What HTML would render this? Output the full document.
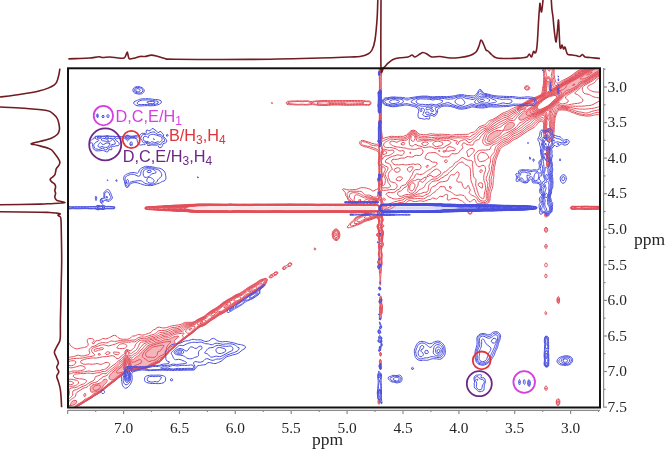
<!DOCTYPE html>
<html><head><meta charset="utf-8"><style>
html,body{margin:0;padding:0;background:#fff;overflow:hidden;}
svg{display:block;filter:blur(0.3px);}
</style></head><body>
<svg width="666" height="450" viewBox="0 0 666 450">
<rect width="666" height="450" fill="#fff"/>
<defs><clipPath id="pc"><rect x="69.0" y="69.3" width="530.0" height="337.3"/></clipPath></defs>

<rect x="152" y="206.6" width="224" height="3.2" fill="#fbe6e8"/>
<rect x="386" y="206.4" width="118" height="3.2" fill="#dcdcf6"/>

<g clip-path="url(#pc)" stroke="none">
<path fill="#f4b4ba" fill-rule="evenodd" d="M522.0 119.9 521.0 120.0 520.1 119.8 519.5 119.5 519.1 118.8 519.1 117.8 519.5 116.8 519.9 116.3 520.3 115.8 520.9 115.3 521.5 114.9 522.0 114.5 522.5 114.1 523.0 113.7 523.5 113.2 524.0 112.7 524.5 112.2 525.0 111.7 525.5 111.2 526.0 110.7 526.5 110.3 527.1 109.8 527.7 109.3 528.5 108.8 529.0 108.5 529.5 108.1 530.0 107.8 530.7 107.3 531.5 106.8 532.0 106.4 532.5 105.9 533.0 105.3 533.4 104.8 533.6 104.3 533.5 103.8 532.9 103.8 532.0 104.1 531.4 104.3 530.5 104.8 530.0 105.0 529.4 105.3 528.5 105.8 528.0 106.0 527.5 106.3 526.5 106.8 526.0 107.0 525.5 107.3 524.5 107.8 524.0 108.0 523.4 108.3 522.5 108.7 522.0 108.9 521.0 109.3 520.5 109.4 519.7 109.3 520.0 108.5 520.5 108.1 521.0 107.8 521.8 107.3 522.5 106.9 523.0 106.6 523.6 106.3 524.5 105.8 525.0 105.6 525.5 105.3 526.5 104.8 527.0 104.5 527.5 104.3 528.4 103.8 529.0 103.5 529.5 103.2 530.4 102.8 531.0 102.5 531.5 102.2 532.2 101.8 533.0 101.4 533.5 101.1 534.2 100.8 535.0 100.5 535.5 100.2 536.5 99.8 537.0 99.6 537.5 99.3 538.4 98.8 539.0 98.5 539.5 98.2 540.2 97.8 541.0 97.4 541.5 97.1 542.1 96.8 542.9 96.3 543.5 96.0 544.0 95.6 544.5 95.3 545.1 94.8 545.6 94.3 546.1 93.8 546.5 93.3 547.0 92.7 547.5 92.0 548.0 91.6 549.0 91.7 550.0 91.7 551.0 91.5 551.5 91.3 552.5 90.8 553.0 90.6 553.6 90.3 554.5 89.9 555.0 89.7 555.9 89.3 556.5 89.1 557.1 88.8 558.0 88.4 558.5 88.2 559.2 87.8 560.0 87.3 560.5 86.9 561.0 86.6 561.5 86.2 562.2 85.8 562.9 85.3 563.5 85.0 564.0 84.7 564.7 84.3 565.5 83.9 566.0 83.6 566.5 83.3 567.4 82.8 568.0 82.5 568.5 82.2 569.1 81.8 570.0 81.3 570.5 81.0 571.0 80.7 571.8 80.3 572.5 79.9 573.0 79.7 573.7 79.3 574.5 78.8 575.0 78.5 575.5 78.2 576.2 77.8 577.0 77.3 577.5 77.0 578.0 76.7 578.7 76.3 579.5 75.8 580.0 75.5 580.5 75.2 581.1 74.8 581.8 74.3 582.4 73.8 583.0 73.4 583.5 73.0 584.0 72.7 584.6 72.3 585.5 71.8 586.0 71.5 586.5 71.2 587.3 70.8 588.0 70.4 588.5 70.2 589.2 69.8 590.0 69.4 590.5 69.1 591.2 68.8 592.0 68.4 592.5 68.1 593.0 67.8 593.6 67.3 594.3 66.8 594.9 66.3 595.5 65.9 596.0 65.5 596.5 65.3 597.5 65.2 598.5 65.1 599.5 65.0 600.5 65.0 601.5 65.0 602.5 64.9 603.4 65.3 603.4 66.3 603.3 67.3 603.3 68.3 603.2 69.3 603.1 70.3 603.0 71.1 602.5 71.5 602.0 71.9 601.4 72.3 600.6 72.8 600.0 73.1 599.5 73.4 598.6 73.8 598.0 74.1 597.5 74.3 596.6 74.8 596.0 75.2 595.5 75.5 595.0 75.8 594.2 76.3 593.5 76.8 593.0 77.1 592.5 77.5 592.0 77.8 591.2 78.3 590.5 78.8 590.0 79.2 589.5 79.5 589.0 79.8 588.3 80.3 587.5 80.7 587.0 81.0 586.4 81.3 585.5 81.7 585.0 82.0 584.3 82.3 583.5 82.6 583.0 82.9 582.1 83.3 581.5 83.7 581.0 84.1 580.5 84.6 580.0 85.2 579.5 85.8 579.1 86.3 578.5 86.8 578.0 87.2 577.5 87.6 577.0 87.9 576.3 88.3 575.5 88.8 575.0 89.1 574.5 89.4 573.9 89.8 573.1 90.3 572.5 90.7 572.0 91.0 571.5 91.3 570.7 91.8 570.0 92.2 569.5 92.4 568.8 92.8 568.0 93.2 567.5 93.5 566.9 93.8 566.0 94.3 565.5 94.6 565.0 95.1 564.5 95.6 564.0 96.1 563.5 96.6 563.0 97.2 562.5 97.7 562.0 98.2 561.5 98.8 561.1 99.3 560.7 99.8 560.1 100.3 559.5 100.7 559.0 101.0 558.5 101.3 557.6 101.8 557.0 102.2 556.5 102.5 556.0 102.8 555.3 103.3 554.7 103.8 554.1 104.3 553.5 104.8 553.0 105.2 552.5 105.6 552.0 106.1 551.5 106.5 551.0 107.0 550.5 107.5 550.0 108.1 549.5 108.8 549.2 109.3 548.8 109.8 548.5 110.3 547.5 110.7 546.5 110.5 545.5 110.6 545.0 110.8 544.0 111.3 543.5 111.5 543.0 111.8 542.0 112.3 541.5 112.5 540.8 112.8 540.0 113.2 539.5 113.4 538.5 113.8 538.0 114.0 537.1 114.3 536.5 114.5 535.5 114.8 535.0 114.9 534.0 115.2 533.4 115.3 532.5 115.6 531.9 115.8 531.0 116.2 530.5 116.4 529.5 116.7 529.0 116.8 528.0 117.0 527.0 117.3 526.5 117.5 525.9 117.8 525.1 118.3 524.5 118.7 524.0 119.0 523.5 119.3 522.5 119.8 522.0 119.9Z M507.5 129.8 506.5 129.9 505.8 129.8 505.0 129.4 504.8 128.8 504.9 127.8 505.0 127.2 505.3 126.3 505.7 125.8 506.2 125.3 506.8 124.8 507.4 124.3 508.0 123.8 508.5 123.4 509.0 123.0 509.5 122.7 510.5 122.4 511.5 122.4 512.5 122.7 513.0 123.0 513.5 123.3 514.0 123.8 514.2 124.8 514.0 125.5 513.5 126.3 513.1 126.8 512.5 127.3 512.0 127.7 511.5 128.1 511.0 128.4 510.2 128.8 509.5 129.2 509.0 129.4 508.0 129.7 507.5 129.8Z M489.5 141.4 488.5 141.3 488.0 141.1 487.5 140.6 487.3 139.8 487.5 139.0 487.8 138.3 488.1 137.8 488.4 136.8 488.7 136.3 489.0 135.7 489.5 135.0 490.0 134.5 490.5 134.1 491.0 133.7 491.7 133.3 492.5 132.8 493.0 132.4 493.5 132.1 494.0 131.8 495.0 131.3 495.5 131.2 496.5 130.8 497.0 130.7 498.0 130.5 499.0 130.6 499.8 130.8 500.5 131.1 501.1 131.3 501.2 132.3 501.0 132.8 500.5 133.7 500.1 134.3 499.7 134.8 499.2 135.3 498.5 135.7 498.0 136.0 497.5 136.3 496.6 136.8 496.0 137.2 495.5 137.5 495.0 137.9 494.4 138.3 493.8 138.8 493.1 139.3 492.5 139.8 492.0 140.1 491.5 140.5 491.0 140.8 490.0 141.2 489.5 141.4Z M378.5 211.5 377.5 211.7 376.5 211.7 375.5 211.7 374.5 211.7 373.5 211.7 372.5 211.6 371.5 211.6 370.5 211.6 369.5 211.6 368.5 211.6 367.5 211.6 366.5 211.6 365.5 211.6 364.5 211.6 363.5 211.6 362.5 211.5 361.5 211.5 360.5 211.5 359.5 211.5 358.5 211.5 357.5 211.5 356.5 211.5 355.5 211.5 354.5 211.6 353.5 211.6 352.5 211.6 351.5 211.6 350.5 211.6 349.5 211.6 348.5 211.6 347.5 211.6 346.5 211.6 345.5 211.6 344.5 211.5 343.5 211.5 342.5 211.5 341.5 211.5 340.5 211.5 339.5 211.5 338.5 211.5 337.5 211.5 336.5 211.5 335.5 211.5 334.5 211.5 333.5 211.5 332.5 211.5 331.5 211.5 330.5 211.5 329.5 211.5 328.5 211.5 327.5 211.5 326.5 211.5 325.5 211.5 324.5 211.6 323.5 211.6 322.5 211.6 321.5 211.6 320.5 211.5 319.5 211.5 318.5 211.5 317.5 211.5 316.5 211.5 315.5 211.5 314.5 211.5 313.5 211.5 312.5 211.5 311.5 211.5 310.5 211.5 309.5 211.5 308.5 211.5 307.5 211.6 306.5 211.6 305.5 211.6 304.5 211.6 303.5 211.6 302.5 211.6 301.5 211.6 300.5 211.6 299.5 211.6 298.5 211.6 297.5 211.6 296.5 211.6 295.5 211.6 294.5 211.6 293.5 211.6 292.5 211.6 291.5 211.6 290.5 211.6 289.5 211.6 288.5 211.6 287.5 211.6 286.5 211.6 285.5 211.6 284.5 211.6 283.5 211.6 282.5 211.6 281.5 211.5 280.5 211.5 279.5 211.5 278.5 211.5 277.5 211.5 276.5 211.5 275.5 211.5 274.5 211.5 273.5 211.5 272.5 211.5 271.5 211.6 270.5 211.6 269.5 211.6 268.5 211.6 267.5 211.6 266.5 211.6 265.5 211.6 264.5 211.6 263.5 211.6 262.5 211.6 261.5 211.6 260.5 211.6 259.5 211.6 258.5 211.6 257.5 211.6 256.5 211.6 255.5 211.6 254.5 211.6 253.5 211.6 252.5 211.6 251.5 211.6 250.5 211.5 249.5 211.5 248.5 211.6 247.5 211.5 246.5 211.5 245.5 211.5 244.5 211.5 243.5 211.5 242.5 211.5 241.5 211.5 240.5 211.5 239.5 211.4 238.5 211.4 237.5 211.4 236.5 211.4 235.5 211.5 234.5 211.5 233.5 211.5 232.5 211.6 231.5 211.6 230.5 211.7 229.5 211.7 228.5 211.6 227.5 211.6 226.5 211.6 225.5 211.6 224.5 211.6 223.5 211.6 222.5 211.6 221.5 211.6 220.5 211.6 219.5 211.6 218.5 211.6 217.5 211.6 216.5 211.6 215.5 211.6 214.5 211.6 213.5 211.6 212.5 211.6 211.5 211.6 210.5 211.6 209.5 211.5 208.5 211.5 207.5 211.5 206.5 211.5 205.5 211.5 204.5 211.5 203.5 211.5 202.5 211.5 201.5 211.4 200.5 211.4 199.5 211.4 198.5 211.4 197.5 211.4 196.5 211.4 195.5 211.3 194.9 211.3 194.0 211.3 193.0 211.2 192.0 211.2 191.0 211.1 190.0 211.1 189.0 210.9 188.5 210.8 187.5 210.7 186.5 210.6 185.5 210.6 184.5 210.5 183.5 210.4 182.5 210.3 182.0 210.3 181.0 210.3 180.0 210.2 179.0 210.2 178.0 210.2 177.0 210.1 176.0 210.0 175.0 209.9 174.0 209.8 173.5 209.8 172.5 209.7 171.5 209.6 170.5 209.5 169.5 209.5 168.5 209.4 167.7 209.3 167.0 209.3 166.2 209.3 165.5 209.4 164.6 209.3 164.0 209.1 163.4 208.8 162.8 208.3 163.1 207.8 163.9 207.3 164.5 207.1 165.5 207.0 166.5 207.1 167.5 207.0 168.5 206.9 169.5 206.8 170.0 206.8 171.0 206.7 172.0 206.6 173.0 206.5 174.0 206.4 175.0 206.4 176.0 206.3 177.0 206.3 177.5 206.3 178.5 206.3 179.5 206.2 180.5 206.2 181.5 206.2 182.5 206.1 183.5 206.0 184.5 206.0 185.5 205.9 186.5 205.8 187.2 205.8 188.0 205.7 189.0 205.5 190.0 205.4 191.0 205.3 192.0 205.3 192.8 205.3 193.5 205.2 194.5 205.1 195.5 205.1 196.5 205.0 197.5 205.0 198.5 204.9 199.5 204.9 200.5 204.9 201.5 204.9 202.5 204.9 203.5 204.9 204.5 204.9 205.5 204.9 206.5 204.9 207.5 204.9 208.5 204.9 209.5 204.9 210.5 204.9 211.5 204.9 212.5 204.9 213.5 204.9 214.5 204.9 215.5 204.9 216.5 204.9 217.5 204.9 218.5 204.9 219.5 204.9 220.5 204.9 221.5 204.9 222.5 204.9 223.5 204.9 224.5 204.9 225.5 204.9 226.5 204.9 227.5 204.9 228.5 204.9 229.5 204.8 230.0 204.8 230.6 204.8 231.5 204.8 232.5 204.9 233.5 204.9 234.5 204.9 235.5 204.9 236.5 204.9 237.5 204.9 238.5 204.9 239.5 204.9 240.5 204.9 241.5 204.9 242.5 204.9 243.5 204.9 244.5 204.9 245.5 204.9 246.5 204.9 247.5 204.9 248.5 204.9 249.5 204.9 250.5 204.9 251.5 204.9 252.5 204.9 253.5 204.9 254.5 204.9 255.5 204.9 256.5 204.9 257.5 204.9 258.5 204.9 259.5 204.9 260.5 204.9 261.5 204.9 262.5 204.9 263.5 204.9 264.5 204.9 265.5 204.9 266.5 204.9 267.5 204.9 268.5 204.9 269.5 204.9 270.5 204.9 271.5 204.9 272.5 204.9 273.5 204.9 274.5 204.9 275.5 204.9 276.5 204.9 277.5 204.9 278.5 204.9 279.5 204.9 280.5 204.9 281.5 204.9 282.5 204.8 283.5 204.8 284.5 204.8 285.5 204.8 286.5 204.8 287.5 204.8 288.5 204.8 289.5 204.8 290.5 204.8 291.5 204.8 292.5 204.8 293.5 204.8 294.5 204.8 295.5 204.8 296.5 204.8 297.5 204.8 298.5 204.9 299.5 204.9 300.5 204.9 301.5 204.8 302.5 204.8 303.5 204.8 304.5 204.8 305.5 204.8 306.5 204.8 307.5 204.8 308.5 204.8 309.5 204.8 310.5 204.9 311.5 204.9 312.5 204.9 313.5 204.9 314.5 204.9 315.5 204.9 316.5 204.9 317.5 204.9 318.5 204.9 319.5 204.9 320.5 204.9 321.5 204.9 322.5 204.9 323.5 204.9 324.5 204.9 325.5 204.9 326.5 204.9 327.5 204.9 328.5 204.9 329.5 204.9 330.5 204.9 331.5 204.9 332.5 204.9 333.5 204.9 334.5 204.9 335.5 204.9 336.5 204.9 337.5 204.9 338.5 204.9 339.5 204.9 340.5 204.9 341.5 204.9 342.5 204.9 343.5 204.9 344.5 204.9 345.5 204.9 346.5 204.8 347.5 204.8 348.5 204.8 349.5 204.8 350.5 204.8 351.5 204.8 352.5 204.8 353.5 204.8 354.5 204.8 355.5 204.8 356.5 204.8 357.5 204.8 358.5 204.8 359.5 204.8 360.5 204.9 361.5 204.9 362.5 204.9 363.5 204.9 364.5 204.9 365.5 204.9 366.5 204.9 367.5 204.8 368.5 204.8 369.5 204.8 370.5 204.8 371.5 204.8 372.5 204.8 373.5 204.8 374.5 204.8 375.5 204.8 376.2 204.8 377.0 204.7 377.6 204.8 378.5 205.0 379.0 205.3 379.5 205.8 380.0 206.5 380.4 207.3 380.5 208.3 380.4 209.3 380.0 210.3 379.8 210.8 379.0 211.3 378.5 211.5Z M380.0 212.5 380.0 212.0 380.0 212.5Z M225.0 307.4 224.0 307.4 224.0 307.1 224.3 306.3 224.7 305.8 225.2 305.3 226.0 304.8 226.5 304.6 227.5 304.3 228.2 304.8 228.0 305.3 227.5 305.9 227.0 306.3 226.3 306.8 225.5 307.2 225.0 307.4Z M201.0 323.4 200.0 323.4 199.8 322.8 200.2 322.3 201.0 321.8 201.5 321.6 202.5 321.5 203.0 321.8 202.8 322.3 202.3 322.8 201.5 323.2 201.0 323.4Z M189.5 329.9 189.4 329.3 189.8 328.8 190.4 328.3 191.0 328.1 191.6 328.3 191.3 328.8 190.8 329.3 190.0 329.7 189.5 329.9Z M113.5 379.4 112.5 379.7 111.5 379.7 110.8 379.3 110.0 378.8 109.5 378.4 109.2 377.8 109.3 376.8 109.5 376.3 110.0 375.4 110.3 374.8 110.7 374.3 111.1 373.8 111.6 373.3 112.2 372.8 112.8 372.3 113.4 371.8 113.9 371.3 114.5 370.8 115.0 370.3 115.5 369.8 116.0 369.3 116.5 368.9 117.0 368.5 117.5 368.1 118.0 367.7 118.5 367.3 119.0 366.8 119.6 366.3 120.1 365.8 120.6 365.3 121.2 364.8 121.8 364.3 122.3 363.8 122.7 363.3 123.0 362.8 123.5 362.0 123.8 361.3 124.0 360.8 124.5 359.8 124.7 359.3 125.0 358.8 125.5 358.0 126.0 357.4 126.5 356.9 127.0 356.5 128.0 356.8 128.5 357.2 129.0 357.8 129.4 358.3 129.8 358.8 130.2 359.3 130.7 359.8 131.5 360.3 132.0 360.3 132.5 360.2 133.3 359.8 133.9 359.3 134.4 358.8 134.9 358.3 135.4 357.8 136.0 357.4 136.5 357.1 137.0 356.8 137.8 356.3 138.4 355.8 138.9 355.3 139.4 354.8 139.8 354.3 140.2 353.8 140.6 353.3 141.0 352.8 141.5 352.3 142.1 351.8 142.6 351.3 143.1 350.8 143.6 350.3 144.1 349.8 144.6 349.3 145.1 348.8 145.5 348.3 146.0 347.7 146.5 347.2 147.0 346.7 147.5 346.3 148.1 345.8 148.9 345.3 149.5 345.0 150.0 344.8 151.0 344.4 151.5 344.2 152.5 343.9 153.0 343.8 154.0 343.4 154.5 343.2 155.5 342.8 156.0 342.6 157.0 342.3 157.5 342.2 158.5 342.0 159.5 341.8 160.0 341.7 161.0 341.4 161.5 341.1 162.2 340.8 163.0 340.4 163.5 340.2 164.5 339.9 165.3 339.8 166.0 339.8 167.0 339.7 168.0 339.6 168.9 339.3 169.5 339.0 170.0 338.8 170.9 338.3 171.5 338.0 172.0 337.7 173.0 337.3 173.5 337.2 174.5 336.9 175.1 336.8 176.0 336.6 177.0 336.5 178.0 336.4 178.6 336.8 178.0 337.3 177.5 337.7 177.0 338.1 176.5 338.5 176.0 338.9 175.5 339.3 175.0 339.8 174.5 340.3 174.0 341.3 174.0 341.3 174.3 342.3 174.4 343.3 174.1 344.3 173.8 344.8 173.3 345.3 172.5 345.8 172.0 346.0 171.4 346.3 170.5 346.7 170.0 347.1 169.5 347.6 169.0 348.2 168.7 348.8 168.5 349.5 168.4 350.3 168.0 351.3 167.6 351.8 167.3 352.3 166.9 352.8 166.4 353.3 166.0 353.8 165.5 354.3 165.0 354.8 164.4 355.3 163.9 355.8 163.3 356.3 162.7 356.8 162.0 357.3 161.5 357.5 160.8 357.8 160.0 358.3 159.5 358.6 159.0 359.0 158.5 359.5 158.0 359.9 157.5 360.4 157.0 360.8 156.2 361.3 155.5 361.7 155.0 361.8 154.0 362.2 153.5 362.4 152.7 362.8 152.0 363.2 151.5 363.5 151.0 363.8 150.1 364.3 149.5 364.6 149.0 365.0 148.5 365.3 147.7 365.8 147.0 366.1 146.5 366.4 145.5 366.6 144.5 366.7 143.5 366.8 143.0 366.8 142.0 366.8 141.0 366.8 140.5 366.7 139.5 366.6 138.5 366.6 137.5 366.7 136.8 366.8 136.0 367.0 135.0 367.3 134.5 367.5 133.8 367.8 133.0 368.1 132.5 368.3 131.5 368.7 131.0 368.9 130.2 369.3 129.5 369.6 128.9 369.8 128.0 370.1 127.2 370.3 126.5 370.7 126.0 371.0 125.4 371.3 124.5 371.8 124.0 372.1 123.5 372.4 122.8 372.8 122.1 373.3 121.5 373.7 121.0 374.0 120.5 374.4 119.8 374.8 119.0 375.3 118.5 375.5 118.0 375.8 117.2 376.3 116.5 376.8 116.0 377.2 115.5 377.6 115.0 378.1 114.5 378.6 114.0 379.0 113.5 379.4Z M94.5 391.8 93.5 391.9 92.5 392.0 91.8 391.8 91.2 391.3 90.9 390.8 90.6 389.8 90.5 388.8 90.6 387.8 91.0 386.9 91.3 386.3 91.8 385.8 92.4 385.3 93.0 385.0 93.5 384.8 94.5 384.4 95.1 384.3 96.0 384.1 97.0 383.9 97.5 383.8 98.5 383.6 99.5 383.3 100.0 383.2 101.0 382.9 101.5 382.7 102.1 382.3 102.5 381.8 103.0 381.0 103.5 380.4 104.0 380.0 104.5 379.7 105.5 379.5 106.3 379.8 106.6 380.3 106.6 381.3 106.5 381.8 106.0 382.5 105.5 383.0 105.0 383.3 104.3 383.8 103.8 384.3 103.5 384.8 103.1 385.8 102.9 386.3 102.5 387.0 102.0 387.7 101.5 388.3 101.0 388.7 100.5 389.2 100.0 389.6 99.5 389.9 98.9 390.3 98.0 390.8 97.5 391.0 96.7 391.3 96.0 391.5 95.0 391.7 94.5 391.8Z M73.0 404.9 72.0 404.8 71.5 404.4 71.3 403.8 71.5 402.8 71.7 402.3 72.1 401.8 72.6 401.3 73.5 400.8 74.0 400.7 75.0 400.7 75.6 400.8 76.3 401.3 76.4 402.3 76.0 403.1 75.5 403.7 75.0 404.1 74.5 404.4 73.5 404.8 73.0 404.9Z M68.5 407.8 67.5 408.1 66.8 407.8 66.9 406.8 67.3 406.3 68.0 406.0 69.0 406.3 69.2 406.8 69.0 407.4 68.5 407.8Z M540.0 109.4 539.0 109.4 538.5 109.3 537.7 108.8 537.3 108.3 537.3 107.3 537.5 106.5 537.9 105.8 538.2 105.3 538.6 104.8 539.1 104.3 539.6 103.8 540.1 103.3 540.6 102.8 541.1 102.3 541.6 101.8 542.2 101.3 542.7 100.8 543.3 100.3 544.0 99.8 544.5 99.4 545.0 99.1 545.5 98.8 546.3 98.3 547.0 97.8 547.5 97.5 548.0 97.3 549.0 96.9 549.5 96.7 550.5 96.4 551.0 96.3 552.0 96.0 552.7 95.8 553.5 95.6 554.5 95.4 555.5 95.4 556.4 95.8 556.7 96.3 556.6 97.3 556.3 97.8 555.9 98.3 555.5 98.8 555.0 99.3 554.4 99.8 553.9 100.3 553.4 100.8 552.9 101.3 552.4 101.8 551.9 102.3 551.4 102.8 550.8 103.3 550.3 103.8 549.7 104.3 549.1 104.8 548.5 105.2 548.0 105.6 547.5 105.9 546.8 106.3 546.0 106.8 545.5 107.0 545.0 107.3 544.0 107.8 543.5 108.1 543.0 108.3 542.0 108.8 541.5 109.0 540.5 109.3 540.0 109.4Z M377.0 210.8 376.0 210.8 375.0 210.9 374.0 210.9 373.0 210.9 372.0 210.9 371.0 210.9 370.0 210.9 369.0 210.9 368.0 210.9 367.0 210.9 366.0 210.9 365.0 210.9 364.0 210.8 363.0 210.8 362.1 210.8 361.5 210.8 360.5 210.8 359.5 210.8 358.5 210.8 357.5 210.8 356.5 210.8 355.6 210.8 355.0 210.8 354.0 210.8 353.0 210.9 352.0 210.9 351.0 210.9 350.0 210.9 349.0 210.9 348.0 210.9 347.0 210.9 346.0 210.8 345.1 210.8 344.5 210.8 343.5 210.8 342.5 210.8 341.5 210.8 340.5 210.8 339.5 210.8 338.5 210.8 337.5 210.8 336.5 210.8 335.5 210.8 334.5 210.8 333.5 210.8 332.5 210.8 331.5 210.8 330.5 210.7 329.5 210.7 328.5 210.8 327.5 210.8 326.5 210.8 325.5 210.8 324.9 210.8 324.0 210.8 323.0 210.8 322.0 210.8 321.5 210.8 320.5 210.8 319.5 210.8 318.5 210.8 317.5 210.8 316.5 210.8 315.5 210.8 314.5 210.8 313.5 210.8 312.5 210.8 311.5 210.8 310.5 210.8 309.5 210.8 308.5 210.8 308.0 210.8 307.0 210.8 306.0 210.8 305.0 210.9 304.0 210.9 303.0 210.9 302.0 210.9 301.0 210.9 300.0 210.9 299.0 210.9 298.0 210.9 297.0 210.9 296.0 210.9 295.0 210.9 294.0 210.9 293.0 210.9 292.0 210.9 291.0 210.9 290.0 210.9 289.0 210.9 288.0 210.9 287.0 210.9 286.0 210.9 285.0 210.9 284.0 210.9 283.0 210.9 282.0 210.8 281.5 210.8 280.5 210.8 279.5 210.8 278.5 210.8 277.5 210.8 276.5 210.8 275.5 210.8 274.5 210.8 273.5 210.8 272.7 210.8 272.0 210.8 271.0 210.9 270.0 210.9 269.0 210.9 268.0 210.9 267.0 210.9 266.0 210.9 265.0 210.9 264.0 210.9 263.0 210.9 262.0 210.9 261.0 210.9 260.0 210.9 259.0 210.9 258.0 210.9 257.0 210.9 256.0 210.9 255.0 210.9 254.0 210.9 253.0 210.8 252.0 210.8 251.0 210.8 250.0 210.8 249.0 210.8 248.0 210.8 247.5 210.8 246.5 210.8 245.5 210.8 244.5 210.8 243.5 210.8 242.5 210.8 241.5 210.8 240.5 210.7 239.5 210.7 238.5 210.7 237.5 210.7 236.5 210.7 235.5 210.8 234.5 210.8 233.5 210.8 233.0 210.8 232.0 210.9 231.0 211.0 230.0 211.1 229.0 211.0 228.0 210.9 227.0 210.8 226.0 210.8 225.1 210.8 224.5 210.8 223.5 210.8 222.5 210.8 221.5 210.8 220.5 210.8 219.5 210.8 218.5 210.8 217.5 210.8 216.5 210.8 215.5 210.8 214.5 210.8 214.0 210.8 213.0 210.8 212.2 210.8 211.5 210.8 210.5 210.8 209.5 210.7 208.5 210.7 207.5 210.7 206.5 210.6 205.5 210.6 204.5 210.6 203.5 210.6 202.5 210.6 201.5 210.6 200.5 210.6 199.5 210.6 198.5 210.5 197.5 210.5 196.5 210.5 195.5 210.4 194.5 210.4 193.8 210.3 193.0 210.2 192.0 210.1 191.0 210.1 190.0 209.9 189.3 209.8 188.5 209.6 187.7 209.3 187.0 209.1 186.0 209.0 185.0 208.8 184.5 208.6 183.8 208.3 184.4 207.8 185.0 207.7 186.0 207.5 186.9 207.3 187.5 207.2 188.5 206.8 189.0 206.7 190.0 206.5 191.0 206.4 192.0 206.4 192.9 206.3 193.5 206.2 194.5 206.1 195.5 206.0 196.5 205.9 197.5 205.9 198.5 205.8 199.5 205.8 200.0 205.8 201.0 205.8 202.0 205.8 203.0 205.8 204.0 205.8 205.0 205.8 206.0 205.7 207.0 205.7 208.0 205.7 209.0 205.6 210.0 205.6 211.0 205.6 212.0 205.6 213.0 205.6 214.0 205.6 215.0 205.6 216.0 205.6 217.0 205.6 218.0 205.6 219.0 205.6 220.0 205.6 221.0 205.6 222.0 205.6 223.0 205.6 224.0 205.6 225.0 205.6 226.0 205.6 227.0 205.6 228.0 205.6 229.0 205.4 230.0 205.4 231.0 205.4 232.0 205.5 233.0 205.5 234.0 205.5 235.0 205.5 236.0 205.6 237.0 205.6 238.0 205.6 239.0 205.6 240.0 205.6 241.0 205.6 242.0 205.6 243.0 205.6 244.0 205.6 245.0 205.6 246.0 205.6 247.0 205.6 248.0 205.6 249.0 205.6 250.0 205.6 251.0 205.6 252.0 205.6 253.0 205.5 254.0 205.5 255.0 205.5 256.0 205.5 257.0 205.5 258.0 205.5 259.0 205.5 260.0 205.5 261.0 205.5 262.0 205.5 263.0 205.5 264.0 205.5 265.0 205.5 266.0 205.5 267.0 205.5 268.0 205.5 269.0 205.5 270.0 205.5 271.0 205.5 272.0 205.5 273.0 205.5 274.0 205.5 275.0 205.5 276.0 205.5 277.0 205.5 278.0 205.5 279.0 205.5 280.0 205.5 281.0 205.5 282.0 205.5 283.0 205.5 284.0 205.4 285.0 205.4 286.0 205.4 287.0 205.4 288.0 205.4 289.0 205.4 290.0 205.4 291.0 205.4 292.0 205.4 293.0 205.4 294.0 205.4 295.0 205.4 296.0 205.5 297.0 205.5 298.0 205.5 299.0 205.5 300.0 205.5 301.0 205.5 302.0 205.5 303.0 205.4 304.0 205.4 305.0 205.4 306.0 205.4 307.0 205.5 308.0 205.5 309.0 205.5 310.0 205.5 311.0 205.5 312.0 205.5 313.0 205.5 314.0 205.5 315.0 205.6 316.0 205.6 317.0 205.6 318.0 205.6 319.0 205.7 320.0 205.6 321.0 205.6 322.0 205.6 323.0 205.5 324.0 205.5 325.0 205.5 326.0 205.5 327.0 205.5 328.0 205.6 329.0 205.6 330.0 205.6 331.0 205.6 332.0 205.5 333.0 205.5 334.0 205.5 335.0 205.6 336.0 205.6 337.0 205.6 338.0 205.6 339.0 205.6 340.0 205.6 341.0 205.6 342.0 205.6 343.0 205.5 344.0 205.5 345.0 205.5 346.0 205.5 347.0 205.4 348.0 205.4 349.0 205.4 350.0 205.4 351.0 205.4 352.0 205.4 353.0 205.4 354.0 205.5 355.0 205.5 356.0 205.5 357.0 205.5 358.0 205.5 359.0 205.5 360.0 205.5 361.0 205.5 362.0 205.5 363.0 205.6 364.0 205.6 365.0 205.6 366.0 205.5 367.0 205.5 368.0 205.5 369.0 205.5 370.0 205.5 371.0 205.5 372.0 205.5 373.0 205.6 374.0 205.6 375.0 205.6 376.0 205.6 377.0 205.6 377.9 205.8 378.5 206.1 379.0 206.6 379.4 207.3 379.6 207.8 379.6 208.8 379.4 209.3 379.0 209.9 378.5 210.4 377.5 210.8 377.0 210.8Z"/>
<path fill="#b8bcf2" fill-rule="evenodd" d="M440.5 211.3 439.5 211.4 438.5 211.3 438.0 211.3 437.1 211.3 436.5 211.4 435.5 211.4 434.5 211.5 433.5 211.6 432.5 211.6 431.5 211.6 430.5 211.6 429.5 211.6 428.5 211.6 427.5 211.7 426.5 211.7 425.5 211.7 424.5 211.7 423.5 211.7 422.5 211.7 421.5 211.7 420.5 211.7 419.5 211.7 418.5 211.7 417.5 211.7 416.5 211.7 415.5 211.7 414.5 211.7 413.5 211.7 412.5 211.7 411.5 211.7 410.5 211.6 409.5 211.7 408.5 211.7 407.5 211.7 406.5 211.7 405.5 211.7 404.5 211.7 403.5 211.6 402.5 211.6 401.5 211.6 400.5 211.6 399.5 211.7 398.5 211.7 397.5 211.7 396.5 211.7 395.5 211.7 394.5 211.7 393.5 211.7 392.5 211.7 391.5 211.6 390.5 211.6 389.5 211.6 388.5 211.6 387.5 211.6 386.5 211.6 385.5 211.6 384.5 211.6 383.5 211.6 382.5 211.5 381.9 211.3 381.0 210.8 380.5 210.4 380.1 209.8 379.8 209.3 379.6 208.3 379.7 207.3 380.0 206.8 380.5 205.9 381.0 205.5 381.5 205.2 382.5 204.9 383.5 204.8 384.5 204.8 385.5 204.8 386.5 204.8 387.5 204.8 388.5 204.8 389.5 204.8 390.5 204.8 391.5 204.8 392.5 204.8 393.5 204.8 394.5 204.8 395.5 204.8 396.0 204.8 397.0 204.8 398.0 204.7 399.0 204.7 400.0 204.7 401.0 204.7 402.0 204.7 403.0 204.7 404.0 204.7 405.0 204.7 406.0 204.7 407.0 204.7 408.0 204.7 409.0 204.7 410.0 204.7 411.0 204.7 412.0 204.7 413.0 204.7 414.0 204.7 415.0 204.7 416.0 204.7 417.0 204.7 418.0 204.7 419.0 204.6 420.0 204.6 421.0 204.6 422.0 204.6 423.0 204.6 424.0 204.6 425.0 204.6 426.0 204.6 427.0 204.6 428.0 204.6 429.0 204.6 430.0 204.6 431.0 204.6 432.0 204.7 433.0 204.7 434.0 204.8 434.9 204.8 435.5 204.8 436.5 204.8 437.5 204.9 438.5 204.8 439.5 204.8 440.5 204.8 441.5 204.9 442.5 205.1 443.5 205.1 444.5 205.2 445.5 205.2 446.5 205.2 447.5 205.2 448.5 205.2 449.5 205.2 450.5 205.3 451.5 205.3 452.5 205.3 453.5 205.3 454.0 205.3 455.0 205.3 456.0 205.4 457.0 205.4 458.0 205.5 459.0 205.5 460.0 205.6 461.0 205.6 462.0 205.6 463.0 205.6 464.0 205.6 465.0 205.6 466.0 205.6 467.0 205.6 468.0 205.6 469.0 205.6 470.0 205.6 471.0 205.6 472.0 205.6 473.0 205.6 474.0 205.6 475.0 205.7 476.0 205.7 477.0 205.7 478.0 205.8 478.5 205.8 479.5 205.8 480.5 205.8 481.5 205.9 482.5 205.9 483.5 205.9 484.5 206.0 485.5 206.0 486.5 206.0 487.5 206.0 488.5 205.9 489.5 205.9 490.5 205.9 491.5 205.9 492.5 205.9 493.5 205.9 494.5 206.0 495.5 206.0 496.5 206.0 497.5 206.1 498.5 206.1 499.5 206.2 500.5 206.2 501.5 206.3 502.0 206.3 503.0 206.3 504.0 206.4 505.0 206.4 506.0 206.4 507.0 206.4 508.0 206.4 509.0 206.4 510.0 206.4 511.0 206.4 512.0 206.4 513.0 206.4 514.0 206.4 515.0 206.4 516.0 206.5 517.0 206.5 518.0 206.6 519.0 206.6 520.0 206.6 521.0 206.7 522.0 206.7 523.0 206.7 524.0 206.8 524.5 206.8 525.5 206.9 526.5 206.9 527.5 207.0 528.5 207.2 529.1 207.3 530.0 207.7 530.0 207.9 529.1 208.3 528.5 208.4 527.5 208.6 526.5 208.7 525.6 208.8 525.0 208.9 524.0 209.0 523.0 209.0 522.0 209.1 521.0 209.1 520.0 209.1 519.0 209.1 518.0 209.2 517.0 209.2 516.0 209.2 515.0 209.3 514.0 209.3 513.3 209.3 512.5 209.3 511.5 209.4 510.5 209.4 509.5 209.5 508.5 209.5 507.5 209.5 506.5 209.5 505.5 209.6 504.5 209.6 503.5 209.6 502.5 209.7 501.5 209.7 500.5 209.7 499.5 209.7 498.5 209.7 497.5 209.8 496.5 209.8 496.0 209.8 495.0 209.9 494.0 209.9 493.0 210.0 492.0 210.0 491.0 210.0 490.0 210.0 489.0 209.9 488.0 209.9 487.0 209.9 486.0 209.9 485.0 209.9 484.0 209.9 483.0 210.0 482.0 210.0 481.0 210.1 480.0 210.1 479.0 210.2 478.0 210.2 477.0 210.2 476.0 210.3 475.2 210.3 474.5 210.3 473.5 210.4 472.5 210.4 471.5 210.4 470.5 210.4 469.5 210.4 468.5 210.4 467.5 210.4 466.5 210.4 465.5 210.4 464.5 210.4 463.5 210.4 462.5 210.4 461.5 210.5 460.5 210.5 459.5 210.5 458.5 210.6 457.5 210.6 456.5 210.6 455.5 210.7 454.5 210.7 453.5 210.7 452.5 210.8 451.5 210.8 450.5 210.8 450.0 210.8 449.0 210.8 448.0 210.9 447.0 210.9 446.0 210.9 445.0 210.9 444.0 210.9 443.0 211.0 442.0 211.1 441.0 211.3 440.5 211.3Z M413.5 210.8 412.5 210.8 412.0 210.8 411.0 210.8 410.0 210.8 409.5 210.8 408.5 210.8 407.5 210.9 406.5 210.9 405.5 210.9 404.5 210.8 403.9 210.8 403.0 210.8 402.0 210.8 401.4 210.8 400.5 210.8 399.5 210.9 398.5 210.9 397.5 211.0 396.5 211.0 395.5 211.0 394.5 211.0 393.5 211.0 392.5 210.9 391.5 210.9 390.5 210.9 389.5 210.9 388.5 210.9 387.5 210.9 386.5 210.9 385.5 210.9 384.5 210.9 383.5 210.9 382.5 210.8 382.0 210.7 381.4 210.3 380.8 209.8 380.5 209.1 380.3 208.3 380.4 207.3 380.6 206.8 381.1 206.3 381.8 205.8 382.5 205.5 383.5 205.5 384.5 205.5 385.5 205.5 386.5 205.5 387.5 205.5 388.5 205.5 389.5 205.5 390.5 205.5 391.5 205.5 392.5 205.5 393.5 205.5 394.5 205.4 395.5 205.4 396.5 205.4 397.5 205.4 398.5 205.4 399.5 205.4 400.5 205.4 401.5 205.4 402.5 205.4 403.5 205.4 404.5 205.4 405.5 205.4 406.5 205.4 407.5 205.5 408.5 205.5 409.5 205.5 410.5 205.5 411.5 205.5 412.5 205.5 413.5 205.5 414.5 205.5 415.5 205.5 416.5 205.5 417.5 205.5 418.5 205.5 419.5 205.5 420.5 205.5 421.5 205.5 422.5 205.5 423.5 205.5 424.5 205.5 425.5 205.5 426.5 205.5 427.5 205.5 428.5 205.5 429.5 205.6 430.5 205.6 431.5 205.6 432.5 205.7 433.5 205.7 434.5 205.8 435.0 205.8 436.0 205.9 437.0 205.9 438.0 205.9 439.0 205.9 440.0 205.9 441.0 206.0 442.0 206.2 442.5 206.3 443.5 206.4 444.5 206.4 445.5 206.4 446.5 206.5 447.5 206.5 448.5 206.5 449.5 206.5 450.5 206.6 451.5 206.6 452.5 206.6 453.5 206.6 454.5 206.6 455.5 206.7 456.5 206.8 457.0 206.8 458.0 207.0 459.0 207.1 460.0 207.2 461.0 207.2 462.0 207.2 463.0 207.1 464.0 207.1 465.0 207.0 466.0 207.0 467.0 207.1 468.0 207.1 469.0 207.1 470.0 207.1 471.0 207.1 472.0 207.1 473.0 207.1 474.0 207.1 475.0 207.1 476.0 207.2 477.0 207.2 477.9 207.3 478.5 207.4 479.5 207.5 480.5 207.7 481.1 207.8 480.5 208.2 480.0 208.4 479.0 208.5 478.0 208.6 477.0 208.7 476.5 208.8 475.5 208.9 474.5 208.9 473.5 208.9 472.5 208.9 471.5 208.9 470.5 208.9 469.5 208.9 468.5 208.9 467.5 208.9 466.5 208.9 465.5 208.9 464.5 208.9 463.5 208.9 462.5 208.9 461.5 208.9 460.5 208.9 459.5 208.9 458.5 209.0 457.5 209.1 456.5 209.2 455.5 209.3 455.0 209.3 454.0 209.4 453.0 209.4 452.0 209.5 451.0 209.5 450.0 209.5 449.0 209.5 448.0 209.6 447.0 209.6 446.0 209.6 445.0 209.6 444.0 209.7 443.0 209.7 442.4 209.8 441.5 210.0 440.5 210.2 439.5 210.3 438.5 210.2 437.5 210.2 436.5 210.3 436.0 210.3 435.0 210.4 434.0 210.5 433.0 210.6 432.0 210.6 431.0 210.6 430.0 210.7 429.0 210.7 428.0 210.7 427.0 210.7 426.0 210.8 425.0 210.8 424.0 210.8 423.0 210.7 422.0 210.8 421.0 210.8 420.0 210.8 419.0 210.8 418.0 210.8 417.0 210.8 416.0 210.8 415.0 210.8 414.0 210.8 413.5 210.8Z M494.5 208.3 493.5 208.4 492.5 208.4 491.5 208.4 490.5 208.3 490.0 208.1 489.4 207.8 490.0 207.7 491.0 207.6 492.0 207.5 493.0 207.5 494.0 207.6 495.0 207.7 495.0 208.1 494.5 208.3Z"/>
</g>
<g clip-path="url(#pc)" fill="none" stroke-width="1.0" stroke-linejoin="round">
<g stroke="#e2505b">
<path d="M603 115.1l-1.5-.1-1.5-.2-1.5-.1-1.5 0-1.1 .1-1.4 .2-1.5 .3-1.5 .4-1.5 .2-1.5 .2-1.5 0-1.5-.1-1.3-.2-1.2-.2-1.5-.2-1.5-.3-1.3-.3-1.2-.3-1.5-.6-1.5-.6-1.3-.5-1.2-.5-1.3-.5-1.2-.5-1.5-.5-1.5-.4-1.5-.3-1.5-.1-1.5-.1-1.5 .2-1.1 .2-1 .5-.9 .9-.6 1.1-.6 1.5-.6 1.5-.5 1.5-.2 1.5-.1 1.5-.2 1.5-.2 1.5-.1 1.5-.1 1.5 0 1.5-.1 1.5 0 1.5-.2 1.5-.1 1.5 0 1.5 0 1.5-.3 1.5-.5 1-.8 1-1.3 .8-1.5 .3-1.5-.3-1.5-.7-1-.9-.9-1.2-.5-1-.3-1.5-.1-1.5-.1-1.5-.1-1.3-.1-1.2 0-1.5 .1-1.5 .1-1.5 .1-1.5-.2-1.5-.7-1-1.3-.6-1.5 .3-1 .5-.9 .8-.8 1-.7 1-.8 1-.8 .8-.9 .7-1.1 .7-1 .6-1 .6-1 .4-1 .6-1 .6-1 .7-1 .8-1 .7-1 .6-1 .6-1 .7-1 .8-.9 .6-1.1 .7-1 .7-1 .6-1 .5-1.2 .5-1 .5-1.3 .8-1 .9-1 .8-1 .7-1 .5-1 .6-1 .5-1 .5-1 .5-1 .6-1 .7-1 .7-1 1.1-.6 1.1-.5 1.5-.4 1.1-.5 1.1-.7 1.3-.4 1-.6 1.5-.5 1.5-.5 1.5-.2 1.5-.2 1.5-.3 1.5-.4 1.5-.2 1.3-.1 1.2-.2 1.5-.3 1.5-.1 1.5 .1 1.5 0 1.5-.4 1.5-.3 1.5 0 1.5 0 1.5-.1 1.5-.2 1.5-.2 1.5-.4 1.5-.6 1.5-.5 1.5-.4 1.5-.3 1.5-.2 1.5-.1 1.5-.1 1.5-.2 1.5-.6 1.5-.7 1-1.1 1-1 .6-1.5 .6-1.5 .2-1.5 .2-1.5 .2-1.5 .5-1.5 .5-1.5-.2-1.5-.1-1.5 .4-1.5 .4-1.5 0-1.5-.6-.9-.7-.9-1-1.2-.8-.9-.7-.9-1-1.1-1-1.1-.6-1.2-.4-1.1-.5-1.2-.9-1.5-.4-1.5-.1-1.5 0-1.5 .2-1.5 .7-1 .6-1.5 .2-.9-.8 .3-1.5 .3-1.5-.1-1.5-1.1-.5-1.3 .5-1.2 .7-.8 .8-1.2 .4-1-.5-1.1 .1-1.3 1-.9 1-1.2 .7-1.2-.2-1.3-.7-1.5-.1-1 .8-1 .6-1.5 .2-1.5 .4-1.5 .6-1.5 .6-1.5 .1-1.5-.3-1.5-.2-1.5 .2-1.5 .4-1.5 .1-1.5 0-1.1-.2-1.1-.5-1.3-.3-1.5 .2-1.3 .6-1.2 1-1 .8-1 .5-1.5 .4-1.5 .1-1.5 .4-1 .5-1.5 .5-1.5 .1-1.5 .6-1 .8-1 .8-1 .6-1 .6-1 .4-1.5 .3-1.5-.1-1.5-.1-1.1 .3-.3 1.5-.2 1.5-.4 1.2-.4 1.3-.2 1.5 .4 1.5 .4 1.5-.2 1.2-.7 1.3-.3 1.4 1 .8 .9 1.3-.4 1-1 .7-.5 1.3 .5 1 .5 1 .4 1.5 0 1.5-.3 1.5-.2 1.5-.1 1.5-.2 1.5-.1 1.5 .5 1.2 .4 1.3-.1 1.5-.8 1.5-.6 1-.3 1.5 0 1.5 .2 1.5 .2 1.1 .1 1.4-.1 1.5-.1 1.5 0 1.5 0 1.5 .1 1.5 0 1.5-.2 1.5-.4 1.5-.1 1.5 0 1.5-.1 1.5-.1 1.5-.1 1.3-.2 1.2-.1 1.5-.1 1.5 0 1.5 .1 1.5 0 1.5 0 1.5-.6 1-.2-1.5 0-1.5 0-1.5 .1-1.5 0-1.5-.2-1.5-.1-1.5-.2-1.5-.1-1.5-.1-1.5 0-1.5-.1-1.5-.5-1.5-.4-1.5-.3-1.1-.6-.9 .1-1.2 1-.8 .5-1.4 0-1.1-.2-1.5-.3-1.3-.2-1.2 .2-1.5 .3-1.5 .1-1.5-.2-1.5-.1-1.5 0-1.5 .3-1.5 .2-1.5-.2-1.5-.2-1.5-.2-1.3-1-1.1-1-1 .3-1.6 1.2-.4 .4-1.1-.1-1.5-.3-1.5-.5-1-.4-1.5 .2-1.5 .6-1 .6-1 .2-1.5-.2-1.5-.5-1.5-.9-1-1.1 0-1.4 .5-1.1 .4-1.5 .6-1.5 .5-1.5 .4-1.5 .4-1.5 .4-1.5 .7-1 .5-1 .6-1 .5-1 .5-1 .4-1.5 .6-1.5 .5-1.4 .5-1.1 .4-1.5 .6-1.5 .3-1.5 .4-1.5 .5-.9-.7 .9-1.3 1-1.1 .7-1.1 .7-1 1.1-1 1-.6 1-.9 .7-1 .6-1 1.1-1 1.1-.4 1.5-.6 1.3-.5 1.2-.5 1-.5 1-.4 1-.5 1.4-.6 1.1-.5-1-.5-1.5-.1-1.5 0-1.5 0-1.5 0-1.5 0-1.5 0-1.5 0-1.5 0-1.5 0-1.5 0-1.5 0-1.5 0-1.5 0-1.5 0-1.5 0-1.5 0-1.5 0-1.5 0-1.5 0-1.5 0-1.5 0-1.5 0-1.5 0-1.5 0-1.5 0-1.5 0-1.5 0-1.5 0-1.5 0-1.5 0-1.5 0-1.5 0-1.5 0-1.5 0-1.5 0-1.5 0-1.5 0-1.5 0-1.5 0-1.5 0-1.5 0-1.5 0-1.5 0-1.5 0-1.5 0-1.5 0-1.5 0-1.5 0-1.5 0-1.5 0-1.5 0-1.5 0-1.5 0-1.5 0-1.5 0-1.5 0-1.5 0-1.5 0-1.5 0-1.5 0-1.5 0-1.5 0-1.5 0-1.5 0-1.5 0-1.5 0-1.5 0-1.5 0-1.5 0-1.5 0-1.5 0-1.5 0-1.5 0-1.5 0-1.5 0-1.5 0-1.5 0-1.5 0-1.5 0-1.5 0-1.5 0-1.5 0-1.5 0-1.5-.1-1.5 0-1.5 .1-1.5 0-1.5 0-1.5 0-1.5 .1-1.5 0-1.5-.1-1.5 0-1.5 0-1.5 0-1.5 0-1.5 0-1.5 0-1.5 .1-1.5 0-1.5 0-1.5 0-1.5 0-1.5 0-1.5-.1-1.5 0-1.5 0-1.5 0-1.5 0-1.5 0-1.5 0-1.5 0-1.5 0-1.5 0-1.5-.1-1.5 0-1.5-.1-1.3-.2-1.2-.1-1.5-.1-1.5 0-1.5-.1-1.5-.1-1.5-.1-1.5 0-1.5-.1-1.5-.1-1.5 0-1.5-.1-1.5-.2-1.5 0-1.5-.1-1.5 0-1.5 0-1.5-.1-1.5-.2-1.3-.1-1.2 0-1.5-.1-1.5-.1-1.5-.1-1.5-.1-1.3-.1-1.2-.1-1.5 0-1.5-.1-1.5-.2-1.5-.5 0-1.4 1-.6 1.5-.1 1.5-.1 1.5-.1 1.5-.1 1.5 0 1.5-.1 1.5-.1 1.5-.1 1.5-.1 1.5 0 1.5-.1 1.5-.2 1.5-.2 1.5 .1 1.5-.2 1.5 0 1.5-.1 1.5-.1 1.5-.1 1.5 0 1.5-.1 1.5 0 1.5-.1 1.5 0 1.5-.1 1.5 0 1.5-.1 1.5-.2 1.5-.2 1.5 0 1.5 0 1.5-.1 1.4 0 1.6-.1 1.5-.1 1.5 0 1.5 0 1.5 0 1.5 0 1.5 0 1.5 0 1.5 0 1.5 0 1.5 0 1.5 .1 1.5 0 1.5 0 1.5 0 1.5 0 1.5 .1 1.5 0 1.5 0 1.5 0 1.5 0 1.2 0 1.3-.2 1.5 0 1.5 .2 1.5 0 1.5 0 1.5 0 1.5 0 1.5 0 1.5 0 1.5 0 1.5 0 1.5 0 1.5 0 1.5 0 1.5 0 1.5 0 1.5 0 1.5 0 1.5 0 1.5 0 1.5 0 1.5 0 1.5 0 1.5 0 1.5 0 1.5 0 1.5 0 1.5 0 1.5 0 1.5 0 1.5-.1 1.5 0 1.5 0 1.5 0 1.5 0 1.5 0 1.5 0 1.5 0 1.5 0 1.5-.1 1.5 0 1.5 0 1.5 .1 1.5 0 1.5 0 1.5 0 1.5 0 1.5 0 1.5 0 1.5 0 1.5 0 1.5 0 1.5 0 1.5 0 1.5 0 1.5 .1 1.5 0 1.5 0 1.5 0 1.5 0 1.5 0 1.5 0 1.5 0 1.5 0 1.5 0 1.5 0 1.5 0 1.5 0 1.5 0 1.5 0 1.5 0 1.5 0 1.5 0 1.5 0 1.5 0 1.5 0 1.5 0 1.5-.1 1.5 0 1.5-.1 1.5 0 1.5-.1 1.5-.1-.4-1.1-1-1-1.1-.6-1.5-.8-.7-1.1-.5-1.5-.6-1-.9-1-.4-1.5-.1-1.5-.5-1-.8-.8-1-.6-.5-1.1 1-.5 1.5 .3 1.5 .5 1.5 .3 1.5 0 1.5-.1 1.5-.1 1.5-.1 1.5-.1 1.2-.2 1.3-.4 1-.5 1.5-.6 1.5-.1 1.5 0 1.5 .1 1.5 .3 1.5 .5 1.5 .4 1.5 .7 1 .9 1 .6 1-.4 1-.7 1.5-.6 1.4-.7 .5-1 .2-1.5 0-1.5-.1-1.5-.3-1.5-.5-1.5 .2-1.5 .6-1.4 .3-1.1 .2-1.5 0-1.5 0-1.3 0-1.2-.1-1.5 0-1.5-.1-1.5-.2-1.5-.4-1.5 .2-1.5 .1-1.5 .1-1.5 .1-1.5 .1-1.5 0-1.5-.1-1.5-.7-1.3-1.4-.7-1.1-.6-1.5-.6-1.5-.5-1.5-.5-1.5-.6-1.5-.5-1.5-.4-1.5-.3-1.5-.5-1.3-.5-1.1-.5-1.1-1-.4-1.5 .4-1.2 1-1 1.5-.3 1.5 .4 1.5 .4 1.5 .5 1.5 .5 1.5 .6 1.5 .5 1.5 .4 1.5 .4 1.5 .3 1.3 0 1.1-1 .3-1.5 0-1.5-.1-1.5-.1-1.5 0-1.5 0-1.5 .2-1.5 .2-1.5 .2-1.5 .1-1.5 .1-1.5-.1-1.5-.2-1.2-.3-1.3 .3-1.5 .2-1.5 .1-1.5 0-1.5 0-1.5 0-1.5 0-1.5 0-1.5 0-1.5 0-1.5-.1-1.5 0-1.5 0-1.5 0-1.5 0-1.5 0-1.5 0-1.5 0-1.5 0-1.5 .1-1.5 0-1.5 0-1.5 .1-1.5 0-1.5 .1-1.5-.1-1.5 0-1.5 0-1.5 0-1.5-.1-1.5 0-1.5 0-1.5-.1-1.5-.1-1.5 .1-1.5 .1-1.5 1.2-.8 .8 .8 .2 1.3 .3 1.2-.1 1.5-.3 1.5-.1 1.5-.1 1.5 0 1.5 0 1.5 0 1.5 0 1.5 0 1.5 0 1.5 0 1.5 .1 1.5 0 1.5 .1 1.5 0 1.5 0 1.5 .1 1.5 0 1.5 0 1.5-.1 1.5 0 1.5 0 1.5 0 1.5-.1 1.5 0 1.5 0 1.5 0 1.5 0 1.5 0 1.5 0 1.5 0 1.5 0 1.5 .1 1.5 .2 1.5-.1 1.5-.1 1.5 0 1.5 0 1.5 .1 1.5 .1 1.5 .2 1.5 .1 1.5 .1 1.5 .3 1.5 .2 1.1 1.4-.1 1-.5 1.1-.3 1.1-.2 1.4-.4 1.5-.4 1.5-.2 1.5 .1 1.5 .2 1.5 0 1.5-.1 1.5-.1 1.5-.1 1.5 .1 1.5-.1 1.3-.5 1.2-.5 1-.6 1-.9 .8-1 .9-1 1.2-1 1.1-.5 1.5-.1 1.5 .4 1 .6 1 .9 1 1.1 1 .8 1.5 .4 1.5 .1 1.5 .2 1.5 0 1.5 0 1.5-.4 1.5-.4 1.5-.1 1.5 .2 1.5 .1 1.5 .1 1.5 .1 1.5 0 1.5-.1 1.5 0 1.5 .1 1.5 .1 1.5 .1 1.5 0 1.5 .1 1.5 .4 1.5 .1 1.5-.1 1.5-.3 1.5-.2 1.5 0 1.5-.1 1.5 0 1.5 0 1.5 0 1.5 0 1.5 0 1.5-.3 1-.6 1-.6 1.5-.4 1.5-.3 1.1-.4 .9-.7 1-1.2 .7-1.1 .8-.9 1-.9 1-.5 1.5-.6 1.5-.5 1.5-.5 1-.5 1-1.1 .8-1 1-1 1.2-.8 1.5-.5 1.5-.5 1.5-.7 1-.6 1-.6 1-.7 1-.7 1-.6 1-.7 1-.8 1-.6 1-.5 1.5-.6 1.5-.5 1.4-.6 1-.5 1.1-.6 1-.6 1-.6 1-.5 1-.5 1.5-.6 1.5-.6 1-.6 1-.7 1-.5 1.5-.7 1.2-.5 1-.5 1.3-.8 1-.7 1-.7 1-.6 1-.5 1-.5 1-.5 1.5-.6 1.5-.5 1.5-.5 1.5-.6 1-.5 1-.4 1-.5 1-.7 1-.9 .5-1 .2-1.5 .3-1.5 .2-1.5 .2-1.5 .3-1.5 .2-1.5 .1-1.5 .1-1.5 0-1.5 .1-1.5 0-1.5-.1-1.5 0-1.5-.1-1.4-.1-1.6-.1-1.5 .4-1.5 .5-1 .8-1"/><path d="M552.2 65.3l.8 .9 .6 1.1 .4 1.2 .2 1.3 0 1.5-.1 1.5 0 1.5 .2 1.5 .2 1.3 .3 1.2 .2 1.1 .4 1.4 .5 1.5 1 1 1.6-.4 1-.6 1-.7 1-.7 1-.5 1-.5 1.4-.6 1-.5 1.1-.6 1-.6 1-.6 1-.5 1-.6 1-.8 1-.8 1-.8 .9-.7 1.1-.8 1-.6 1-.6 1-.5 1-.6 1-.7 1-.6 1-.8 1-.8 1-.6 1.5-.6 1.2-.3"/><path d="M528 89.9l-1.5 .1-1.4-.7-.6-1 .3-1.5 1.2-.9 1.2-.1 1.3 .4 1 .9 .4 1.2-.6 1-1.3 .6z"/><path d="M327.5 105.3l-1.5 .2-1.5 0-1.5-.1-1.5 0-1.5-.1-1.5 0-1.5-.2-1.5-.2-1.5-.2-1.5-.1-1.5 0-1.5 .2-1.5 .1-1.5 .1-1.5 0-1.5 0-1.5-.1-1.5 0-1.5 0-1.5 .1-1.5-.1-1.5 0-1.5-.2-1.5-.1-1.5 0-1.5 .1-1.5-.3-.8-1.1 .3-1.2 1-.7 1.5-.1 1.5-.2 1.5-.1 1.5 0 1.5 0 1.5-.1 1.5-.1 1.5 .1 1.5 0 1.5 .1 1.5-.1 1.4-.1 1.1 0 1.5 .1 1.5 .3 1.5 .3 1.5-.1 1.5-.2 1.5-.2 1.5-.1 1.5-.1 1.5-.1 1.5-.1 1.5 0 1.5-.1 1.5 0 1.5 .1 1.5 .1 1.5 0 1.5 0 1.5-.1 1.5 0 1.5 0 1.5-.1 1.5 .1 1.5 0 1.5 0 1.5 0 1.5-.1 1.5 0 1.5 0 1.5 0 1.5 0 1.5 0 1.5 0 1.5 .1 1.5 0 1.5 0 1.5 0 1.5 0 1.5 .1 1.5 .2 1.5 .1 1.5 0 1.5 0 1 .6 .5 1-.1 1.2-.8 1-1.1 .4-1.5 0-1.5 0-1.5-.1-1.5 0-1.5 0-1.5 0-1.5 0-1.5 0-1.5 0-1.5 .1-1.5 0-1.5 0-1.5 0-1.5 .1-1.5 0-1.5-.1-1.5 0-1.5-.1-1.5 0-1.5-.1-1.5 0-1.5 0-1.5 0-1.5 0-1.5 .1-1.5 .1-1.5 .1-1 0z"/><path d="M272.5 103.5l-1.1-.2 .5-1 .7 1-.1 .2z"/><path d="M548 167.3l-1-.5-.3-1.5-.1-1.5 0-1.5 0-1.5 .1-1.5 0-1.5-.1-1.5 0-1.5 0-1.5 0-1.5 0-1.5 0-1.5 .2-1.5 1.2-.7 1.2 .7 .2 1.5 0 1.5 0 1.5 0 1.5 0 1.5-.1 1.5 0 1.5 0 1.5 0 1.5 .1 1.5-.1 1.5 0 1.5-.2 1.5-1.1 .5z"/><path d="M384.4 154.3l1.1-.4 1.2-.6-.2-1.5-1-.6-1.5-.5-.8 1.1-.3 1.5 .1 1.3 1.4-.3z"/><path d="M383.7 185.3l1-1 .3-1.1 .2-1.4 .3-1.5-.3-1.5-.6-1.5-.4-1-.6-1.5 0-1.5 .7-1.5 .6-1 .5-1-.3-1.5-1.1-1-1-.7-1 .5-.1 1.2-.1 1.5 .1 1.5 0 1.5 .5 1.5 .4 1.5-.5 1.5-.4 1.5 .1 1.3 .2 1.2 .2 1.5 0 1.5 .1 1.2 1.2-.2z"/><path d="M600 209.3l-1.5 0-1.5 0-1.5 0-1.5 0-1.5 .1-1.5 0-1.5 0-1.5 0-1.5 .1-1.5 0-1.5-.1-1.2-.1-1.3-.1-1.5 0-1.5 0-1.5 .1-1.5 0-1.5 .1-1.5 0-1.2-.6-.3-1.4 1-1.1 1.5-.1 1.5 .1 1.5 0 1.5 0 1.5 0 1.5 0 1.5-.1 1.5 0 1.5 0 1.5 0 1.5 0 1.5 .1 1.5 0 1.5 0 1.5 0 1.5 0 1.5 0 1.5 0 1.5 0 1.2 .5 .3 1.2-1 1.3-.5 0z"/><path d="M471 214l-1.5 .1-1-.5-.6-1.3 .6-1.5 1-.5 1.5 .3 1 1.2-.2 1.5-.8 .7z"/><path d="M546.5 217.1l-1.4-.3-.5-1 0-1.5 .5-1 1.4-.1 .7 1.1 0 1.5-.7 1.3z"/><path d="M546.5 232.3l-1.5-.5-.5-1-.1-1.5 .6-1.4 1-.6 1 .5 .6 1.5 0 1.5-.5 1-.6 .5z"/><path d="M337 240.4l-1.5 .1-1.3-.7-.8-1-.6-1-.3-1.1-.2-1.4-.1-1.5 .3-1.4 .4-1.1 .6-1 1-.9 1.5-.5 1.4 .4 1 1 .6 1 .5 1.5 .3 1.5 0 1.5-.3 1.5-.5 1.2-1 1.3-1 .6z"/><path d="M546 248.4l-1-.6-.3-1.5 .3-1.3 .8-.7 1.1 .5 .4 1.5-.3 1.3-1 .8z"/><path d="M315.5 249.8l-1.2 0-.3-1.1 1-.9 .8 1-.3 1z"/><path d="M284.5 269.5l-1.5 .1-.7-1.3 .6-1 1.1-.8 1.5-.5 1.5-.6 .7-1.1 .8-.8 1-.6 1.4-.1 1.1 1-.5 1.3-1 .9-1.5 .5-1.5 .2-1 1.1-.8 1-1.2 .7z"/><path d="M546.5 266.9l-1.2-.1-.5-1 0-1.5 .6-1 1.1-.2 .7 1.2-.1 1.5-.5 1-.1 .1z"/><path d="M271 277.9l-1.5 0-.4-1.1 .5-1 .9-.8 1.5-.6 1-.5 1-1 1-.7 1.5-.5 1.4 .6-.3 1.5-1.1 1-1.3 .5-1.2 .4-1 .9-1 .8-1 .5z"/><path d="M546 278l-.9-.7-.3-1.5 .2-1.2 1-.7 .8 .9 .2 1.5-.5 1.3-.5 .4z"/><path d="M65 343.6l1.2-.3 1.3-.5 1.5 .3 .8 1.2 .5 1 1 1 1.2 .8 1 .6 1 .6 1.5 .5 1.5 .1 1.5-.4 1.5-.4 1.5-.2 1.5-.3 1.2-.3 1.3-.3 1.3-.7 .7-.9 .2-1.6-.7-1.5-.3-1.5 .3-1.3 1-.7 1.5-.4 1.5 .1 1.1 .3 .9 .6 .6 1.4-1 1-1 1 .9 1.1 1.3-.6 .5-1.5 1.2-.9 1.5-.3 1.5-.2 1.5-.6 1-.6 1-.6 1.5 0 1.5 .3 1.5-.3 1.5-.6 1-.5 1.5-.7 1-.6 1-.6 1.5-.3 1.5 .5 1 .7 .8 .8 1.2 .9 1.5 .6 1.5 .4 1.5 .1 1.5-.1 1.5 .1 1.5-.2 1.1-.3 1.4-.9 1-1 1-.8 1.5-.1 1.3-.2 1-.5 1-.5 1.2-.3 1.5 .2 1.5 .3 1.5 .1 1.3-.3 1.2-.4 1.5-.5 1.5-.5 1.5-.5 1-.7 .8-.9 .7-.9 1-.6 1.5-.4 1-.8 .9-.8 1.1-.6 1.5 0 1.5 .4 1.5 .3 1.5 0 1.1-.1 1.4-.2 1.5-.5 1.5-.5 1.5-.5 1.4-.3 1.6-.2 1.5-.2 1.5-.3 1.5-.2 1.5-.2 1.5-.7 1-.5 1.5-.6 1.5-.5 1.5-.1 1.5 0 1.5 0 1.5 0 1.5-.2 1.5-.7 1-.6 1-.7 1-.6 1-.5 1-.5 1-.5 1-.5 1-.5 1-.5 1-.6 1-.8 .9-.8 1.1-.9 1-.8 1-.7 1-.7 1-.7 1-.6 1-.6 1-.5 1-.6 1-.7 1-.7 1-.7 1-.8 1-.8 1-.8 1-.8 1-.8 1-.6 1-.6 1-.7 1-.6 1-.5 1-.6 1-.5 1-.5 1-.7 1-.7 1-.6 1-.6 1.5-.6 1.4-.5 1.1-.5 1-.5 1-.7 1-.7 1-.6 1-.7 1-.7 1-.8 1-.7 1-.6 1-.6 1-.6 1-.6 1-.6 1-.6 1-.6 1-.6 1-.7 1-.7 1-.7 1-.6 1-.6 1.5-.5 1.5-.4 1.5-.4 1.5-.1 1 .9-.4 1.5-.5 1-.6 1.5-.5 1.1-1 1.4-1 .9-1 .8-1 .8-1 .8-1 .9-1 .7-1 .7-1 .6-1 .6-1 .5-1 .6-1 .5-1 .6-1 .5-1 .5-1 .6-1 .6-1 .6-1 .7-1 .8-.9 .7-1.1 .9-1 .8-1 .7-1 .5-1 .5-1.3 .6-1.1 .5-1.1 .6-1 .6-1 .8-1 .7-1 .8-1 .7-1 .6-1 .7-1 .8-1 .7-1 .8-1 .6-1 .6-1 .5-1 .4-1 .5-1 .6-1 .7-1 .7-1 .7-1 .7-1 .6-1 .6-1 .7-1 .6-1 .7-1 .8-1 .7-1 .8-1 .7-1 .6-1 .6-1 .4-1.5 .6-1.1 .3-1 .5-1.4 1-1 .9-1 .8-.9 .8-1.1 .9-1 .9-.9 .7-1.1 .8-1 .7-1 .7-1 .7-1 .8-1 .7-1 .9-.9 .7-1.1 .9-1 .8-1 .7-1 .8-1 .8-1 .8-.9 .7-1.1 1-1 .9-1 .9-1 .9-1 .8-1 .9-1 1-1 1-.9 1.1-.9 1-.9 1-1 1-.8 .8-1 1.1-1 1-1 1-1 1.1-1 .9-1 .5-1 .5-1 .5-1 .4-1 .5-1.5 .6-1 .5-1 .5-1 .5-1 .5-1 .5-1.5 .6-1.5 .3-1.5 .2-1.5 .2-1.5 .1-1.5 .2-1.5 .1-1.5 .2-1.3 .2-1.2 .3-1.4 .2-1.1 .3-1.1 .2-1.4 .4-1.5 .4-1 .7-1 .7-1 .7-1 .7-1 .8-1 .8-1 .7-1 .8-1 .8-1 .9-1 .8-1 .8-1 .8-1 .7-1 .8-1 .7-1 .8-1 .8-1 .8-1 .9-1 .7-1 .8-1 .8-1 .8-1 .9-1 .7-1 .8-1 .6-1 .6-1 .6-1 .6-1 .6-1 .6-1 .7-1 .7-1 .6-1 .6-1 .6-1 .7-1 .6-1 .5-1 .6-1 .7-1 .6-1 .6-1 .6-1 .6-1 .6-1 .6-1 .6-.9 .6-1.1 .7-1 .7-1 .6-1 .7-.6 .3"/><path d="M380.5 319.5l-.9-.7-.3-1.5 .1-1.5 .4-1.5-.2-1.5 .1-1.5 0-1.5 0-1.5 .1-1.5 .2-1.1 0-1.1-.5-1.3-.3-1.5 .2-1.5 .3-1.5 .2-1.5 .6-1.5 .8 1 .2 1.4 .1 1.6 .1 1.5 0 1.5 .3 1.5 .4 1.5 .1 1.5-.1 1.5-.2 1.5-.1 1.5-.1 1.2-.5 1.2-.3 1.1 .1 1.5-.1 1.5-.5 1-.2 .2z"/><path d="M558.5 303.8l-1-.9-.3-1.1-.2-1.5 .1-1.5 .4-1.4 1-.9 .7 1.3 .3 1.4 .1 1.1-.2 1.5-.4 1.4-.5 .6z"/><path d="M546.5 314.3l-1.2 0-.4-1.5 .6-1.3 1 .7 .2 1.1-.2 1z"/><path d="M380.5 349.1l-.8-1.3 .2-1.5 1.1 .4 .1 1.1-.6 1.3z"/><path d="M65 351.8l.8-1-.5-1-.3-.1"/><path d="M380.5 356.3l-.7-1-.2-1.5 .4-1.4 1.2 .4 .3 1.5-.4 1.5-.6 .5z"/><path d="M381 368.4l-1-.5-.2-1.1 0-1.5-.1-1.5-.3-1.5 0-1.5 .6-1.5 1 .6 .3 1.4-.1 1.5-.1 1.5 .4 1.5 .1 1.5-.6 1.1z"/><path d="M546.5 390.3l-1.5-.5-.4-1.5 .3-1.5 1.1-1 1 .9 .3 1.1-.1 1.5-.6 1-.1 0z"/><path d="M379.5 392.5l-.6-1.2 .6-1.5 .7 1-.2 1.4-.5 .3z"/><path d="M558.5 405.6l-1.3-.3-.6-1-.4-1.5 .1-1.5 .4-1.5 .8-.9 1.5 .2 .7 1.2 .2 1.5-.1 1.5-.6 1.5-.7 .8z"/><path d="M379 404.4l-.8-1.1-.2-1.5 .2-1.5 .5-1 .9 1 .1 1.5-.1 1.5-.5 1-.1 .1z"/><path d="M603 112.4l-1.2-.1-1.3-.1-1.5 .1-1.5 .1-1.5 .3-1.5 .3-1.1 .3-1.3 .5-1.1 .4-1.5 .4-1.5 .2-1.5 .1-1.2-.1-1.3-.2-1.5-.3-1.5-.2-1.4-.3-1.6-.3-1.5-.6-1.5-.6-1-.4-1.4-.6-1.1-.4-1.5-.6-1.5-.4-1.5-.4-1.5-.2-1.5-.1-1.5-.2-1.5 .1-1.5 .1-1.5 .4-1 .7-.6 1-.6 1.5-.5 1.5-.6 1.5-.4 1.5-.2 1.5-.1 1.5-.2 1.5-.3 1.5-.2 1.5 0 1.5 .1 1.5 0 1.5 0 1.5-.2 1.5-.2 1.5 0 1.5 0 1.5-.4 1.5-.6 .9-1 .8-1.5 .4-1.5-.4-1-.5-1-1-.7-1.2-.4-1.5 0-1.5-.3-1.5-.3-1.5-.2-1.5 0-1.5 .1-1.5 .1-1.5 .1-1.5-.2-1.5-.5-1.5-1.2-.9-1.5-.1-1.5 .4-1 .6-1 .6-1 .8-1 1-.9 1.1-.9 1-1.2 1-1 .7-1 .6-1 .5-1 .5-1 .6-1 .7-1 .9-1 .8-1 .7-1 .6-1 .7-.9 .7-1.1 .7-1 .7-1 .6-1 .5-1.2 .5-1.2 .5-1.1 .6-1 .8-1 .9-1 .9-1 .7-1 .6-1.3 .5-1.2 .5-1 .5-1 .6-1 .7-1 .7-1 .7-.8 .8-.7 1-.5 1.2-.3 1.3-.4 1.5-.7 1.5-.5 1-.5 1-.6 1.4-.5 1.1-.5 1.2-.3 1.3-.1 1.5-.1 1.2-.3 1.3-.4 1.5-.3 1.5 0 1.5-.2 1.5-.3 1.5-.1 1.5-.3 1.5-.5 1.5-.4 1.5-.2 1.5 .1 1.5 .3 1.5 0 1.5-.3 1.5-.5 1.5-.4 1.5-.5 1.5-.5 1.5-.2 1.3-.1 1.2 0 1.5 .1 1.5 0 1.5-.3 1.5-.4 1-.8 1-1 .8-1 .5-1.5 .3-1.5-.1-1.5-.1-1.5 0-1.5 .1-1.3-.5-.5-1-.4-1.5-.7-1-1.1-.4-1.5 .8-1 .8-1 .8-1.5-.3-1-1.2-1-.8-1-.7-.5-1-.5-1.2-1-1-1.1-.3-1.4-.3-1.5-.1-1.5 .2-1.5 .3-1.5-.3-1-.5-1-.6-1-.9-1-.7-1-.6-1-.4-1.5-.6-1-.5-1-.5-.6-1-.2-1.5-1.2-.7-1.5 .1-1.5-.2-1.1 .3-.5 1-.9 .9-1 .8-1 .6-1 .9-.9 1.3-1.1 .4-1 .7-.8 .9-1.1 1-1 .5-1.1 .3-1.4 .7-1.1 .8-1 .6-1.5 .6-1.5 .1-1.5-.3-1.5-.2-1.5 .1-1.5 .2-1.5 .1-1.5-.1-1.5-.1-1.5 .2-1.5 .2-1.1 .3-1.1 .5-1.1 1-1.2 1-1 .4-1.5 .2-1.5 .1-1.1 .3-1.4 .5-1.5 .1-1.4 .4-1.1 .8-1 .9-1 .5-1.5 .7-1 .7-1 .6-1.5 .2-1.5-.1-1.5-.3-.7 1 .1 1.5 .1 1.5-.1 1.5-.4 1.3-.2 1.2-.1 1.5 .3 1.1 .4 1.4-.4 1.5-.6 1-.2 1.5 .7 1 .9 1-.7 1-.8 1 .1 1.5 .6 1 .5 1 .3 1.5-.2 1.5-.3 1.5-.2 1.5-.1 1.5-.2 1.5-.2 1.5 .4 1 .5 1.5-.5 1.5-.6 1-.4 1.3-.2 1.2 0 1.5 .2 1.5 .3 1.5 .1 1.5-.1 1.5-.1 1.5 0 1.5 0 1.5 .1 1.5-.1 1.5-.3 1.5-.4 1.5-.1 1.5 0 1.5-.2 1.5-.2 1.5-.6-1-.1-1.5-.1-1.5-.1-1.5-.4-1.5-.5-1.5-.4-1.5-.3-1.5 .6-1 .5-1 .2-1.5-.1-1.5-.4-1.5-.1-1.5 .1-1.5 .3-1.5 0-1.5-.2-1.5-.2-1.5 .1-1.5 .3-1.5 .2-1.5-.2-1.5-.2-1.5-.3-1.5-.5-1.5-1.1-.5 .5-1.1 1.1-.4 0-1.5-.1-1.5-.2-1.5-.6-1-.4-1.5 .2-1.2 .5-1 .7-1.3 .2-1.5-.1-1.5-.3-1.1-.8-1.4-1.2-.6-1.5 .5-1.5 .6-1.3 .5-1.2 .4-1.5 .4-1.5 .3-1.4 .4-1.1 .4-1.5 .6-1 .5-1 .6-1 .6-1 .4-1.5 .6-1.1 .3-1.4 .4-1.5 .5-1.5 .5-1.5 .3-1.2-.7 .4-1.5 .8-1 1-.6 1-.8 .9-1.1 .5-1 .7-1 1.4-.8 1.5-.6 1.5-.6 1-.5 1-.4 1-.5 1-.5 1.4-.6 1.1-.5 1.2-.5-1.2-.6-1.5 0-1.5 0-1.5-.1-1.5 0-1.5 0-1.5 0-1.5 0-1.5 0-1.5 0-1.5 .1-1.5 0-1.5 0-1.5-.1-1.5 0-1.5 0-1.5 0-1.5 0-1.5 0-1.5 0-1.5 0-1.5 0-1.5 0-1.5 0-1.5 0-1.5 0-1.5 0-1.5 0-1.5 0-1.5 0-1.5 0-1.5 0-1.5 0-1.5 0-1.5 0-1.5 0-1.5 0-1.5 0-1.5 0-1.5 0-1.5 0-1.5 .1-1.5 0-1.5 0-1.5-.1-1.5 0-1.5 .1-1.5 0-1.5 0-1.5 0-1.5 0-1.5 0-1.5 0-1.5 0-1.5 0-1.5 0-1.5-.1-1.5 0-1.5 0-1.5 0-1.5 0-1.5 0-1.5 0-1.5 0-1.5 .1-1.5 0-1.5 0-1.5 0-1.5 0-1.5 0-1.5 0-1.5 0-1.5 0-1.5 0-1.5 0-1.5 0-1.5-.1-1.5 0-1.5 0-1.5 0-1.5 0-1.5 0-1.5 0-1.5 0-1.5 0-1.5-.1-1.5 0-1.5 .1-1.5 0-1.5 0-1.5 .1-1.5 .1-1.5-.1-1.5 0-1.5 0-1.5 0-1.5 0-1.5 0-1.5 0-1.5 0-1.5 0-1.5 0-1.5 0-1.5 0-1.5 0-1.5 0-1.5 0-1.5 0-1.5 0-1.5 0-1.5 0-1.5 0-1.5 0-1.5 0-1.5-.1-1.5 0-1.5-.1-1.5-.1-1.5-.1-1.5-.2-1.5-.1-1.5-.1-1.5-.1-1.5 0-1.5-.1-1.5 0-1.5-.1-1.5-.1-1.5-.1-1.5-.1-1.5-.1-1.5 0-1.5-.1-1.5 0-1.5 0-1.5-.1-1.5-.3-1.5 0-1.5-.1-1.5-.1-1.5-.1-1.5-.1-1.5-.1-1.5-.1-1.5 0-1.5-.2-1.4-.1-1.1-.1-1.3-.4 .3-1.5 1.5-.2 1.5-.2 1.5 0 1.5-.1 1.5-.1 1.5-.1 1.5-.1 1.5-.1 1.5-.1 1.5 0 1.5-.1 1.5-.2 1.5-.2 1.5 0 1.4 0 1.1-.1 1.5-.1 1.5-.1 1.5-.1 1.5-.1 1.5 0 1.5 0 1.5 0 1.5-.1 1.5-.1 1.5-.1 1.5-.1 1.5 0 1.2-.1 1.3-.2 1.5-.1 1.5 0 1.5-.1 1.5 0 1.5-.1 1.5 0 1.5 0 1.5 0 1.5 0 1.5 0 1.5 0 1.5 0 1.5 0 1.5 0 1.4 0 1.6 0 1.5 0 1.5 0 1.5 0 1.5 0 1.5 0 1.5 0 1.5 0 1.5 0 1.5 .1 1.5-.1 1.5-.1 1.2 .1 1.3 0 1.5 0 1.5 0 1.5 0 1.5 .1 1.5 0 1.5 0 1.5 0 1.5-.1 1.5 0 1.5 .1 1.5 0 1.5 0 1.5 0 1.5-.1 1.5 0 1.5 0 1.5 0 1.5 0 1.5 0 1.5 0 1.5 0 1.5 0 1.5 0 1.5 0 1.5 0 1.5 0 1.5 0 1.5 0 1.5 0 1.5 0 1.5 0 1.5 0 1.5 0 1.5 0 1.5 0 1.5 0 1.5 0 1.5 0 1.5 0 1.5 0 1.5 0 1.5 0 1.5 0 1.5 0 1.5 0 1.5 0 1.5 0 1.5 0 1.5 0 1.5 0 1.5 0 1.5 0 1.5 0 1.5 0 1.5 0 1.5 .1 1.5 0 1.5 0 1.5 0 1.5-.1 1.5 0 1.5 0 1.5 0 1.5 0 1.5 0 1.5 0 1.5 0 1.5 0 1.5 0 1.5 0 1.5 0 1.5 0 1.5 0 1.5 0 1.5 0 1.5 0 1.3 0 1.2 0 1.5 0 1.5-.2 1.5-.2-.5-1-.9-1.1-1-1-1.1-.6-1-.5-.7-1.4-.3-1.2-.5-1.2-.5-1.1 .2-1.5 .8-1 1-.6 1.5-.4 1.5-.1 1.5 0 1.5 0 1.5 .1 1.5 0 1.5 0 1.5 .1 1.4 .9 .9 1 1.1 1 1.1 .7 1.5 .2 1.5-.1 1.5 .1 1 .6 1 .6 1.5 .6 1.5 .2 1.5-.2 1-.6 .1-1.6 .1-1.5 .3-1.2 .3-1.3 .3-1.5 .3-1.5 .1-1.5-.1-1.5-.1-1.5-.2-1.5-.5-1.5 .1-1.5 .5-1 .5-1.5 0-1.5 .1-1.5 0-1.5-.1-1.5 .1-1.5-.1-1.5-.1-1.5-.4-1.5-.1-1.5 .2-1.5 .1-1.5 .1-1.3 .1-1.2 0-1.5 0-1.5 0-1.5-.3-1.5-.5-1-1.3-.9-1-.6-1-.5-1.5-.5-1.5-.4-1.5-.6-1.5-.5-1.5-.1-1.5-.2-1.1-.2-1.4-.5-1-.5-1-.6-.6-.9 .5-1.5 1.1-.3 1.5 .3 1.5 .3 1.5 .5 1.4 .7 1.1 .7 1 .7 1.5 .5 1.5 .3 1.5 .3 1.5 .1 1.2-.1 .9-1 .4-1.5 .1-1.5 0-1.5-.2-1.5-.2-1.5-.1-1.5 .1-1.5 .2-1.5 .2-1.5 .3-1.5 .1-1.1 .1-1.4 0-1.5-.3-1.5-.4-1.5 .3-1.5 .3-1.5 0-1.5 0-1.5 0-1.5 0-1.5 .1-1.5 0-1.5 0-1.5-.1-1.5 0-1.5 0-1.5 0-1.5 0-1.5-.1-1.5 0-1.5 0-1.5 .1-1.5 0-1.3 0-1.2 0-1.5 .1-1.5 .1-1.5 .1-1.5 0-1.5 0-1.5-.1-1.5 0-1.5 0-1.5 0-1.5-.1-1.5 0-1.5-.1-1.5-.1-1.5 0-1.5 .1-1.3 .5-1.2 1 .4 .2 1.1 .3 1.3 .1 1.2-.4 1.5-.2 1.3-.1 1.2 0 1.5 0 1.5 0 1.5 0 1.5 0 1.5-.1 1.5 0 1.5 .1 1.5 .1 1.2 .1 1.3 0 1.5 .1 1.5 0 1.5 0 1.5 .1 1.5-.1 1.5 0 1.5 0 1.5-.1 1.5 0 1.5 0 1.5 0 1.5-.1 1.5 0 1.5 .1 1.5 0 1.5 0 1.5 0 1.5 0 1.5 .1 1.5 .2 1.5-.1 1.5-.2 1.5 0 1.5 .1 1.5 .1 1.5 .1 1.5 .1 1.5 .2 1.5 .1 1.5 .1 1.5 .1 1.5-.1 1.5 .6 1.1 1-.5 1-.7 1.5-.6 1.5-.6 1-.5 1-.5 1.5-.4 1.5 0 1.2 .2 1.3 .1 1.5 0 1.5-.2 1.5 0 1.3 .1 1.2 .2 1.5 0 1.5-.5 1-.5 1-.7 1-1 .7-1 .8-1 .8-1 1.2-.9 1.5-.4 1.5 .3 1 .6 .9 .9 .8 1 .7 1 1.1 1 1.5 .4 1.2 .1 1.3 0 1.5 .1 1.5 0 1.5-.2 1.5-.3 1.5-.2 1.5-.1 1.5 0 1.5 .1 1.5-.1 1.5 0 1.5 0 1.5 .2 1.5 .1 1.5 0 1.5 0 1.5 .1 1.5 .1 1.1 .2 1.4 .2 1.5 0 1.5-.1 1.4-.1 1.1-.1 1.5 0 1.5 0 1.5-.1 1.5 .1 1.5 .1 1.5 0 1.5 .2 1.2 .3 1.3 .3 1.4-.8 1.1-1 1-.5 1.1-.5 1.4-.9 1-.9 1-1.2 .7-1 .8-.9 1-.9 1-.6 1-.5 1.5-.4 1.4-.2 1.1-.4 .9-.6 1-1 .8-1 .8-1 1-.9 1-.6 1-.5 1-.5 1-.6 1-.6 1-.6 1-.6 1-.5 1-.6 1-.6 1-.8 .9-.6 1.1-.5 1.5-.3 1.5-.5 1-.4 1-.7 1-.6 1-.5 1-.5 1-.5 1.1-.5 1.1-.5 1.1-.5 1.2-1 1-1 1-.7 1-.6 1-.5 1-.5 1-.5 1-.5 1-.6 1-.6 1-.6 1-.5 1-.6 1-.5 1-.5 1-.4 1.5-.7 1.5-.6 1.5-.6 1-.5 1-.5 1-.5 1-.5 1-.7 .9-.8 .5-1 .2-1.5 .1-1.5 .2-1.5 .2-1.5 .2-1.5 .2-1.5 .1-1.5 .1-1.5 .1-1.5 .2-1.2 .2-1.3 0-1.5-.1-1.5-.1-1.5-.1-1.5-.2-1.5 .2-1.5 .5-1 .8-1 .7-.5"/><path d="M550.7 65.3l1.2 1 .7 1 .6 1.5 .1 1.5-.1 1.5-.2 1.4-.1 1.6 .2 1.5 .3 1.5 .4 1.5 .2 1.4 .2 1.1 .2 1.5 .4 1.5 1.2 .9 1.2-.4 1.3-.8 1-.6 1-.8 1-.8 1-.7 1-.6 1-.5 1-.4 1-.6 1-.6 1-.6 1-.5 1-.6 1-.6 1-.8 1-.8 .9-.7 1.1-.8 1-.7 1-.7 1-.5 1-.6 1-.6 1-.6 1-.7 1-.7 .9-.6 1.1-.7 1.5-.6 1.5-.6 1-.5 .2-.1"/><path d="M528 89l-1.5 .1-1-.8 .5-1.4 1.5-.2 1 .6 0 1.3-.5 .4z"/><path d="M327 104.9l-1.5 .1-1.5 0-1.5-.1-1.5-.1-1.5 0-1.5-.1-1.5-.3-1.5-.3-1.4-.3-1.1-.3-1.5 .1-1.5 .4-1.5 .2-1.5 .2-1.5 0-1.2-.1-1.3-.1-1.5 0-1.5 .1-1.5 0-1.5 0-1.5-.1-1.5-.2-1.5-.1-1.5-.2-1.5-.1-1.5-.1 .5-1.2 1.5-.1 1.5-.3 1.5-.2 1.5 0 1.5 0 1.5-.2 1.5 0 1.5 .1 1.5 .1 1.5 0 1.5-.2 1.5-.1 1.5 .1 1.2 .3 1.3 .4 1.5 .4 1.5-.3 1.5-.5 1.5-.2 1.5-.2 1.4-.1 1.1-.1 1.5 0 1.5-.1 1.5-.1 1.5 .1 1.5 .1 1.4 .1 1.6 0 1.5-.1 1.5 0 1.5 0 1.5-.1 1.5 0 1.5 .1 1.5 0 1.5 0 1.5 0 1.5-.1 1.5 0 1.5 0 1.5 0 1.5 0 1.5 0 1.5 0 1.5 0 1.5 0 1.5 .1 1.5-.1 1.5 .1 1.5 .1 1.5 .2 1.5 .2 1.5 0 1.5 .1 .9 1-.4 1.3-1 .5-1.5 0-1.5-.1-1.5 0-1.5 0-1.5 0-1.5 .1-1.5 0-1.5 0-1.5 0-1.5 0-1.5 .1-1.5 0-1.5 0-1.5 0-1.5 0-1.5-.1-1.5 0-1.5-.1-1.5 0-1.5-.1-1.5 0-1.5 0-1.5 0-1.5 .1-1.5 0-1.5 .1-1.5 .1-1.5 .2z"/><path d="M548.5 166.9l-1.4-.6-.1-1.5-.1-1.5 0-1.5 0-1.5 .1-1.5 0-1.5-.1-1.5 0-1.5 0-1.5 0-1.5 0-1.5 0-1.5 .6-1.3 1.3 .3 .3 1.5 0 1.5 0 1.5 0 1.5 0 1.5-.1 1.5 0 1.5 0 1.5 0 1.5 .1 1.5-.1 1.5 0 1.5-.4 1.5-.1 .1z"/><path d="M382.6 159.3l.5-1 .6-1 .8-.9 1.5-.6 1.5-.1 1.5-.4 1.3-.5 1.2-.7 1-.6 1-.7 .5-1-.5-1.4-1.5-.4-1.5 .3-1.5 .1-1.5-.3-1.5-.4-1.1-.4-1.4-.1-.5 1.1-.3 1.5-.4 1.5-.3 1.5-.1 1.5 .1 1.5 .4 1.5 .2 0z"/><path d="M388.3 187.8l1.1-.5 1-1-.3-1.5-1.1-1-.8-1-.4-1.5-.2-1.5-.6-1.2-.7-1.3-.6-1-.5-1.5 .2-1.5 .6-1 .7-1 .7-1 .4-1 .2-1.5-.7-1-1.3-.4-1.2-.6-1.3-1-1-.9-.7 1.4-.3 1.5-.1 1.5 0 1.5 0 1.5 .1 1.5 .3 1.5 .4 1.5-.4 1.5-.3 1.5 .2 1.5 .2 1.5 .1 1.5-.1 1.5 0 1.5 .1 1.1 1 .8 1.1-.4 1.4 0 1.5 .2 1.3-.2z"/><path d="M600.5 209l-1.5 .1-1.5-.1-1.5 0-1.5 .1-1.5 0-1.5 0-1.5 0-1.5 .1-1.5 0-1.5 0-1.5 0-1.5-.1-1.5-.1-1.5-.1-1.5 0-1.5 .1-1.5 .1-1.5 0-1.5 0-1-.4-.2-1.4 1.2-.8 1.5 0 1.5 0 1.5 .1 1.5 0 1.5 0 1.5-.1 1.5 0 1.5-.1 1.5 0 1.5 0 1.5 .1 1.5 0 1.5 0 1.5 0 1.5 0 1.5 0 1.5 0 1.5 0 1.5 .1 .8 1.2-.5 1-.3 .2z"/><path d="M470.5 213.5l-1.4-.2-.5-1 .6-1 1.3-.1 .9 1.1-.5 1-.4 .2z"/><path d="M546 215.9l-.6-1.1 .7 1-.1 .1z"/><path d="M546.5 231.3l-1.3-.5-.2-1.4 .8-1.1 1 .5 .3 1.5-.6 1z"/><path d="M337.5 239.3l-1.5 .5-1.3-.5-1-1-.5-1-.4-1.5-.1-1.5 .2-1.5 .6-1.5 .9-1 1.1-.6 1.3 .1 1.2 1 .6 1 .4 1.1 .3 1.4 0 1.5-.3 1.3-.5 1.1-1 1.1z"/><path d="M546 246.9l0-1.1 0 1.1z"/><path d="M289.5 265.9l-1.4-.1 .2-1.5 1.2-.9 1.2-.1 .7 1-.7 1-1.2 .6z"/><path d="M284.5 269l-1.3-.2 .3-1.3 1-.7 1.4 .5-.9 1.4-.5 .3z"/><path d="M275 274.8l-1.2-.5 .6-1 1.1-.9 1.4-.1 .1 1.5-1 .7-1 .3z"/><path d="M270.5 277.3l-.5-1 1-.9 1.5-.3 0 1.1-1 .9-1 .2z"/><path d="M65 357.8l1.5 0 1.5-.2 1.2-.3 1.3-.3 1.5-.1 1.5-.3 1.2-.3 1.3-.5 1-.5 1.5-.1 1.5 .5 1.5 .3 1.5-.1 1.5-.2 1.5-.4 1.5-.4 1.5-.5 .8-1.1-.3-1.2-.4-1.3 .3-1.5 .7-1 .9-.9 1-.6 1-.4 1.5-.4 1.5-.6 1-.8 1-.7 1.5-.6 1.5-.4 1.5-.3 1.5 .1 1.5 .2 1.5 0 1.5-.6 1-.7 1-.5 1.5-.1 1.3 .3 1.2 .1 1.5-.1 1.5-.3 1.5-.3 1.5-.1 1.5 .1 1.5 .1 1.5 0 1.5 0 1.5-.1 1.5-.2 1.5-.3 1.5-.2 1.5 .1 1.2-.3 1.3-1 1-.7 1-.5 1.5-.5 1.5-.1 1.5 0 1.5 .1 1.5-.2 1.5-.6 1.2-.5 1.3-.4 1.5-.4 1.5-.4 1.5-.6 1-.6 1-.9 1-.9 1-.7 1.5-.4 1.5 0 1.5 0 1.5-.1 1.5-.3 1.1-.3 1.2-.5 1.2-.6 1-.5 1-.4 1.5-.3 1.5-.1 1.5-.2 1.5-.3 1.5-.3 1.5-.5 1-.6 1-.6 1-.5 1.5-.5 1.5-.4 1.5-.3 1.5-.1 1.5-.1 1.5-.2 1.5-.5 1-.6 1-.7 1-.7 1-.6 1-.6 1-.4 1-.5 1-.5 1-.5 1-.5 1-.6 .9-.8 1.1-1 1-.8 .9-.7 1.1-.8 1-.7 1-.7 1-.6 1-.5 1-.5 1-.6 1-.7 1-.7 1-.8 1-.8 1-.8 1-.8 1-.8 1-.7 1-.7 1-.6 1-.6 1-.5 1-.6 1-.5 1-.5 1-.6 1-.7 1-.7 1-.6 1-.5 1.5-.7 1.5-.5 1.5-.7 1-.7 1-.6 1-.7 1-.6 1-.8 1-.8 1-.7 1-.7 1-.6 1-.6 1-.6 1-.5 1-.6 1-.7 1-.6 1-.6 1-.7 1-.7 1-.7 1-.5 1-.4 1.5-.4 1.5-.5 1.5-.1 .8 .9-.3 1.2-.5 1.2-.5 1.1-.4 1-.8 1-.8 .8-.9 .7-1.1 .9-1 .9-1 .9-1 .8-1 .7-1 .6-1 .5-1 .6-1 .5-1 .6-1 .6-1 .5-1 .5-1 .5-1 .6-1 .6-1 .7-1 .8-.9 .7-1.1 .9-1 .9-1 .7-1 .5-1 .5-1.1 .5-1.2 .5-1 .5-1.2 .7-1 .7-1 .8-1 .8-1 .8-1 .6-1 .7-1 .7-.9 .7-1.1 .9-.9 .6-1.1 .6-1 .5-1.5 .7-1 .5-1 .6-.9 .6-1.1 .8-1 .7-1 .6-1 .7-1 .6-1 .6-1 .7-1 .7-1 .8-1 .8-1 .8-1 .7-1 .6-1 .5-1.5 .7-1.5 .5-1.5 .7-1 .8-.9 .7-1.1 1-1 .9-1 .8-.9 .8-1.1 .9-1 .7-1 .7-1 .7-1 .7-1 .7-1 .8-1 .8-1 .9-1 .8-1 .7-1 .8-1 .8-1 .8-.9 .7-1.1 .9-1 1-1 .9-1 .9-1 .8-1 .9-1 .8-.8 .8-1 1-.7 .8-1 1.2-1 1-.9 1-1 1-.9 1-1 1-.9 1-1 1-.8 .8-1 .7-1 .5-1 .4-1 .5-1 .5-1 .4-1 .5-1 .4-1 .5-1 .5-1 .5-1 .5-1.5 .6-1.5 .3-1.5 .2-1.5 .2-1.5 .1-1.5 .2-1.5 .1-1.5 .2-1.5 .3-1.5 .3-1.5 .3-1.5 .4-1.5 .3-1.3 .3-1.2 .8-1 .7-1 .7-1 .7-1 .8-1 .8-1 .8-1 .7-1 .9-1 .8-1 .8-1 .8-.9 .7-1.1 .8-.9 .7-1.1 .8-1 .8-1 .8-1 .8-1 .8-1 .8-1 .8-1 .8-1 .9-1 .7-1 .8-1 .8-1 .6-1 .6-1 .6-1 .6-1 .6-1 .6-1 .7-1 .7-1 .6-1 .6-1 .6-1 .6-1 .7-1 .6-1 .6-1 .6-1 .6-1 .6-1 .6-1 .6-1 .6-1 .6-1 .6-1 .7-1 .6-1 .7-1 .6-1 .7-.9 .5"/><path d="M380.5 318.8l-.8-1 0-1.5 .3-1.2 0-1.3-.2-1.5 .2-1.5 0-1.5-.1-1.5 .2-1.5 .3-1.5-.4-1.1-.5-1.4 0-1.2 .2-1.3 .3-1.3 .3-1.2 .9 1 .1 1.5 .1 1.5 0 1.5 .1 1.1 .5 1.4 .3 1.5-.1 1.5-.2 1.2-.1 1.3 0 1.5-.4 1.4-.8 1.1 .3 1.5 0 1.2-.5 1.3z"/><path d="M558.5 302.8l-.9-1-.3-1.5 .2-1.5 .4-1 1 .5 .3 1.5 0 1.5-.7 1.5z"/><path d="M380.5 355.6l-.6-1.3 .5-1.5 .7 1-.1 1.4-.5 .4z"/><path d="M380.5 363.8l-.7-1-.1-1.5 .3-1.2 .9 1.2-.1 1.5-.3 1z"/><path d="M380.5 367.9l-.4-1.1 .2-1.5 .9 1-.2 1.5-.5 .1z"/><path d="M65 372.3l1.2-.5 1.1-1 .5-1-.5-1-1.2-1-1.1-.3"/><path d="M546 389.1l-.5-1.1 1 .5-.5 .6z"/><path d="M558.5 404.6l-1.2-.3-.5-1-.1-1.5 .3-1.2 1-1 1 .6 .4 1.1 0 1.5-.4 1.2-.5 .6z"/><path d="M379 403.4l-.6-1.1 0-1.5 1 1-.4 1.5 0 .1z"/><path d="M603 108.9l-1.5 .1-1.1 .3-1.4 .4-1.5 .4-1.5 .3-1.5 .3-1.5 .4-1.5 .4-1.5 .6-1.5 .6-1.5 .3-1.5 0-1.3-.2-1.2-.3-1.5-.3-1.5-.2-1.5-.2-1.5-.4-1.4-.6-1.1-.5-1.5-.5-1.5-.4-1.5-.4-1.5-.3-1.5-.2-1.5-.1-1.4-.1-1.6-.1-1.5 0-1.5 0-1.5 .1-1.4 .5-.9 1-.5 1-.5 1.5-.5 1.5-.5 1.5-.4 1.5-.2 1.5-.1 1.5-.2 1.5-.3 1.2-.2 1.3-.1 1.5 .1 1.5 .1 1.5 .1 1.5-.1 1.5-.3 1.5-.1 1.5-.1 1.5-.2 1.5-.6 1-1.1 .6-1.4-.1-1.1-.6-.8-.9-.4-1.5-.1-1.5-.5-1.5-.5-1-.4-1.5-.1-1.5 .1-1.5 .1-1.5 .1-1.5 0-1.4-.1-1.1-.3-1.5-.5-1.5-.6-1-1.5-.2-1.5 .6-1 .5-1 .5-1 .5-1 .6-1 .6-1 .9-.8 1-.9 1-1.1 1-1.2 .9-1 .5-1.2 .6-1.3 .7-1 .8-1 .9-1 .9-.9 .7-1.1 .7-1 .6-1 .6-1 .7-1 .6-1 .6-1.5 .6-1.5 .5-1 .5-1 .8-.8 .8-.9 1-.8 .8-1 .8-1 .5-1.2 .4-1.3 .5-1.2 .5-1.3 .9-1 .7-1 .8-1 .7-1 .9-.6 1-.5 1-.5 1.5-.3 1.5-.5 1.5-.5 1-.6 1-.6 1-.6 1-.5 1-.4 1.5-.2 1.5-.1 1.5-.2 1.5-.4 1.5-.4 1.5-.1 1.5-.1 1.5-.3 1.5-.5 1.5-.4 1.5-.4 1.5-.3 1.1-.3 1.4-.1 1.5 .4 1.5 .3 1.5 0 1.5-.3 1.2-.4 1.3-.4 1.5-.3 1.5-.4 1.3-.2 1.2-.1 1.5 0 1.5 0 1.5 .1 1.5-.1 1.5-.5 1-.9 1-1.3 .7-1.5 .1-1.5-.2-1.5-.4-1.5-.4-.9-.8-.5-1-.5-1-.8-1-.8-.8-1-.6-1.5-.6-1.2-.5-1.2-1-1.1-1-.5-1 .6-1 .6-1-.2-1.3-.7-1.2-.5-1.5-.8-1-.6 1-.4 1.1-1 .9-1.5 0-1-1-.6-1-.4-1.1-.3-1.4-.6-1.5-1.1-.3-1.5 .1-1.5-.1-.8-1.2 .3-1.5 .5-1 .7-1 .5-1 .3-1.1 .1-1.4-.5-1.5-1.1-.5-1 .5-1 1-.6 1-.9 .7-1.2-.2-1.3-.1-1 .5-.8 1.1-.5 1-.6 1.5-.6 1.2-1 .8-1.5 .5-1.5 .3-1.5 .1-1.3 .1-1.2 .3-1 .5-1 .7-1 .8-.8 .7-1.1 1-1.1 .5-1.5 .4-1 1.1-.6 1-.5 1.5-.3 1.5-.5 1-1.1 .9-1.5 .6-1.3 .5-1.2 .7-1 .6-1.5 .3-1.5-.2-1.5-.2-1.5 .2-1.5 .3-1.1 .3-1.4 .3-1.5 .2-1.5 .1-1.5 .2-1.5 .1-1.2 .1-1.3 .4-1 .8-1 .8-1.4 .5-1.1 .2-1.5 .2-1.5 .4-1.5 .4-1.4 .3-1.1 .3-1 .5-1 .5-1.5 .4-1.5 .7-.8 1.1-.7 .9-1.5 .4-1.1-.3-1.3 0-.7 1-.2 1.5 .2 1.5 .2 1.5-.1 1.5-.3 1.5-.2 1.5-.1 1.5 .6 1.5-.1 1.5-.6 1-.5 1.5 .4 1.5 .4 1.5-.6 1.4 0 1.2 .5 1.2 .7 1.2 .3 1.5-.1 1.5-.3 1.5-.2 1.5-.1 1.5-.3 1.3-.4 1.2-.1 1.5 .4 1.5-.2 1.5-.3 1.5-.3 1.5-.2 1.5 .1 1.3 .3 1.2 .3 1.5 0 1.5-.1 1.2-.1 1.3-.1 1.5 .1 1.5 .1 1.5 0 1.5-.4 1.5-.5 1-1-.5-.5-1-.4-1.5 0-1.5 .3-1.1 .5-1.4 .1-1.5-.1-1.2-.2-1.3-.2-1.5 0-1.5 .4-1.5 0-1.3-.2-1.2-.3-1.5 0-1.5 .1-1.5 .4-1.4 .1-1.1-.2-1.5-.3-1.5-.2-1.5-.3-1.5 .2-1.5 .1-1.5-.1-1.5-.1-1.5-.7-1.5-.5-1.5 .4-1.5 .6-1 .5-1 .2-1.5-.2-1.5-.4-1.5-.5-1-1.1-1-1.5 .3-1.5 .5-1.5 .6-1.5 .5-1.5 .4-1.5 .3-1.5 .3-1.5 .5-1.5 .6-1 .5-1 .6-1 .5-1.5 .6-1.5 .4-1.5 .2-1.5-.1 0-1.2 .5-1 .5-1.3 .8-1.2 1.2-.7 1-.5 1.5-.6 1.4-.7 1.1-.5 1-.5 1-.5 1-.5 1.2-.5 1.1-.5 1.2-.5-1-.6-1.5-.1-1.5 0-1.5 0-1.5-.1-1.5 0-1.5 0-1.5 0-1.5 0-1.5 0-1.5 0-1.5 .1-1.5 0-1.5 0-1.5 0-1.5-.1-1.5 0-1.5 0-1.5 0-1.5 0-1.5 0-1.5 0-1.5 0-1.5 0-1.5 0-1.5 0-1.5 0-1.5 0-1.5 0-1.5 0-1.5 0-1.5 0-1.5 0-1.5 0-1.5 0-1.5 0-1.5 0-1.5 0-1.5 0-1.5 0-1.5 0-1.5 .1-1.5 0-1.5 0-1.5 0-1.5 0-1.5 0-1.5 0-1.5 0-1.5 0-1.5 0-1.5 0-1.5 0-1.5 0-1.5 0-1.5 0-1.5 0-1.5-.1-1.5 0-1.5 0-1.5 0-1.5 0-1.5 0-1.5 0-1.5 0-1.5 .1-1.5 0-1.5 0-1.5 0-1.5 0-1.5 0-1.5 0-1.5 0-1.5 0-1.5 0-1.5 0-1.5 0-1.5-.1-1.5 0-1.5 0-1.5 0-1.5 0-1.5 0-1.5 0-1.5 0-1.5-.1-1.5 0-1.5 0-1.5 0-1.5 .1-1.5 0-1.5 .1-1.5 .1-1.5-.1-1.5 0-1.5 0-1.5 0-1.5 0-1.5 0-1.5 0-1.5 0-1.5 0-1.5 0-1.5 0-1.5 0-1.5 0-1.5 0-1.5 0-1.5-.1-1.5 .1-1.5 0-1.5 0-1.5 0-1.5 0-1.5-.1-1.5 0-1.5-.1-1.5-.1-1.5 0-1.5-.1-1.5-.2-1.5-.2-1.5 0-1.5-.1-1.5 0-1.5-.1-1.5 0-1.5-.1-1.5-.1-1.5-.1-1.5-.1-1.5-.1-1.5-.1-1.5-.1-1.5 0-1.5 0-1.4-.1-1.6-.2-1.5-.1-1.5-.1-1.5-.1-1.5-.1-1.5-.1-1.5-.1-1.5-.1-1.5-.1-1.5-.1-1.5-.1-1.5-.2-.7-1.1 1.2-.4 1.5-.2 1.5-.1 1.5-.1 1.5-.1 1.5-.1 1.5-.1 1.5-.1 1.5-.1 1.5 0 1.5-.1 1.5-.1 1.5-.3 1.5-.1 1.5 0 1.5-.1 1.5 0 1.5-.2 1.5-.1 1.5 0 1.5-.1 1.5 0 1.5 0 1.5-.1 1.5 0 1.5-.1 1.5-.1 1.5-.1 1.5-.2 1.5-.1 1.5-.1 1.5 0 1.5-.1 1.5-.1 1.5 0 1.5-.1 1.5 0 1.5 0 1.5 0 1.5 0 1.5 0 1.5 0 1.5 0 1.5 0 1.5 0 1.5 .1 1.5 0 1.5 0 1.5 0 1.5 0 1.5 0 1.5 0 1.5 0 1.5 0 1.5 0 1.5-.1 1.5 0 1.5 .1 1.5 0 1.5 0 1.5 0 1.5 0 1.5 0 1.5 0 1.5 0 1.5 0 1.5 0 1.5 0 1.5 0 1.5 0 1.5 0 1.5 0 1.5 0 1.5 0 1.5 0 1.5 0 1.5 0 1.5 0 1.5 0 1.5 0 1.5 0 1.5 0 1.5 0 1.5 0 1.5 0 1.5 0 1.5 0 1.5 0 1.5 0 1.5 0 1.5 0 1.5 0 1.5 0 1.5-.1 1.5 0 1.5 0 1.5 0 1.5 0 1.5 0 1.5 0 1.5 .1 1.5 0 1.5 0 1.5 0 1.5 0 1.5-.1 1.5 0 1.5 .1 1.5 0 1.5 0 1.5 0 1.5 0 1.5 0 1.5 0 1.5 0 1.5 0 1.5 0 1.5 0 1.5 0 1.5 0 1.5 0 1.5 0 1.5 0 1.5 0 1.5 0 1.5 0 1.5 0 1.5 0 1.5 0 1.5 0 1.5 0 1.5 0 1.5 0 1.5 0 1.5-.1 1.5 0 1.5 0 1.5 0 1.2 0 1.3-.2 1.5-.1 1.5-.2-1.5-.4-1.5-.4-1-.7-.6-1-.5-1-.8-1-1.1-.8-.9-1.2-.2-1.5 .4-1.5 1.1-1 1.1-.4 1.5-.2 1.5 0 1.5 .2 1.5 .2 1.5 .6 1 .5 1 .5 1 .5 1 .6 1 .5 1.5 .4 1.5 .1 1.5 .1 1.5 .2 1.5 .5 1.5 .4 1.2 .3 1.3 .1 1.5 0 1-.6 .3-1.5 0-1.5 0-1.5 .1-1.5 .1-1.4 .2-1.6 .1-1.5 0-1.5-.1-1.5-.1-1.5-.4-1.5-.4-1.5 .5-1.5 .5-1 .2-1.1 .1-1.4 .1-1.5 0-1.5-.1-1.5 .1-1.5-.1-1.5-.1-1.3-.3-1.2-.3-1.5 .2-1.5 .2-1.5 0-1.5 .1-1.5 .1-1.5 0-1.5-.1-1.5-.1-1.5-.3-1.5-.4-1.5 .1-1.5 .4-1.5 .3-1.5 .1-1.5 0-1.5-.3-1.5-.2-1.5-.1-1.5 0-1.5 .1-1.3 .2-1.2 .3-1.4 .3-1.6 .2-1.5 0-1.5-.2-1.5-.6-1.5 .1-1.5 .5-1.5 .2-1.5 0-1.5-.1-1.5 0-1.5 .1-1.5 .3-1.5 0-1.5-.3-1.1-.1-1.4 0-1.5 0-1.5-.1-1.5 0-1.5 0-1.5-.1-1.5 0-1.5 .1-1.5 .1-1.5 0-1.5 .1-1.5 .5-1.2 .1 1.2 .1 1.5 .1 1.5 0 1.5 .1 1.5 .1 1.5-.1 1.5-.1 1.5 0 1.5-.1 1.5 0 1.5 0 1.5-.1 1.5-.1 1.5 .1 1.5 0 1.5 .1 1.5-.1 1.5 0 1.5 0 1.5 .3 1.5 .3 1.5-.1 1.5-.4 1.5-.1 1.5 .1 1.5 .2 1.5 .2 1.5 .2 1.5 .1 1.5 .1 1.5 .1 1.5 0 1.5-.2 1.5 0 1.5 .1 1.5 .2 1.5 .3 1.4 .4 1.1 .2 1.5-.1 1.5-.3 1.5-.4 1.5-.3 1.5-.1 1.5 0 1.5 0 1.5 .1 1.5 0 1.1 0 1.4-.2 1.5-.2 1.5-.1 1.5 0 1.5 0 1.5 .1 1.5 .1 1.5 .5 1.5-.1 1.5-.4 1.5 .1 1.5 .2 1.4 .2 1.6-.1 1.5-.2 1.5 .1 1.5 .2 1.5 .3 1.5 1.5 .1 1.5-.1 1.5 0 1.5-.3 1.5-.3 1.5-.2 1.5 .2 1.5-.1 1.5-.7 1-1 .6-1.1 0-1.5-.6-1.2-.8-.8-1.2-.6-1.5-.4-1.5-.3-1-.4-.9-1.3-.6-1.5-.5-1.3-.3-1.2 0-1.5 .5-1.5 .7-1.5 1-1 1.1-.7 .8-.8-.6-1.5-.6-1.5-.6-1.3-1-1.2-1-.5-1.5-.3-1.5-.6-.1-1.6 .6-1 1-.6 1-.7 1-.6 1-.5 1-.5 1.4-.6 1.1-.3 1.5-.3 1.5-.6 1.5-.3 1.5 .4 1.5 .2 1.5-.4 1-.9 .7-1.3 .1-1.5-1.3-.7-1.5 .2-1.5 .3-1.5-.6-.9-.7-1.1-.6-1.5-.7-1.5-.4-1.2-.3-1.3-.3-1.5 0-1.5 .2-1.5-.1-1.2-.3-1.3-.9-.4-1.1 .2-1.5 .7-1 1-.8 1-.5 1-.5 1-.6 1-.6 1-.5 1.5-.2 1.5 .2 1.5 .2 1.5 0 1.3-.2 1.2-.2 1.5 .1 1.5 .1 1.5-.1 1.5-.3 1.5-.6 1-.8 .9-1.2 .6-1 .6-1 .8-1 1.1-1 1.5-.5 1.5 .4 1 .8 1 1.3 .5 1 .7 1 .8 .9 1.5 .5 1.5 .1 1.5 .1 1.5 0 1.3-.1 1.2 0 1.5-.1 1.5 0 1.5 0 1.5-.2 1.2-.2 1.3-.1 1.5-.1 1.5-.1 1.5 .2 1.5 .2 1.5 0 1.5-.1 1.5-.1 1.5 .1 1.5 .1 1.5 .3 1.3 .1 1.2 .1 1.5 .2 1.5-.2 1.5-.1 1.5 0 1.5 .1 1.5 .1 1.5 0 1.5-.1 1.5 .2 1.3 .7 1.2 .7 1.5 .1 1-.6 1-.9 .9-.8 1.1-.8 1-.7 1-.9 1-1 1-1.1 .9-1 1.1-.9 1-.7 1-.7 1-.5 1.5-.5 1.5-.6 .9-.6 1.1-1 1-1 .9-1 .9-1 1.2-.9 1-.7 1-.6 1-.6 1-.6 1-.6 1-.5 1-.4 1-.5 1-.7 1-.7 1-.5 1.5-.3 1.5-.4 1.3-.5 1.2-.8 .9-.7 1.1-.7 1-.5 1-.5 1.5-.6 1.5-.7 1-1 .5-1.1 1-1.3 1-.6 1-.5 1-.6 1-.5 1-.5 1-.5 1-.6 1-.6 1-.5 1-.5 1-.6 1-.5 1-.5 1-.5 1.5-.6 1.1-.5 1.1-.5 1.1-.5 1-.5 1-.5 1.2-.6 1-.6 1-.7 1-1.1 .4-1.5 .1-1.5 0-1.5 .2-1.5 .2-1.5 .1-1.2 .1-1.3 .1-1.5 .1-1.5 .2-1.5 .4-1 .6-1 .5-1-.2-1.5-.3-1.4-.2-1.1-.2-1.5-.2-1.5 .5-1.5 1-1 1.1-.4 1.5 .1 1 .5 .8 .8 .6 1 .3 1.5-.1 1.5-.3 1.5-.3 1.1-.2 1.4 .2 1.2 .5 1.3 .4 1.5 .3 1.5 .1 1.5 .1 1.5 .1 1.4 .1 1.1 .9 .9 1.5-.3 1.5-.6 1-.5 1-.6 1-.7 .9-.7 1.1-.8 1-.7 1-.6 1-.5 1-.5 1-.6 1-.6 1-.6 1-.6 1-.5 1-.7 1-.7 1-.8 1-.7 1-.8 1-.6 1-.7 1-.6 1-.6 1-.7 1-.6 1-.6 1-.7 1-.6 1-.6 1-.4 1.4-.6 1-.5 1.1-.7 .4-.3"/><path d="M380.5 75.3l-.5-1-.3-1.5-.1-1.5 .3-1.5 .6-1.1 .3 1.1 .5 1.5-.1 1.5-.6 1.5-.1 1z"/><path d="M325.5 104.3l-1.5 0-1.5-.1-1.5-.1-1.5-.2-1.3-.1-1.2-.3 .5-1.2 1.5-.2 1.5-.1 1.5-.1 1.5-.1 1.5-.1 1.1 .1 1.4 .2 1.5 .3 1.5 .1 1.5-.2 1.5-.1 1.5 .1 1.5-.1 1.5 0 1.5 0 1.5 .1 1.5 .1 1.5-.1 1.5-.1 1.5-.2 1.5-.1 1.5 0 1.5 0 1.5 .1 1.5 0 1.5 .1 1.5 0 1.5 .1 1.5 0 1.5 0 1.1 .2 1 .5-1.1 .6-1.5 .2-1.5 .1-1.5 0-1.5 0-1.5 .1-1.5 0-1.5 .1-1.5 0-1.5 .1-1.5 0-1.5-.1-1.5-.3-1.5-.1-1.5-.1-1.5 0-1.5 0-1.5 0-1.5 0-1.5 0-1.5 .1-1.5 0-1.5 0-1.5 .3-1.5 .3-1.4 .2-.1 0z"/><path d="M548 166.5l-.5-1.2-.1-1.5-.1-1.5 .1-1.5 0-1.5 0-1.5 0-1.5-.1-1.5 0-1.5 0-1.5 0-1.5 0-1.5 .2-1.2 1.2 .2 0 1.5 0 1.5 0 1.5 0 1.5-.1 1.5 0 1.5-.1 1.5 .1 1.5 0 1.5 0 1.5 0 1.5-.1 1.5-.5 .7z"/><path d="M410.9 153.3l-.4-1.2-.9 .7 1.3 .5z"/><path d="M410.4 171.8l.8-1 .7-1 .7-1 .6-1-.7-1.1-1.5 .1-1.5 .4-1.3 .6-1 1 .3 1.5 1 .9 1 .9 .9-.3z"/><path d="M398.8 171.8l1-1 .4-1.5-.6-1-1.1-.5-1.2 0-1.3 .4-1 .6-1 .9 .3 1.1 .7 .8 1 .5 1.5 .1 1.3-.4z"/><path d="M451 188.5l-1.5-.7 0-1.4 1.4 .4 .5 1-.4 .7z"/><path d="M385.6 199.8l-.8-1-1.3-.9-.7 .9 .6 1 1.1 .5 1.1-.5z"/><path d="M592.5 208.8l-1.5 0-1.5 0-1.5 .1-1.5 0-1.5 0-1.5-.1-1.5-.1-1.5-.1-1.5-.1-1.5 .1-1.5 .1-1.5 .1-1.3 0-1.2 0-1-.8 .5-1.1 1.3-.1 1.2 0 1.5 .1 1.5 0 1.5 .1 1.5-.1 1.5-.1 1.5 0 1.5-.1 1.5 0 1.5 0 1.5 .1 1.5 0 1.5 0 1.5 0 1.5 .1 1.5 0 1.5 0 1.5 0 1.3 .4-.3 1.3-1.5 .1-1.5 0-1.5 0-1.5 0-1.5 .1-.5 0z"/><path d="M336.5 238.8l-1.5-.2-1-1.1-.5-1.1-.3-1.6 .1-1.5 .6-1.5 1.1-1 1.5-.2 1 .7 .7 1 .4 1.5 .1 1.5-.2 1.4-.5 1-1 1-.5 .1z"/><path d="M65 360.2l1.5-.2 1.4-.2 1.1-.3 1.5-.4 1.5-.3 1.5-.2 1.5-.1 1.5-.1 1.5-.1 1.5 0 1.5-.1 1.5-.2 1.5-.3 1.5-.3 1.5-.4 1.2-.2 1.3-.2 1.5-.2 1.5-.3 1.2-.3 1.2-1-.9-.9-1-.9-1-1.2-.4-1 .2-1.5 .7-.9 .9-.6 1.1-.4 1.5-.5 1.5-.6 1.4-.5 1.1-.4 1.5-.4 1.2-.2 1.3 .1 1.5 .3 1.5 .5 1.5 .2 1.5-.3 1.1-.3 1.4-.5 1.5-.3 1.5-.5 1.5-.6 1-.5 1.5-.5 1.5-.3 1.5-.1 1.5 .1 1.5 0 1.5 .1 1.5 0 1.5-.1 1.5-.3 1.5 0 1.5 .1 1.5-.6 1-.8 1-.7 1-.6 1.5-.6 1.5-.1 1.5 .2 1.5 .1 1.5-.2 1.5-.7 1-.5 1.5-.5 1.5-.2 1.4-.4 1.1-.5 1-.4 1-.6 1-.7 1-.8 1-.5 1.5-.4 1.5-.1 1.5-.1 1.5-.3 1.5-.3 1.5-.5 1.5-.7 1-.5 1.4-.6 1.1-.3 1.5-.1 1.5-.2 1.5-.3 1.5-.4 1-.5 1-.6 1-.6 1-.6 1.1-.4 1.4-.5 1.5-.4 1.5-.4 1.2-.2 1.3-.2 1.5-.3 1.2-.5 1.3-.9 1-.8 1-.7 1-.6 1-.5 1-.5 1-.4 1-.5 1.4-.6 1.1-.6 1-.9 1-.9 1-.9 .9-.7 1.1-.8 1-.7 1-.7 1-.6 1-.5 1-.6 1-.5 1-.7 1-.7 .9-.7 1.1-.9 1-.8 1-.8 1-.8 .9-.7 1.1-.7 1-.6 1-.5 1-.6 1-.5 1-.6 1-.5 1-.6 1-.7 1-.7 1-.7 1-.5 1.5-.6 1.5-.5 1.5-.6 1-.7 1-.7 1-.6 .9-.6 1.1-.8 1-.9 1-.7 1-.7 1-.6 1-.6 1-.6 1-.6 1-.6 1-.6 1-.6 1-.6 .9-.6 1.1-.8 1-.7 1-.5 1-.4 1.5-.4 1.5-.4 1.3 .2 0 1.5-.6 1.5-.7 1.5-.8 1-1.2 1-1 .8-1 .9-.8 .8-1.2 1-1 .8-1 .6-1 .5-1 .5-1 .6-1 .5-1 .6-1 .6-1 .5-1 .4-1 .6-1 .6-1 .7-1 .7-.9 .8-1.1 .9-1 .9-1 .7-1 .6-1 .5-1.5 .6-1.5 .7-1 .5-1 .6-1 .8-.8 .7-1.2 .9-1 .8-1 .6-1 .7-1 .7-1 .8-1 .8-1 .6-1 .6-1.2 .5-1.2 .5-1 .5-1.1 .7-1 .7-1 .8-1 .7-1 .6-1 .6-1 .6-1 .7-1 .7-1 .7-.9 .7-1.1 .9-1 .8-1 .7-1 .6-1 .5-1.2 .5-1.3 .5-1 .4-1 .7-1 .8-1 .9-.8 .7-1.2 1-1 .9-1 .8-1 .8-1 .8-1 .6-1 .7-1 .7-.9 .7-1.1 .9-1 .8-1 .8-1 .8-1 .8-1 .8-1 .8-1 .7-1 .9-1 .9-.9 .8-1.1 1-1 .9-1 .8-.9 .8-1.1 1-1 1-.9 1-.8 1-.8 .8-1 1.1-1 1-1 1-1 1.1-1 1-1 1-.9 1-1.1 .8-1 .5-1 .4-1.5 .7-1 .5-1 .4-1 .5-1 .5-1 .5-1 .5-1 .5-1 .4-1.5 .6-1.5 .2-1.5 .2-1.5 .1-1.5 .2-1.5 .1-1.5 .2-1.5 .2-1.5 .3-1.3 .2-1.2 .3-1.5 .4-1.3 .3-1.2 .3-1 .6-1 .6-1 .7-1 .7-1 .8-1 .7-1 .8-1 .7-1 .8-1 .8-1 .9-1 .8-1 .8-1 .8-1 .7-1 .8-1 .7-1 .8-.9 .7-1.1 .9-1 .8-1 .8-1 .8-1 .8-1 .8-1 .8-1 .8-1 .7-1 .6-1 .6-1 .5-1 .6-1 .7-1 .6-1 .7-1 .7-1 .6-1 .6-1 .6-1 .6-1 .6-1 .6-1 .6-1 .7-1 .6-1 .6-1 .6-1 .6-1 .6-1 .6-1 .6-1 .7-1 .6-1 .7-1 .6-1 .7-.7 .4"/><path d="M380.5 303.5l-.7-1.2 0-1.5 .6-1.5 .6 1 .2 1.5-.2 1.3-.5 .4z"/><path d="M558.5 301.3l-.6-1 .6-1.1 .2 1.1-.2 1z"/><path d="M381 313.7l-.8-.9 0-1.5 .1-1.5-.1-1.5 .1-1.5 .5-1.5 1.1 1 .1 1.5-.3 1.5-.1 1.5 .1 1.5-.7 1.4z"/><path d="M108.2 354.3l1.1-.5 .9-1-1.2-.8-1.5-.3-1.2 .6-1 1 .7 1.1 1.5 .1 .7-.2z"/><path d="M118.5 354.3l1-.9-.5-1.1-1.5 0-1.5-.2-1.5-.1-1.1 .3 .1 1.1 1 .6 1.5 .6 1.5 .1 1-.4z"/><path d="M100.3 354.8l-.3-1.2-1.5 .1-.4 1.1 1.4 .3 .8-.3z"/><path d="M65 373.7l1.3-.4 1.2-.6 1.5-.6 1.2-.3 1.3-.5 1.5-.3 1.5-.1 1.5 .1 1.5 .1 1.5-.2 1.5-.3 1.5-.3 1.5-.4 1-.6 .9-1-.4-1-1-.7-1.5-.6-1.5-.3-1.5 0-1.5 .6-1.5 .4-1.5 .4-1.5 .4-1.5 .3-1.4 0-1.1-.2-1.5-.7-1-.6-1-.5-1-.2"/><path d="M65 383.5l1.5-.1 1.3 .4 1.2 .4 1.5 .4 1.5-.2 1.3-.6 .2-1.1-1-.7-1-.5-1.5-.3-1.5 .3-1.5 .7-1.5 .4-.5 0z"/><path d="M558 403.3l-.5-1 .5-1.3 .6 1.3-.5 1-.1 0z"/><path d="M603 105.3l-1.5 .4-1.5 .6-1.4 .5-1.1 .4-1.5 .4-1.5 .4-1.5 .3-1.5 .2-1.5 .1-1.5 .2-1.5 .2-1.5 .1-1.5 .1-1.5-.1-1.5 0-1.5-.1-1.5-.1-1.5-.2-1.5-.3-1.5-.3-1.5-.3-1.5-.1-1.5-.1-1.5-.1-1.5 0-1.5-.1-1.5 0-1.5 0-1.2-.1-1.3-.2-1.5-.3-1.5 .4-1 1-.7 1.1-.6 1.5-.6 1.5-.6 1.5-.4 1.5-.1 1.5 0 1.5-.1 1.5-.2 1.5-.4 1.5-.1 1.5 0 1.5 .1 1.5 .2 1.5 0 1.5-.3 1.5-.6 1.5-.4 1.5-.2 1.2-1 .6-.8-1.3-.5-1.5-1-1-.7-.9-.5-1-.2-1.1 0-1.5 .1-1.5 .1-1.5 .1-1.5 0-1.5-.1-1.1-.2-1.4-.2-1.5-.4-1.5-.7-1.4-1.4-.1-1.1 .5-1 .6-1 .7-1 .5-1 .6-1 .4-1 .5-1 .5-1 .7-1 1-.8 1-1 1-1.2 .9-1 .5-1 .6-1 .6-1 .7-1 .9-.8 .8-1.2 .9-1 .7-1 .6-1 .5-1 .6-1 .6-1 .5-1.3 .6-1.2 .5-1 .4-1 .7-1 .9-.9 1-.9 1-1 1-1.2 .6-1.1 .4-1.4 .5-1.2 .5-1.3 .8-1 .7-1 .9-1 .7-1 .7-.9 .7-.9 1-.6 1-.6 1.5-.2 1.5-.3 1.3-.7 1.2-.8 .9-1 1.1-.7 1-.7 1-.6 1 .5 1.5 0 1.5-.2 1.5-.3 1.2-.7 1.3-.4 1.5 .3 1.5 .2 1.5-.4 1.5-.5 1-.5 1-.5 1.5-.4 1.5-.6 1.4-.3 1.1 0 1.5 .7 1.5 .7 1 .3 1.5-.3 1.5-.2 1.5-.1 1.5-.3 1.4-.3 1.1-.3 1.5-.1 1.5-.1 1.5 .1 1.5 .1 1.5-.3 1.5-.9 1-1.2 .4-1.5-.2-1.5-.4-1-.6-1-1.1-.7-1.1-.7-1-.8-1-.7-1-.5-1-.6-1.5-.4-1.5-.4-1.5-.4-1.5-.5-1-.5-1-.4-1.5-.4-1.2-.5-1-.4-1.3-.3-1.5-.1-1.5-.1-1.5-.1-1.5 0-1.5 .1-1.5-.1-1.5-.3-1.5-.6-1.5-1-1-1.1-.6-1.5-.6-1-.6-1-1-.9-1.2-1.1-.4-1.3 .4-1.2 .5-1 .5-1 .8-1 1.1-.8 1.1-1 1-1 1-.9 1-.8 .9-1 .7-1 .7-1 1-.9 1.2-.8 1-1.3 .4-1.4 .6-.7 1-.9 .7-1.1 .3-1 .5-.9 .8-1 .8-1 .6-1.3 .3-1.2 .1-1.5 .1-1.1 .3-1.4 .9-1 .9-1 1.1-.6 1.1-.4 1.2-.1 1.3-.1 1.5-.3 1.4-.8 1.1-1.2 .5-1.5 0-1.5 .3-1 .5-1.5 .6-1.5 .3-1.5 .2-1.5 .5-1 .5-1 .5-1.5 .4-1.5 .1-1.3 .1-1.2 0-1.5 0-1.5 .1-1.1 .4-1.4 .7-1 .5-1.5 .5-1.5 .2-1.5 .1-1.5 .2-1.5 0-1.5-.4-1.5-.6-1.5-.5-1-.5-1-.7-1-.9-1-1.1 .7-1 1.1-.5 1.2-.4 1.5 .1 1.5 .2 1.5-.1 1.5-.6 1-.9 .9-.8 1.1-.6 1.3-.4 .8-1 .7-1.5 .7-.8 1.5-.6 1.5-.4 1.4-.7 .7-1 .5-1 .7-1 .7-.8 1-1.2 .6-1 .5-1 .7-1 .6-1 .5-1 .5-1.5 .6-1.5 .8-1 1.2-.7 1.5 0 1.5 .1 1.2-.4 .8-.8 .6-1.2-.1-1.1-1-1.4-1-.6-1.5-.2-1.2 .3-1.3 .2-1.5-.5-1.5 .1-1.5 .4-1.5 .1-1.5 .2-1.5 .1-1.5-.1-1.5-.4-1.5 .1-1.5 .3-1.5 .1-1.5-.1-1.5 0-1.5-.4-1-.9-.9-1.2-.6-1 .5-1.4 1-.6 1.5 0 1.5 0 1.5 0 1.3-.5 1.2-.5 1.5-.2 1.5 0 1.5-.1 1.5-.6 1-.8 1.5 0 1.5 .3 1.5 .2 1.5-.2 1-.7 1-.8 1.5-.1 1.5 .2 1.5 0 1.5-.6 1-.8 .7-1.3 .4-1.5-.5-1.5-1.1-1-1-.5-1.5-.1-1.5 .4-1.5 .6-1.5 .2-1.4-.1-1.1-.1-1.5-.1-1.5-.1-1.2-.2-1.3-.4-1.5-.4-1.5-.1-1.5-.2-1.5-.4-1.5-.2-1.5-.1-1.3-.2-1.2-.3-1.5-.5-1-.5-1-.7-1-.7-.8-.8 .3-1.2 1-.8 1.5-.2 1.5 .3 1.5 .6 1.5 .2 1-.5 1-.6 1.2-.3 1.3-.1 1.5-.1 1.5-.2 1.5-.2 1.1-.4 .9-.8 .7-1.2 .7-1.5 .5-1 .6-1 1-1 1-.5 1.5 .1 1 .8 .8 1.1 .5 1 .7 1.5 .5 1 1 .7 1.5 .3 1.4 0 1.1 0 1.5 .1 1.4-.1 1.6-.1 1.5 .2 1.5 .1 1.5-.1 1.5-.3 1.4-.3 1.6-.2 1.5-.2 1.5 0 1.5 .2 1.5 .2 1.5 0 1.5-.1 1.5-.1 1.5 .1 1.5 .2 1.5 .3 1.5 .5 1.4 .6 1.1 .4 1.5 0 1.1 .6-1.1 .8-.3 1.2 .7 1 1.1 0 .7-1 .1-1.5 1.2-.7 1.5-.5 1.5-.6 1.5-.3 1.5 .4 1 .9 1 1.1 1 .5 1.5-.3 1-.8 1-.9 .9-.8 1.1-.9 .9-.6 1.1-.8 .8-.7 .9-1 .8-.9 1-.9 .9-.7 1.1-.9 1-.9 .9-.7 1.1-.7 1-.5 1-.5 1-.7 1-.8 .9-.8 1.1-.9 1-.9 1-.9 1-.7 1-.6 1-.7 1-.7 1-.6 1-.4 1.2-.6 1-.5 1.3-.8 1-.5 1.5-.5 1.5-.4 1.5-.6 1-.5 1-.7 1-.7 1-.7 1-.7 1-.5 1-.5 1.5-.7 .9-.7 .2-1.5 .4-1.2 1-1.1 1-.6 1-.5 1-.5 1-.5 1-.6 1-.5 1-.5 1-.6 1-.6 1-.5 1-.5 1-.5 1-.5 1-.5 1.5-.7 1.4-.6 1.1-.5 1-.5 1-.5 1-.5 1-.6 1-.6 1-.7 1-.9 .5-1.1 .1-1.1 0-1.5 .1-1.5 .1-1.5 .2-1.4 .1-1.6 .1-1.5 .1-1.5 .2-1.5 .5-1.1 .9-.9 1.1-.5 1.5 .2 .9 .8 .7 1 .3 1.5 .2 1.5 .1 1.5 0 1.5 0 1.5 .1 1.5 1.2 .6 1.5-.4 1.5-.6 1-.5 1-.5 1-.6 1-.7 1-.7 .9-.6 1.1-.7 1-.6 1-.6 1-.5 1-.5 1-.6 1-.7 1-.6 1-.5 1-.6 .9-.6 1.1-.8 1-.7 1-.8 1-.6 1-.7 1-.7 1-.6 1-.7 1-.6 1-.7 1-.6 1-.6 1-.6 1-.5 1.5-.7 1-.5 1-.6 1-.7 .4-.3"/><path d="M549.5 71.2l-1.3-.9-.6-1.5 .9-1 1.3 .5 .3 1.5-.6 1.4z"/><path d="M380.5 73.1l-.5-1.1 .3-1.2 .6 1-.4 1.3z"/><path d="M603 76.7l-1.5 .4-1.5 .4-1 .5-1 .6-1 .7-.8 1-.6 1-.8 1-1.3 1-1 .5-1.2 .5-1.1 .5-1.2 .7-1 .8-.6 1 .5 1 .7 1 .9 .7 1 .6 1 .4 1.5 .6 1.5 .3 1.5 .1 1.5 .1 1.5 0 1.5-.2 1.5-.4 1-.2"/><path d="M380.5 124.3l-1-1 0-1.2 .5-1.1 .8 .8 .1 1.5-.4 1z"/><path d="M380.5 165.8l-.8-1-.4-1.5 .2-1.3 .3-1.2 0-1.5 .1-1.5 .1-1.5-.1-1.5 0-1.5 0-1.5-.2-1.5-.2-1.5 0-1.5 .2-1.5 .2-1.5 .4-1.5 .1-1.5-.5-1-.4-1.3-.2-1.2-.2-1.5 0-1.5 .2-1.5 .4-1.5 .8-1.2 .3 1.2 .3 1.5 .1 1.5 .1 1.5 .1 1.5-.3 1.5-.5 1.5-.1 1.5 .2 1.5 .2 1.5 .3 1.5 .3 1.1 .4 1.4-.1 1.5-.3 1.1-.3 1.4-.2 1.5-.2 1.5 0 1.5 0 1.5 .1 1.5 .1 1.4 0 1.6-.4 1.5-.1 .5z"/><path d="M445.2 151.8l.8-.9 1.5 .3 1.5 0 1.2-.4 1.3-.2 1.5 .1 1.5-.2 .9-1.2-.7-1-1-.5-1.2-.4-1.5-.5-1.5-.3-1.5 .5-1 1.2-.5 1-.5 1.4-1.5 .1-1.5 .2 .5 1.2 1.5-.3 .2-.1z"/><path d="M439.9 151.3l-.4-1-1.2 .5 1.2 .6 .4-.1z"/><path d="M482.4 161.3l1.6-.3 1.4-.7 1.1-.9 1-.7 1-.6 .2-1.3-.7-.9-.6-1.1-.8-1-1.1-.6-1.2-.4-1.3-.4-1.5-.1-1.2 .5-1 1-.8 1-.6 1-.2 1.5 .2 1.5 .5 1.5 .9 1 1.2 .3 1.5-.2 .4-.1z"/><path d="M427.2 167.3l1.1-1-.3-1.2-1.4 .7-.7 1 1.1 .6 .2-.1z"/><path d="M380.5 242.2l-.5-1.1-.4-1.3-.3-1.5-.2-1.5-.1-1.2 .1-1.3 .1-1.5-.2-1.5 0-1.5-.5-1.3-.6-1.2 .1-1.5 .5-1 .7-1 .4-1.5-.1-1.2-.2-1.3-.5-1.5-.6-1-1.1-1-1.1 0-1.2 .5-1.3 .5-1.3 .5-1.2 .4-1.5 .4-1.5 .2-1.5 .3-1.1 .2-1.4 .4-1.5 .5-1 .5-1 .6-1.5 .5-1.5 .1-.7-1.1 .5-1 1.2-.9 1-.6 1-.6 1-.5 1-.5 1-.6 1-.6 1-.5 1-.5 1-.4 1.5-.7 1.4-.6-.9-.6-1.5-.1-1.5-.1-1.5 0-1.5-.1-1.5 0-1.5-.1-1.5 0-1.5 0-1.5 .1-1.5 0-1.5 0-1.5 0-1.5 0-1.5 0-1.5 0-1.5 0-1.5 0-1.5 0-1.5-.1-1.5 0-1.5 0-1.5 0-1.5 0-1.5 0-1.4 0-1.1 0-1.5 0-1.5 0-1.5 .1-1.5 0-1.5 0-1.5 0-1.5 0-1.5 0-1.5-.1-1.5 0-1.5 0-1.5 0-1.5 0-1.5 0-1.5 .1-1.5 0-1.5 0-1.5 0-1.5 0-1.5 0-1.5 0-1.5 0-1.5 0-1.5 0-1.5 0-1.5 0-1.5 0-1.5 0-1.5 0-1.5 0-1.5 0-1.5 0-1.5 0-1.5-.1-1.5 0-1.5 0-1.5 0-1.5 0-1.5 .1-1.5 0-1.5 .1-1.5 0-1.5 0-1.5 0-1.5 0-1.5 0-1.5 0-1.5 0-1.5 0-1.5 0-1.5-.1-1.5 0-1.5 0-1.5 0-1.5 0-1.5 0-1.5-.1-1.5 0-1.5 0-1.5 0-1.5 0-1.5 0-1.5 0-1.3 0-1.2 .1-1.5 0-1.5 .2-1.5 0-1.5-.1-1.5-.1-1.5 0-1.5 .1-1.5 0-1.5 0-1.5 0-1.5 0-1.5 0-1.5 0-1.5 0-1.5 0-1.5 0-1.5-.1-1.5 0-1.5 0-1.5 0-1.5 0-1.5 0-1.5 0-1.5 0-1.5 0-1.5-.1-1.5 0-1.5-.1-1.5 0-1.5-.2-1.1-.2-1.4-.1-1.5 0-1.5-.1-1.5-.1-1.5 0-1.5-.1-1.3-.1-1.2 0-1.5-.1-1.5-.1-1.5-.1-1.5-.1-1.5-.1-1.5-.1-1.5 0-1.5 0-1.5-.3-1.2-.1-1.3 0-1.5-.1-1.5-.1-1.5-.1-1.5-.2-1.5-.1-1.5-.1-1.5-.1-1.5-.2-1.5-.2-1.2-.3 1.2-.6 1.5-.2 1.5-.1 1.5-.2 1.5-.1 1.5-.1 1.5-.1 1.5-.1 1.5-.1 1.5 0 1.5-.1 1.5-.2 1.5-.3 1.5 0 1.5 0 1.5-.1 1.5-.1 1.5-.1 1.5-.1 1.5-.1 1.5-.1 1.5 0 1.5 0 1.5 0 1.5-.1 1.5-.1 1.5-.1 1.5-.1 1.5-.2 1.5-.1 1.5 0 1.5-.1 1.5-.1 1.5-.1 1.5-.1 1.5 0 1.5 0 1.5 0 1.5 0 1.5 0 1.5 0 1.5 0 1.5 0 1.5 0 1.5 0 1.5 0 1.5 0 1.5 0 1.5 0 1.5 0 1.5 .1 1.5 0 1.5 0 1.5 0 1.5 0 1.5-.1 1.5 0 1.5 0 1.5 0 1.5 .1 1.5 0 1.5 0 1.5 0 1.5 0 1.5 0 1.5 0 1.5 0 1.5 0 1.5 0 1.5 0 1.5 0 1.5 0 1.5-.1 1.5 0 1.5 0 1.5 0 1.5 .1 1.5 0 1.5 0 1.5 0 1.5-.1 1.5 0 1.5 0 1.5 0 1.5 0 1.5 0 1.5 0 1.5 0 1.5 0 1.5 0 1.5 0 1.5 0 1.5 0 1.5 0 1.5 0 1.5 0 1.5 0 1.5 0 1.5 0 1.5 0 1.5 0 1.5 0 1.5 0 1.5 0 1.5 0 1.5 0 1.5 0 1.5 0 1.5 0 1.5 0 1.5 0 1.5 0 1.5 .1 1.5 0 1.5 0 1.5 0 1.5 0 1.5 0 1.5 0 1.5 0 1.5 0 1.5 0 1.5 0 1.5 0 1.5 0 1.5 0 1.5 0 1.5 0 1.5 0 1.5 0 1.5 0 1.5 0 1.5-.1 1.5 0 1.5 0 1.5 0 1.5 0 1.5 0 1.5-.1 1.5 0 1.5 0 1.5 0 1.5 0 1.5 0 1.5 0 1.5 0-.5-1.1-1.3-.4-1.2-.1-1.5 .1-1.4 0-1.6-.2-1.2-.3-1.1-.5-.6-1 0-1.5 .3-1.5 .2-1.5 .5-1 1.1-.5 1.2 0 1.1 .3 1 .5 1 .6 1.5 .6 1.2 .5 1.2 .5 1.1 .2 1.5-.1 1.5 0 1.5 .1 1.4 .3 1.1 .3 1.5 .3 1.5 .2 1.5 0 1.4-.3 .7-1 .3-1.5 0-1.5-.1-1.5 .1-1.5 0-1.5 .2-1.5 .2-1.5-.1-1.5-.2-1.4-.1-1.1-.2-1.5-.5-1.5 .2-1.5 .7-1 .3-1.5 .2-1.5 1 .5-.1 1.5-.2 1.5 .2 1.5 .2 1.5 .2 1.5-.1 1.5-.3 1.5 0 1.5 .1 1.5 .2 1.5 .2 1.5 0 1.5 0 1.5-.1 1.5 0 1.5 .6 1.5 .4 1.5 .5 1.5 .1 1.5-.5 1.5-.5 1.3-.2 1.2 .1 1.5 .3 1.5 .1 1.5-.2 1.5-.2 1.5-.2 1.5-.1 1.5 .4 1.2-.2 1.3-.6 1-.3 1.5 .4 1.5 .2 1.3-.2 1.2-.1 1.5 .3 1.1 .8 1.4 .4 1.5-.1 1.5-.3 1.5-.2 1.5-.1 1.5-.4 1.5-.6 1-.5 .9z"/><path d="M400 180.8l-1.5 0-1.5-.5-1-.5 .5-1.4 1-1 1-.5 1.5-.1 1.5 .3 1 .7-.4 1-.9 1-1.2 1z"/><path d="M574 208.3l-1.5 .1-1.1-.6 1.1-.6 1.4 .1 1.1 .2 1.5 .2-1.5 .5-1 .1z"/><path d="M594 208.3l-1.5 0-1.5 0-1.5 .1-1.5 .1-1.5 0-1.5 0-1.5-.1-1.5-.3-1.3-.3 1.3-.5 1.5-.1 1.5-.1 1.5 0 1.5 .1 1.5 0 1.5 .1 1.5 0 1.5 0 1.5 .1 1.5 .1 1.5 0 1.5-.1-1 .7-1.5 0-1.5 0-1.5 .2-.5 0z"/><path d="M337 237.5l-1.5 .2-1-.9-.5-1.3-.1-1.2 .4-1.5 .7-.9 1.5-.2 1 1.1 .5 1.5-.1 1.5-.4 1.1-.5 .6z"/><path d="M380 249.5l-.4-1.2-.3-1.5 0-1.5 .2-1.1 .5-1.2 1 .8 .2 1.5-.1 1.5-.3 1.5-.8 1.2z"/><path d="M380.5 265.8l-1-.5-.4-1.5 .1-1.5 .3-1.1 .5-1.4 .1-1.5-.2-1.5-.3-1.5 0-1.5 .4-1.5 .9 1 .3 1.5 0 1.5-.2 1.5-.3 1.5 .2 1.5 .2 1.5 .1 1.5-.2 1.1-.5 .9z"/><path d="M65 375l1.2-.2 1.3-.5 1.5-.3 1.5-.3 1.2-.4 1.3-.5 1.5-.3 1.5-.1 1.5 0 1.5-.1 1.5-.1 1.5-.2 1.5-.1 1.1-.1 1.4-.3 1.5-.4 1.5-.1 1.5 .2 1.5 .4 1.5-.1 1.5-.4 1.5-.3 1.5 0 1.5 0 1.5-.5 1-.5 1.5-.3 1.1-.2 1.1-.5 1.3-1 1-.9 1-1.1 .6-1-.1-1.1-.9-.9-1.1-.4-1.5 0-1.2 .4-1.3 .7-1 .5-1.1 .3-1.4 0-1.5-.5-1.5-.3-1.5 .3-1.5 .3-1.5 .1-1.5 0-1.5-.2-1.5 0-1.5 .2-1.5 .1-1.5-.2-1.5-.6-1-.7-.7-1 .7-1 1-.5 1.2-.5 1.3-.4 1.5-.5 1.5-.3 1.5-.2 1.5-.2 1.5-.2 1.5 0 1.5 .1 1.5-.1 1.5-.3 1.5-.2 1.5-.3 1.4-.4 1.1-.1 1.5 0 1.5-.1 1.5-.2 1.5-.3 1.5-.3 1.5-.1 1.5 .5 1 .7 .9 .9 1.1 .9 1.5-.2 1-.5 1-1 1-1.1 1-.8 1-.6 1-1 .3-1.2 .2-1.1 1-1.4 1.5-.3 1.5 .7 1 .7 1.3-.6 1.1-1 1.1-.9 1-1 .4-1.1 .5-1.5 .7-1 .9-1 1-1 1-.8 1-.6 1.5-.3 1.5 .1 1.5 .1 1.5-.1 1.2-.4 1-.5 1.3-.7 1.5-.4 1.5-.2 1.5-.5 1.5-.6 1.3-.6 1-.5 1-.5 1-.5 1.2-.5 1.5-.3 1.5-.3 1.5-.3 1.5-.2 1.5-.4 1.5-.5 1-.4 1-.6 1-.5 1.5-.5 1.5-.2 1.5-.2 1.5-.2 1.3-.4 1.2-.7 1-.8 1-.7 1-.5 1.5-.6 1.5-.6 1.5-.6 1.5-.4 1.5-.3 1.3-.3 1.1-.5 1.1-.8 .9-.7 1.1-.9 1-.6 1-.5 1-.5 1-.5 1.2-.5 1.2-.5 1-.5 1.1-.8 1-.9 1-1 1-.8 1-.8 1-.7 1-.7 1-.6 1-.5 1-.6 1-.5 1-.7 1-.7 1-.7 1-.8 1-.8 1-.9 1-.8 .9-.7 1.1-.7 1-.6 1-.5 1-.5 1-.6 1-.5 1-.5 1-.6 1-.7 1-.8 1-.7 1-.5 1.5-.6 1.5-.5 1.5-.6 1-.5 1-.7 1-.7 1-.6 1-.8 1-.8 1-.9 1-.7 1-.6 1-.6 1-.6 1-.6 1-.6 1-.6 1-.5 1-.6 1-.6 1-.8 1-.7 1-.5 1.5-.6 1.5-.3 1.3 .3-.1 1.5-.6 1.5-.6 .9-1 .9-1 .8-1 .9-1 1-1 1-1 .8-1 .6-1 .6-1 .5-1 .5-1 .5-1 .7-1 .5-1 .5-1.5 .6-1 .6-.9 .6-1.1 .8-1 .7-1 .9-1 .9-1 .9-1 .7-1 .5-1.3 .6-1.2 .4-1.4 .6-1 .5-1.1 .8-.9 .7-1.1 1-1 .8-1 .7-1 .7-1 .7-1 .7-1 .8-1 .7-1 .7-1 .5-1.5 .6-1.3 .6-1.2 .7-1 .7-1 .7-1 .7-1 .7-1 .6-1 .6-1 .7-1 .6-1 .7-1 .8-1 .9-1 .9-1 .7-1 .6-1 .6-1.5 .6-1.5 .6-1 .5-1 .7-1 .9-1 .9-1 .9-.8 .7-1.2 1-1 .9-1 .7-1 .7-1 .7-1 .7-1 .7-1 .8-1 .8-1 .9-1 .8-1 .8-1 .8-.9 .7-1.1 .8-1 .8-1 .9-1 .9-1 .9-1 .9-.9 .8-1.1 .9-1 .9-1 .9-1 1.1-1 1.2-.9 1-.9 1-1 1-1 1-.9 1-.8 .8-1 1-1 1.1-1 .9-1 .5-1 .5-1 .5-1.5 .6-1 .5-1 .4-1 .5-1 .5-1 .5-1 .5-1 .5-1.5 .6-1.5 .4-1.5 .1-1.5 .2-1.5 .1-1.5 .2-1.5 .1-1.5 .2-1.5 .2-1.5 .4-1.2 .2-1.3 .4-1.5 .4-1.5 .3-1 .6-1 .6-1 .7-1 .7-1 .7-1 .8-1 .7-1 .8-1 .8-1 .8-1 .9-1 .7-1 .9-1 .7-1 .8-1 .7-1 .8-1 .7-1 .9-1 .8-1 .8-1 .8-.9 .7-1.1 .9-1 .8-1 .8-1 .8-1 .7-1 .5-1 .6-1 .6-1 .6-1 .6-1 .7-1 .7-1 .6-1 .7-1 .6-1 .6-1 .6-1 .6-1 .6-1 .6-1 .6-1 .6-1 .7-1 .6-1 .5-1 .6-1 .6-1 .7-1 .6-1 .7-.9 .6-1.1 .7-1 .6-1 .6-.1 .1"/><path d="M380.5 302.1l0-1.2 0 1.2z"/><path d="M381 309.7l-.4-1.4 .2-1.5 .8 1-.5 1.5-.1 .4z"/><path d="M381 312.8l-.4-1 .4 1z"/><path d="M124 348.4l-1.5 .2-1.5 0-1.5-.1-1.5-.2-1.2-.5 .7-1.4 1-1 1-.8 1-.5 1.3-.3 1.2-.1 1.5 .2 1.2 .4 1 1-.1 1.5-1.1 1-1 .5-.5 .1z"/><path d="M95.5 351.4l-1.5-.6 .4-1.5 1.1-.3 1.5-.3 1.5-.2 1.5-.3 1.1-.4 1.4-.1 1 .6-.5 1-1.5 .4-1.5 .2-1.5 .3-1.3 .6-1.2 .4-.5 .2z"/><path d="M73 365.3l-1.5 .4-1.5 0-1.1-.4-1.4-1-.9-1 .9-1.3 1.5-.6 1.5-.4 1.2-.2 1.3-.1 1.5 .2 1.4 .9-.4 1.4-.8 1.1-1.2 .8-.5 .2z"/><path d="M65 386.4l1.5-.2 1.5-.2 1.5 .2 1.5 .1 1.5-.1 1.5-.2 1.5-.4 1-.6 1-.7 .9-1 .2-1.5-1.1-1-1.2-.5-1.3-.4-1.5-.3-1.5-.3-1.5-.1-1.5 .2-1.5 .2-1.2 .2-1.3 .1"/><path d="M603 74.8l-1 .4-1.5 .6-1.5 .5-1 .5-1 .6-1 .7-.9 .7-1.1 .9-1 .8-1 .7-1 .5-1 .6-1 .6-1 .5-1 .6-1 .5-1 .6-1 .7-1 1-.5 1-.2 1.5 .4 1.5 .3 1.1 1 1.3 1 .5 1.5 .3 1.5 .2 1.5 .6 1 .5 1 .5 1 .6 1.5 .6 1.3 .3 1.2 .2 1.5 .2 1.5 .6 1 1-.5 1.1-1 .7-1 .6-1 .6-1 .6-1 .5-1 .6-1 .5-1.5 .6-1.5 .3-1.5 .2-1.5 .1-1.1 .1-1.4 .2-1.5 .1-1.5 .1-1.5 0-1.5 0-1.5 .1-1.5-.1-1.5 0-1.5-.1-1.5 0-1.5 .1-1.5 .2-1.5 0-1.5 .1-1.5 0-1.5 0-1.5-.2-1.5-.4-1.4-.6-1.2 0-1 .5-.9 .8-1 1.2-.6 1-.6 1.5-.7 1.5-.5 1.5-.2 1.5 0 1.5 .1 1.4 0 1.6-.2 1.5-.3 1.5-.2 1.5 0 1.5 .1 1.5 .2 1.5 .1 1.5-.2 1.3-.9 1.2-1.1 .4-1.1-.4-.9-.7-.5-1.1-.1-1.2 0-1.5 .1-1.5 .1-1.5 .1-1.5 0-1.5-.1-1.5-.2-1.5-.2-1.5-.2-1.2-.4-1.3-.9-1-1.2 .1-1.5 .7-1 .6-1 .6-1 .5-1 .6-1.5 .6-1.5 .6-1 .5-1 .6-1 .8-1 .8-1 .8-.9 .7-1.1 .7-1 .6-.9 .7-1.1 .9-1 .9-.9 .7-1.1 .8-1 .6-1 .7-1 .7-1 .7-1 .5-1 .6-1 .5-1 .5-1 .5-1 .7-.9 .7-1.1 1-.9 1-1.1 .9-1 .6-1.5 .5-1.3 .5-1.1 .5-1.1 .6-1 .7-.9 .7-1.1 .9-1 .6-1 .5-1 .5-1.3 .5-1.1 .5-1.1 .8-1 1.2-.4 1-.6 1.5-1.5 .4-1.5 .2-1.5 .2-1.5 0-1.5-.1-1.5 .2-1.5 .2-1.4 .4-1.1 1-.7 1-.8 .8-1 1.2-.3 1.5 .5 1.5 .2 1.5-.1 1.5 .5 1.5 .5 1 .5 1 .5 1 .9 1 1.3 .6 1.5-.6 1-.6 1.5-.4 1.3 .5 .7 .9 .4 1.1 .2 1.5-.2 1.5-.4 1.2-.5 1.1-.4 1.2-.3 1.5 0 1.5-.1 1.5 .2 1.5 .6 1.5 .5 1.3 .2 1.2 .2 1.5 .2 1.5 0 1.5-.4 1.5-.4 1.5-.3 1.2-.2 1.3-.1 1.5-.2 1.4-.3 1.1-1.2 .4-1.5-.9-1-1-.8-1-.6-1-.4-1.5-.5-1.5-.6-1.5-.3-1.5-.3-1.1-.5-1.2-.3-1.2 0-1.5 .1-1.5 .2-1.4 .1-1.1-.7-1-.9-.9-.8-1.1-.3-1.5-.1-1.5-.2-1.5-.2-1.5 0-1.5 0-1.5-.4-1.5-.2-1.5 .3-1.5 .2-1.5-.8-.9-1.5-.5-1.5-.2-1.5-.1-1.5-.7-1-.6-1-.7-1-.5-1.5 .2-1 .7-1 1.3-1 1-1 .6-1 .5-1 .4-1 .8-.6 1.2-.5 1-.9 .8-1 .6-1 .7-1 .6-.9 .8-.9 1-.9 1-1.3 .8-1.5 .6-1 1.1-.6 1-.9 .9-1 .8-1 .7-1 1-1 .7-1.5 .5-1.5 .2-1.5 0-1.2 .2-1.3 .8-.8 .7-1.2 .9-1 .7-1 .8-.8 1.1-.6 1-.5 1-.8 1-1.3 .9-1 .6-1 .5-1.3 .5-1 1-.9 1-1.3 1-1 .7-1 .7-1 .5-1.5 .2-1.5 0-1.5-.3-1.5-.1-1.5 .2-1.5 .6-1 .5-1.5 .5-1.5 0-1.1-.5-.9-.9-.5-1.1 .4-1.5 1.1-.7 1.5-.5 1-.5 .8-.8 .7-1 1-.9 1-.5 1-.5 1-1.1 .4-1 .6-1.3 .6-1.2 .9-1 1-.8 1-.7 1-.7 1-.7 .9-1.1 .6-1.5 .4-1 1.1-.9 1.5 .1 1.5 .5 1.5 0 1.5-.4 1-.4 1-.7 .9-.7 1.1-.9 1-.6 1-.7 1-.5 1-.6 .9-.7 1.1-1 1-.5 1.4-.5 1.1-.9 1-1.1 0-1.5-1.5-.5-1.5-.1-1.5-.1-1.5-.8-1-.9-1-.7-1.5-.3-1.5-.3-1-.8 .3-1.5 .6-1 .4-1 .7-.9 1-.8 1.3-.3 1.2 0 1.5-.1 1.5-.2 1.5 0 1.5 .7 1 .7 1 .7 1 .7 1 .8 1 .5 1.5 .3 1.5 0 1.5 0 1.5 0 1.5-.4 1-.7 .6-1 .9-1 1.5-.1 1.5 .2 1.5-.1 1.5-.4 1-.5 .9-1.1 .5-1 .8-1 1.3-.9 1-1-.4-1.1-.5-1 .1-1.5 .7-1 1.1-.6 1.1 .6 .9 .7 1 .5 1.5 .3 1.5 .2 1.5 .1 1.5-.2 .6-1.1 .4-1.1 1-1.4 1-.7 1-.6 1.2-.2 1.1-.5 .5-1 .6-1.5 .9-1 1.1-1 .9-1 .9-1 .8-.9 1-.8 1-.6 1-.6 1-.7 1-.7 .9-.7 1.1-.8 1-.6 1-.6 1-.6 1-.6 1-.6 1-.7 1-.7 1-.5 1-.5 1-.5 1-.5 1-.5 1-.5 1-.4 1-.5 1-.5 1.5-.7 1-.5 1-.6 .9-.6 1.1-.9 1-.8 1-.6 1-.5 1-.5 1-1-.3-1.2-.1-1.5 .5-1 .9-.7 1-.6 1-.5 1-.5 1-.6 1-.5 1-.5 1-.5 1-.6 1-.5 1-.5 1-.5 1-.6 1-.5 1-.5 1-.4 1.1-.5 1-.5 1-.5 1-.5 1-.5 1-.5 1.4-.8 1-.6 1-.8 1-1.3 .2-1.5 0-1.5 .1-1.5 .1-1.5 .2-1.5 0-1.5 .1-1.5 .1-1.5 .2-1.3 .8-1.2 1.1-.5 1.6 .4 .8 1.1 .3 1.5 .1 1.5 0 1.5 0 1.5 0 1.5 .2 1.5 .5 1 1.1-.1 1.3-.4 1.2-.5 1-.4 1-.5 1-.5 1-.6 1-.6 1-.7 1-.7 1-.6 1-.6 1-.6 1-.5 1-.6 1-.5 1-.6 1-.6 1-.6 1-.6 1-.5 1-.7 1-.7 1-.7 1-.7 1-.7 1-.6 1-.7 1-.7 1-.7 1-.7 1-.6 1-.6 1-.5 1-.6 1-.5 1-.5 1-.5 1-.6 1-.7 .9-.7"/><path d="M380.5 139.2l-.7-.9-.3-1.3-.1-1.2 0-1.5 .4-1.5 1 1 .1 1.5 .1 1.5-.1 1.5-.4 .9z"/><path d="M438 148.3l-1.5 .4-1.5-.1-1-.5-1-.6-1.5-.6-1.5 0-1.5 .1-1.5 .2-1.5 .4-1.5 0-1.5-.6-1.5-.6-1.5-.4-1.1-.2-1.4-.5-1-.9-1.5 .3-1 .8-1 .5-1.5 0-1-.7-.5-1-.2-1.5-.1-1.5 .2-1.5 .3-1.5 .3-1.2 .5-1.3 .6-1 .9-.8 1.4-.2 1.1 .6 .9 1.4 .5 1.5 .4 1.5 .4 1.5 .8 .9 1.5-.1 1.5-.2 1.5-.1 1.5-.1 1.5-.1 1.5-.1 1.5 .2 1.5 .3 1.5 0 1.2-.2 1.3-.3 1.5-.4 1.5-.3 1.5-.1 1.2 .1 1.3 .2 1.5 .2 1.5 .2 1.5 0 1.5 0 1.5 .1 1.2 .3 1.3 1 .5 .9-1 1.1-1 .5-1 .6-1 .5-1 .5-1 .7-1 .8-1 .5-1.5 .2-1.5-.1-1.5 .2-.5 .1z"/><path d="M403.5 144.9l-1.5-.1-1-.6 .5-1.2 1.5-.5 1.5 .3 .4 1-.9 1-.5 .1z"/><path d="M380.5 185.1l-.7-1.3-.1-1.5-.2-1.2-.3-1.3 .8-1 .5 1 .3 1.5 .2 1.2-.1 1.3-.4 1.3z"/><path d="M380.5 221.4l-.6-1.1-.4-1.4-.5-1-.7-1.1-.8-1-1.5-.1-1.5 .5-1.5 .6-1 .4-1.5 .4-1.5 .3-1.5 .1-1.5 .2-1.5-.1 0-1.2 1-.8 1-.6 1-.5 1-.6 1-.5 1.5-.6 1-.4-1-.8-1.5-.2-1.5 0-1.5-.1-1.5 0-1.5 0-1.5 0-1.5 0-1.5 0-1.5 0-1.5 0-1.5 0-1.5 0-1.5 0-1.5 0-1.5 0-1.5 0-1.5 0-1.5 0-1.5 0-1.5 0-1.5 0-1.5 0-1.5 0-1.5 0-1.5 0-1.5 0-1.5 0-1.5 0-1.5 0-1.5 0-1.5 0-1.5 0-1.5 0-1.5 0-1.5 0-1.5 0-1.5 0-1.5 0-1.5 0-1.5 0-1.5 0-1.5 0-1.5 0-1.5 0-1.5 0-1.5 0-1.5 0-1.5 0-1.5 0-1.5 0-1.5 0-1.5 0-1.5 0-1.5 0-1.5 0-1.5 0-1.5 0-1.5 0-1.5 0-1.5 0-1.5 0-1.5 0-1.5 0-1.5 0-1.5 0-1.5 0-1.5 0-1.5 0-1.5 0-1.5 0-1.5 0-1.5 0-1.5 0-1.5 0-1.5 0-1.5 0-1.5 0-1.5 0-1.5 0-1.5 0-1.5 0-1.5 0-1.5 0-1.5 0-1.5 0-1.5 0-1.5-.1-1.5 0-1.5 0-1.5 0-1.5 .1-1.5 0-1.5 .1-1.5 .1-1.5-.1-1.5-.1-1.5 0-1.5 0-1.5 0-1.5 0-1.5 0-1.5 0-1.5 0-1.5 .1-1.5 0-1.5 0-1.5-.1-1.5 0-1.5 0-1.5 0-1.5 0-1.5 0-1.5 0-1.5 0-1.5 0-1.5 0-1.5-.1-1.5 0-1.5-.1-1.5 0-1.5-.1-1.5-.3-1.5-.1-1.5-.1-1.5-.1-1.5-.1-1.5 0-1.5-.1-1.5 0-1.5-.1-1.5-.1-1.5-.1-1.5-.1-1.5-.1-1.5-.1-1.5-.1-1.5 .1-1.5-.1-1.5-.4-1.5 0-1.5-.1-1.5-.1-1.5-.2-1.5-.1-1.5-.1-1.5-.2-1.5-.2-1.5-.3 1-.5 1.5-.2 1.5-.1 1.5-.2 1.5-.1 1.5-.2 1.5 0 1.5-.1 1.5-.1 1.5-.2 1.5-.3 1.5 0 1.3 0 1.2-.1 1.5-.1 1.5-.1 1.5-.1 1.5-.1 1.5 0 1.5-.1 1.5 0 1.5-.1 1.5 0 1.5-.1 1.5-.1 1.5-.1 1.5-.2 1.5-.2 1.5 0 1.5-.1 1.4 0 1.6-.1 1.5-.1 1.5-.1 1.5 0 1.5 0 1.5 0 1.5 0 1.5 0 1.5 0 1.5 0 1.5 0 1.5 0 1.5 0 1.5 0 1.5 0 1.5 .1 1.5-.1 1.5 .1 1.5 0 1.5 0 1.5 0 1.5 0 1.5-.1 1.5-.1 1.5 .1 1.5 0 1.5 0 1.5 .1 1.5 0 1.5 0 1.5 0 1.5 0 1.5 0 1.5 0 1.5 0 1.5 0 1.5 0 1.5 0 1.5 0 1.5-.1 1.5 0 1.5 0 1.5 0 1.5 0 1.5 .1 1.5 0 1.5 0 1.5-.1 1.5 0 1.5 0 1.5 0 1.5 0 1.5 0 1.5 0 1.5 0 1.5 0 1.5 0 1.5 0 1.5 0 1.5 0 1.5 0 1.5 0 1.5-.1 1.5 0 1.5 .1 1.5 0 1.5 0 1.5 0 1.5 0 1.5 0 1.5 0 1.5 0 1.5 0 1.5 0 1.5 0 1.5 0 1.5 0 1.5 0 1.5 0 1.5 .1 1.5 0 1.5 0 1.5 0 1.5 0 1.5 0 1.5 0 1.5-.1 1.5 .1 1.5 0 1.5 0 1.5 0 1.5 0 1.5 0 1.5 0 1.5 0 1.5 0 1.5 0 1.5 0 1.5 0 1.5-.1 1.5 0 1.5 0 1.5-.1 1.5 0 1.5 0 1.5 0 1.5 0 1.5 0 1.5 0 1.5 0 1.5 0 1.5 .1 1.5-.1 1.5 0 1.5-.1 1.1-.5-1.1-.5-1-.5-1-.8-.6-1.2 1.1-.9 1.3-.6 1.2-.3 1.5-.1 1.5 .1 1.5 .3 1.5 .3 1.5 .1 1.2 .1 1.1 0 1.2-.9 .8-1.1 .5-1.5-.1-1.5-.2-1.5 0-1.5 .4-1.5 .3 1.5 0 1.5-.1 1.5-.1 1.5 .3 1.5 .5 1 .4 1.5 .2 1.5 .3 1.5-.2 1.4-.3 1.1-.3 1.5 0 1.5 .3 1.5 .2 1.5-.1 1.5-.2 1.5-.1 1.5-.3 1.5 .1 1.5-.3 1.5-.5 .6z"/><path d="M361 200.4l-1.5 .3-1-.4 1-.7 1.5 .2 0 .6z"/><path d="M380.5 240.4l-.7-1.1-.3-1.5-.2-1.5 .1-1.5 .2-1.5-.2-1.5-.1-1.5-.2-1.5-.6-.9-.3-1.1 .3-1.2 .9-1.3 1.1-.3 .5 1.3 0 1.5-.3 1.5 .3 1.4 .5 1.1 .5 1 .3 1.5-.2 1.5-.2 1.5-.1 1.5-.2 1.5-.8 1-.3 .1z"/><path d="M336.5 235.9l-1.1-.1-.4-1.5 .5-1 1.1 .5 .2 1.5-.3 .6z"/><path d="M380 247.7l-.4-1.4 .3-1.5 .8 1-.2 1.4-.5 .5z"/><path d="M380 264.9l-.5-1.1 .4-1.5 .8 1-.2 1.4-.5 .2z"/><path d="M65 399l1-.5 1-.6 1-1 .7-1.1 .5-1 .3-1.3-.1-1.2-.2-1.5-.1-1.5 .9-.8 1.5-.5 1.5-.2 1.5-.1 1.5-.3 1.4-.6 1.1-.6 1-.7 1-.5 1.5-.6 1.5-.4 1-.5 .9-.7 .9-1 .2-1.2-1-.8-1.5-.5-1.5-.3-1.5-.1-1.4-.1-1.1-.2-1.5-.2-1.5-.4-1.4-.7-.9-1 .3-1.2 1-.8 1.5-.3 1.5-.1 1.5-.2 1.5-.1 1.5 0 1.5 0 1.5-.1 1.2-.2 1.3-.2 1.5 0 1.3 .2 1.2 .3 1.5 .1 1.5-.4 1.5-.3 1.5-.2 1.5 0 1.5-.4 1-.5 1.5-.5 1.5 .1 1.1-.2 1.4-1 1-.8 1-.9 .9-.8 1.1-.9 1-.8 1-.7 .9-.6 1.1-.7 1-.8 .9-1 1.1-1 1-.7 1-.6 .9-.7 1-1 .8-1 1.1-1 .9-1 .6-1 .3-1.5 .2-1.5 1.2-.9 1.3 .4 .7 1 .5 1.5 1 .4 1-.5 1-.8 1-.6 1-.6 1-.7 .8-.7 .8-1 .6-1 .5-1 .7-1.5 .6-1.5 .7-1 1.3-.7 1.5-.1 1.5-.2 1.5-.3 1.5-.5 1-.5 1-.5 1.5-.5 1.5-.2 1.5-.5 1.3-.5 1.2-.4 1.5-.6 1.3-.5 1.2-.5 1-.4 1.5-.5 1.5-.3 1.5-.2 1.5-.3 1.1-.3 1.4-.5 1.3-.5 1-.5 1.2-.7 1-.5 1.3-.3 1.2-.2 1.5-.1 1.5-.2 1.5-.5 1-.6 1-.9 1-.8 1-.6 1-.4 1-.6 1-.5 1-.5 1.5-.4 1.5-.3 1.3-.4 1-.5 1.2-.9 1-1 1-.8 1-.6 1-.5 1-.5 1.5-.6 1.5-.6 1.2-.5 1.3-.9 1-1.1 1-.9 1-.8 1-.8 1-.8 1-.6 1-.6 1-.5 1-.5 1-.6 1-.7 .9-.7 1.1-.8 1-.8 1-.8 1-.9 1-.9 1-.7 1-.6 1-.5 1-.5 1-.5 1-.5 1-.5 1-.6 1-.6 1-.7 1-.8 1-.7 1-.5 1.5-.6 1.5-.4 1.5-.6 1-.5 1-.7 1-.7 1-.6 1-.8 1-1 1-.8 1-.7 1-.6 1-.6 1-.6 1-.6 1-.6 1-.6 1-.5 1-.5 1-.5 1-.8 1-.7 1-.6 1.5-.3 1.2 .8-.2 1.1-1 1.4-1 .8-.9 .7-1 1-.8 1-.8 .8-.9 .7-1.1 .7-1 .5-1 .5-1 .5-1 .6-1 .6-1 .5-1.5 .6-1.2 .5-1.3 .8-.9 .7-1.1 .8-1 .9-.8 .8-1.1 1-1.1 .8-1 .6-1.3 .6-1.2 .4-1.5 .6-1.1 .5-1.4 .9-1 1-1 .9-1 .8-1 .8-.9 .6-1.1 .7-1 .7-1 .8-1 .8-1 .6-1.5 .6-1.5 .6-1 .5-1 .6-1 .7-1 .8-1 .7-1 .6-1 .6-1 .6-1 .7-1 .6-1 .7-1 .9-1 1-1 .9-1 .7-1 .6-1 .5-1.1 .5-1.3 .5-1.1 .5-1 .6-1 .8-1 1-1 1-1 .9-1 .9-1 .8-1 .8-.9 .7-1.1 .7-1 .6-1 .8-1 .8-1 .8-1 .8-1 .9-1 .8-1 .8-1 .8-.9 .7-1.1 .8-1 .9-.8 .8-1.1 1-1.1 1-1 .8-1 .8-1 .9-1 .9-1 1.1-.8 1-.7 .8-1 1.1-1 1.1-1 1-1 1-1 1-1 1-.9 1-1.1 1-1 .5-1 .5-1 .5-1.2 .5-1.1 .5-1.1 .5-1 .5-1.1 .5-1 .5-1 .5-1 .5-1.1 .5-1.4 .4-1.5 .2-1.5 .2-1.5 .1-1.2 .1-1.3 .2-1.5 .1-1.5 .2-1.5 .3-1.5 .3-1.5 .4-1.5 .5-1.5 .4-1.5 .6-1 .6-1 .7-1 .7-1 .7-1 .8-1 .7-1 .8-1 .8-.9 .7-1.1 .9-1 .8-1 .8-1 .8-1 .7-1 .7-1 .8-1 .8-.9 .7-1.1 .9-1 .8-1 .8-1 .8-1 .8-1 .8-1 .8-1 .8-1 .7-1 .6-1 .5-1 .6-1 .5-1 .7-1 .6-1 .7-1 .7-1 .7-1 .6-1 .6-1 .6-1 .6-1 .6-1 .6-1 .6-1 .7-1 .6-1 .6-1 .5-1 .6-1 .6-1 .7-1 .6-1 .7-1 .7-1 .6-1 .7-1 .6-.6 .3"/><path d="M603 73.3l-1 .7-1 .5-1.5 .6-1.5 .7-1 .5-1 .7-1 .7-1 .7-1 .8-.9 .6-1.1 .7-1 .7-1 .5-1 .6-1 .5-1 .5-1 .6-1 .5-1 .6-.9 .8-.8 1-.8 .9-1 1.1-1 .9-1 .7-1 .8-1 1-.8 1.1 1.3 .8 1.5 .4 1 .6 1 1 1 1.2 1 .8 1 .9 .5 1.1-.3 1.2-1.2 1-1.3 .5-1.2 .3-1.5 .3-1.5 .1-1.5 .2-1.5 .3-1.5 .2-1.5 .3-1.3 .3-1.2 .2-1.5 .2-1.4 .1-1.6 .1-1.5 0-1.5-.4-1-.6-1-.5-1.5 .2-1 .6-1 .7-1 .9-.9 1-.8 1-.5 1-.5 1.5-.5 1.5-.3 1.3-.1 1.2 .1 1.5 .1 1.5 0 1.5-.1 1.1-.3 1.4-.3 1.5 0 1.5 .1 1.1 .2 1.4 .1 1.5 .1 1.5-.5 1-1.4 .4-1-.6-.4-1.3 0-1.5 0-1.5 .2-1.5 .2-1.5 0-1.4-.2-1.6-.2-1.5-.1-1.1-.1-1.4-.2-1.5-.4-1.5-.6-1-1.2-.1-1.5 .6-1 .5-1 .5-1 .5-1 .6-1 .4-1.1 .5-1.4 .5-1.4 .5-1 .5-1.1 .7-1 .6-1 .4-1.5 .7-1 .5-1 .7-1 .8-1 .8-1 .8-1 .8-1 .8-1 .7-1 .9-.9 .8-1.1 .9-1 .6-1 .6-1 .6-1 .6-1 .6-1 .6-1 .7-1 .7-1 .8-1 .7-1.5 .6-1 .4-1 .6-1 .6-1 .6-1 .6-1 .5-.9 .7-1.1 .9-1 .6-1 .5-1.2 .5-1.1 .5-1.2 .7-1 .6-1 .5-1.5 .4-1.5 .2-1.5-.1-1-.5-1-.8-.6-1-.2-1.5 .2-1.5 .4-1.5 .7-1.5 .5-1.3 .5-1 .9-1.2 1-1 1.1-.8 1-.7 1-.6 1-.7 1-.6 1-.6 1.2-.5 1-.5 1.3-.8 1-.5 1-.6 1-.7 1-.6 1-.5 1-.5 1-.5 1-.5 1-.6 .9-.7 1.1-.7 1-.6 1.5-.5 1.5-.3 1.5-.4 .9-1 .7-1 .9-.9 1-.7 1-.6 1-.7 1-.8 .6-1.3-1.1-.8-.5-.9 .2-1.3 .8-.8 1-.6 1-.5 1-.6 1-.5 1-.5 1-.5 1-.6 1-.5 1-.5 1-.6 1-.5 1-.5 1-.5 1-.5 1.5-.7 1-.4 1-.5 1-.5 1-.6 1-.5 1-.5 1-.5 1-.6 1-.7 .9-.8 .7-1 .2-1.5 .1-1.5 0-1.5 .1-1.3 .1-1.2 .2-1.5 0-1.5 .1-1.5 .2-1.5 .8-1 1.1-.2 .9 .7 .4 1.5 .1 1.5 0 1.5 0 1.5 .1 1.5 0 1.2 .1 1.3 .9 .9 1.5-.4 1.2-.5 1.2-.5 1.1-.5 1-.5 1-.5 1-.5 1-.7 1-.6 1-.7 1-.6 1-.6 1-.6 1-.5 1-.5 1-.6 1-.6 1-.6 1-.5 1-.6 1-.5 1-.7 1-.6 1-.7 1-.7 1-.6 1-.6 1-.7 1-.7 1-.8 1-.6 1-.7 1-.6 1-.5 1-.6 1-.5 1-.5 1-.5 1-.6 1-.6 1-.8 .9-.7"/><path d="M380 136.5l-.1-1.2 .1 1.2z"/><path d="M413 141.4l-1.3-.6-.6-1-.2-1.5 .2-1.5 .5-1 .9-.8 1.3 .3 .7 1 .4 1 .1 1.5-.5 1.5-1 .9-.5 .2z"/><path d="M438 146.5l-1.5 .2-1.4-.4-1.1-.7-.8-.8-.5-1 .8-1.3 1-.7 1.5-.5 1.5-.2 1.5 .2 1.5 .5 1.3 .5 1.2 .8-.2 1.2-1.2 1-1.1 .4-1.5 .4-1 .4z"/><path d="M426 145.4l-1.5 .2-1.2-.3-1.3-.9-.3-1.1 1.3-.7 1.5-.5 1.5-.1 1.4 .3 1 1-.9 1.3-1 .5-.5 .3z"/><path d="M469 156.5l-1.3-.2-.1-1.5-.3-1.5-.6-1.5 .5-1 1.3-1 1-.7 1-.6 1.5-.1 1.4 .4 .8 1-.1 1.5-.6 1-1 1-.8 1-1.1 1-1.1 .9-.5 .3z"/><path d="M446.5 162.4l-1.5 0-.6-1.1 .6-1.2 1.5-.1 .9 .8-.4 1.1-.5 .5z"/><path d="M436 176.8l-1.5 .4-1.5-.3-1-.7-1-.8-1.3-.1-1.2 1-1.5 .3 .4-1.3 1.1-.8 1.4-.7 .8-1 1.2-1 1.1-.8 1-.9 1-.6 1.5-.5 1.1 .3 .9 .7 1 .6 .9 .7 .4 1.5-.5 1-1.3 1-1 .6-1 .7-1 .7z"/><path d="M481 172.6l-1.3-.8 .3-1.3 1-.8 1.3 .6-.3 1.2-1 1.1z"/><path d="M412 193.3l-1.5-.2-1.5-.7-1-1-.2-1.1 .2-1.4 .3-1.6 .2-1.5 .4-1.5 .5-1 .8-1 1.3-.9 1.5-.5 1.5-.3 1.1-.3 1.4-.8 1.5-.3 1.4 .6 1.1 0 1-.7 1-.6 .9-.7 1.1-.6 1.4 .1-.4 1.4-.7 1.1-.8 .9-1 1-1 .6-1.3-.5-.7-.9-1.3 .4-.9 1-.1 1.5-.2 1.4-.5 1.1-.6 1-.6 1-.6 1.5-.7 1.4-1 1.1-1 .7-1 .3z"/><path d="M482 188.3l-1-.7-1-.7-1-.7-.8-.9 0-1.5 .8-.8 1.5-.2 1.5 .2 .6 1.3-.1 1.5 .1 1.5-.5 1-.1 0z"/><path d="M380.5 217.9l-1.3-.6-.6-1-.6-1-1-.7-1.3 .2-1.2 .5-1.5 .5-1.5 .5-1.5 .2-1-.7 1-.9 1-.5 1.3-.6 1.2-.5 1.2-.5-1.2-.8-1.5-.2-1.5 0-1.5 0-1.5 0-1.5 0-1.5-.1-1.5 0-1.5 0-1.5 0-1.5 0-1.5 0-1.5 0-1.5 0-1.5 0-1.5 .1-1.5 0-1.5-.1-1.5 0-1.5 0-1.5 0-1.5 0-1.5 0-1.5 0-1.5 0-1.5 0-1.5 0-1.5 0-1.5 0-1.5 0-1.5 0-1.5 0-1.5 0-1.5 0-1.5 0-1.5 0-1.5 0-1.5 0-1.5 0-1.5 0-1.5 0-1.5 0-1.5 0-1.5 0-1.5 0-1.5 0-1.5 0-1.5 0-1.5 0-1.5 0-1.5 0-1.5 0-1.5 0-1.5 0-1.5 0-1.5 0-1.5 0-1.5 0-1.5 .1-1.5 0-1.5-.1-1.5 0-1.5 0-1.5 0-1.5 0-1.5 0-1.5 0-1.5 0-1.5 0-1.5 .1-1.5 0-1.5 0-1.5 0-1.5 0-1.5 0-1.5 0-1.5 0-1.5 0-1.5 0-1.5 0-1.5-.1-1.5 0-1.5 0-1.5 0-1.5 0-1.5 0-1.5 0-1.5 0-1.5 0-1.5 0-1.5 0-1.5 0-1.5 0-1.5 0-1.5 0-1.5 .1-1.5 .1-1.5-.1-1.5-.1-1.5 0-1.5 0-1.5 0-1.5 .1-1.5 0-1.5 0-1.5 0-1.5 0-1.5 0-1.5 0-1.5 0-1.5-.1-1.5 0-1.5 0-1.5 0-1.5 0-1.5 0-1.5 0-1.5 0-1.5 0-1.5-.1-1.5 0-1.5-.1-1.5-.1-1.5-.2-1.5-.2-1.5-.1-1.5-.1-1.5-.1-1.5 0-1.5-.1-1.5 0-1.5-.1-1.5-.1-1.5-.1-1.5-.1-1.5-.1-1.5-.1-1.5-.2-1.5 0-1.5 .1-1.5-.3-1.5-.3-1.5 0-1.5-.1-1.5-.2-1.5-.2-1.5-.2-1.4-.3 1-.5 1.4-.2 1.5-.2 1.3-.1 1.2-.1 1.5 0 1.5-.1 1.1-.3 1.4-.3 1.5 0 1.5 0 1.5-.2 1.5-.1 1.5-.1 1.5-.1 1.5-.1 1.5 0 1.5 0 1.5-.1 1.5 0 1.5-.1 1.5-.1 1.5-.1 1.5-.1 1.5-.2 1.5-.2 1.5 0 1.5-.1 1.5 0 1.5-.1 1.5-.1 1.5 0 1.5-.1 1.5 0 1.5 0 1.5 0 1.5 0 1.5 0 1.5 0 1.5 0 1.5 0 1.5 .1 1.5 0 1.5 0 1.5 0 1.5 0 1.5 0 1.5 0 1.5 0 1.5 .1 1.5-.1 1.5-.2 1.5 0 1.5 .2 1.5 0 1.5 0 1.5 0 1.5 .1 1.5 0 1.5 0 1.5 0 1.5 0 1.5 0 1.5 0 1.5 0 1.5 0 1.5 0 1.5-.1 1.5 0 1.5 0 1.5 0 1.5 0 1.5 0 1.5 0 1.5 0 1.5 0 1.5 0 1.5 0 1.5 0 1.5-.1 1.5 0 1.5 0 1.5 0 1.5 0 1.5 0 1.5 0 1.5 0 1.5 0 1.5 0 1.5 0 1.5-.1 1.5 0 1.5 0 1.5 .1 1.5 0 1.5 0 1.5 0 1.5 0 1.5 0 1.5 0 1.5 0 1.5 0 1.5 0 1.5 0 1.5 0 1.5 0 1.5 .1 1.5 0 1.5 0 1.5 .1 1.5 0 1.5 0 1.5 0 1.5-.1 1.5 0 1.5 0 1.5 0 1.5 0 1.5 0 1.5 0 1.5 0 1.5 0 1.5 0 1.5 0 1.5 0 1.5 0 1.5 0 1.5 0 1.5-.1 1.5 0 1.5 0 1.5-.1 1.5 .1 1.5 0 1.5-.1 1.5 0 1.5 0 1.5 0 1.5 .1 1.5 0 1.5 0 1.5 0 1.5-.1 1.5 0 1.5-.1 1.5 0 1.5-.1-1-.7-1.5-.5-1-.5-.8-1.3 .8-.9 1.5-.4 1.5 0 1.5 .2 1.5 .2 1.5 .1 1.5 0 1.5-.7 .8-1 1.2 .5 .3 1.5 .2 1.5 0 1.5-.3 1.5-.3 1.5 .1 1.5 .2 1.5 .3 1.5 0 1.5-.2 1.5-.1 1.5-.2 1.1-.5 1z"/><path d="M380 228.2l-1-.5-.3-1.4 .7-1 1.1 .4 0 1.1-.5 1.4z"/><path d="M380.5 239.3l-.5-1-.3-1.5 0-1.5 .2-1.5 .1-1.4-.1-1.1 .1-1.3 .7 .8 .5 1 .5 1.5 0 1.5-.1 1.5-.2 1.5-.4 1.4-.5 .1z"/><path d="M65 400.8l1.2-.5 1.3-.5 1-.6 1-.8 1-.9 1-.9 1-1.2 .3-1.6-.2-1.5 .4-1.3 .9-.7 1.1-.3 1.5-.4 1.5-.7 1-.6 1-.6 1-.6 1-.5 1.5-.5 1.5-.6 1-.4 1-.7 1-.8 1-.6 1-.6 1-.5 1-.5 1-.5 1-.7 .8-1.4 .2-1.5 1-.9 1.5-.4 1.5-.5 1-.5 1-.6 1-.7 1.5-.2 1.5 .3 1.5-.5 1-.9 1-1 1-.8 1-.8 1-.8 1-.8 1-.8 .9-.6 1.1-.8 .9-.7 .9-1 .8-1 .9-.9 1-.8 1-.6 1-.6 .9-1.1 .6-1 .7-1 .8-1 .7-1 .5-1.5 .2-1.5 .6-1.1 1.1 .6 .3 1.5 .6 1.5 .9 1 1.6 0 1-.7 1-.8 1-.6 1-.5 1-.6 1-1 .9-1.3 .7-1 .7-1 .9-1 .8-1 .7-1 .8-.8 1-.7 1-.5 1.3-.5 1.2-.5 1.2-.5 1.3-.5 1.5-.4 1.5-.3 1.5-.7 1.5-.5 1.5-.3 1.1-.3 1.2-.5 1.2-.6 1.5-.7 1.5-.4 1.5-.2 1.5-.1 1.5-.4 1.3-.6 1.1-.5 1.1-.5 1-.5 1-.5 1-.5 1.5-.4 1.5-.2 1.5-.1 1.5-.3 1.5-.5 1-.5 1-.9 1-1.1 1-.7 1-.6 1-.7 1-.6 1.5-.5 1.5-.3 1.5-.4 1.5-.7 1-.9 1-1.1 1-.9 1-.6 1-.5 1.2-.5 1.3-.5 1.5-.5 1.5-.5 1-.7 1-1.2 1-1 1-.9 .8-.7 1.2-.9 1-.7 1-.5 1-.4 1-.6 1-.6 1-.8 1-.8 1-.7 1-.8 1-.9 .9-.8 1.1-.9 1-.8 1-.5 1-.5 1.5-.6 1.5-.7 1-.5 1-.5 1-.7 .9-.8 1.1-.9 1-.7 1-.5 1.3-.4 1.2-.3 1.5-.4 1.5-.6 1-.6 1-.6 1-.6 .8-.9 .9-1 .8-.8 .9-.7 1.1-.6 1-.6 1-.6 1-.7 1-.7 1-.5 1.5-.6 1.5-.5 1-.5 1-.9 1-.6 1.1 .3-.6 1-1 .7-.9 .8-.7 1-.6 1-.8 .9-1 .9-1 .5-1.5 .7-1 .5-1 .5-1 .7-1 .5-1.5 .6-1.5 .4-1.5 .8-1 .7-.9 .8-1 1-.8 1-.8 .9-1 .8-1 .6-1 .5-1.5 .5-1.5 .5-1.5 .5-1 .7-1 1-.9 1-1.1 1-1 .8-1 .7-1 .6-1 .7-.9 .7-1.1 .9-1 .6-1 .5-1.5 .5-1.3 .5-1 .5-1.2 .8-1 .9-1 .7-1 .6-1 .6-1 .6-1 .6-1 .5-1 .6-1 .7-1 1.3-1 1.1-1 .8-1 .7-1 .6-1.5 .6-1.5 .5-1.5 .5-1 .6-1 1.1-.9 1.1-.9 1-1 1-1.1 1-1.1 .9-1 .8-1 .6-1 .6-1 .7-1 .8-1 .8-.9 .8-1.1 1-1 .8-1 .9-1 .7-1 .8-1 .8-1 .9-1 .9-1 1-1 .9-1 .8-1 .8-1 .8-.9 .9-.9 1-.8 1-.8 1-.9 1-1 1-1 1-1 1-.9 1-1.1 1-1 1-1 1-1.2 .7-1 .5-1 .5-1.5 .7-1.4 .6-1.1 .5-1 .5-1 .5-1 .5-1 .5-1 .5-1.2 .5-1.3 .2-1.5 .2-1.2 .1-1.3 .1-1.5 .1-1.5 .2-1.5 .2-1.5 .2-1.1 .2-1.4 .4-1.5 .4-1.5 .5-1.5 .4-1.5 .6-1 .6-1 .7-1 .7-1 .7-1 .7-1 .7-1 .8-1 .7-1 .9-.9 .7-1.1 .9-1 .8-1 .8-1 .7-1 .7-1 .7-1 .8-1 .8-1 .8-1 .8-.9 .7-1.1 .9-1 .9-.9 .7-1.1 .9-1 .8-1 .6-1 .6-1 .6-1 .5-1 .5-1 .6-1 .7-1 .7-1 .7-1 .7-.9 .6-1.1 .6-1 .6-1 .6-1 .6-1 .6-1 .6-1 .7-1 .6-1 .6-1 .6-1 .6-1 .6-1 .6-1 .7-1 .7-1 .6-1 .7-1 .6-1 .7-1 .5-.1 .1"/><path d="M603 72.2l-1 .7-1 .7-1 .5-1.5 .6-1 .5-1 .6-1 .6-1 .7-1 .7-1 .7-1 .7-.9 .6-1.1 .7-1 .6-1 .6-1 .5-1 .5-1 .5-1 .4-1 .6-1 .8-1 1.1-1 1.1-1 .9-1 .7-1 .6-1 .6-1 .7-1 .7-1 .7-1 .6-1 .6-1 .6-1 .7-1 .6-1 .7-.8 .9-.2 1.4 1 .8 1 .7 .8 1.1-.3 1.2-1 .7-1.5 .6-1.5 .4-1.5 .2-1.3-.1-1-.5-1.2-.7-1.5 .2-1 .4-1 .7-1 .8-1 .8-.9 .8-1 1-.8 1-.5 1-.5 1.5-.5 1.5-.3 1.1-.2 1.4 .1 1.5 .2 1.5-.1 1.5-.5 1.1-.8-1.1-.3-1.5-.1-1.5-.2-1.5-.3-1.5-.7-1.5-1.1-.2-1.5 .6-1 .5-1 .4-1 .5-1 .5-1 .5-1.5 .6-1.5 .5-1.5 .5-1.5 .5-1 .5-1 .6-1.5 .5-1.5 .5-1 .5-1 .5-1 .7-1 .7-1 .6-1.3 .5-1.2 .5-1 .6-.7 .9-.7 1-.7 1-.9 1-1 .8-1 .6-1 .7-1 .6-1 .6-1 .5-1 .6-1 .5-1.4 .6-1.1 .4-1 .6-1 .6-1 .8-1 .9-1 .7-1 .5-1 .5-1 .7-1 .7-1 .7-1 .7-1 .6-1 .5-1 .6-1 .5-1.4 .5-1.6 .1-1.5-.5-.8-1.1-.3-1.5 .4-1.5 .7-1.5 .4-1.5 .6-1.2 1-1.2 1-.7 1-.7 1-.6 1-.7 1-.6 1.5-.6 1.4-.7 1.1-.6 1.5-.6 1.1-.3 1.2-.5 1.2-1 1-.9 .9-.6 1.1-.6 1-.6 1-.8 1-.8 1-.6 1.5-.4 1.5 .1 1.5 .1 1.5-.9 .7-1 .6-1 .7-1 .8-1 1.1-1 1.1-1 1-.8 1-.7 1-.8 1-.8 1-.9 1-1-1.5 0-1.3 .5-1.2 .5-1.3 .5-1.2-.1-.6-.9 .6-1.3 1-.6 1-.6 1-.5 1-.6 1-.5 1-.5 1-.5 1-.6 1-.5 1-.5 1-.5 1-.6 1-.5 1-.5 1.5-.6 1.2-.6 1-.5 1.3-.7 1-.5 1-.5 1-.5 1-.6 1-.6 1-.7 .9-.9 .7-1 .5-1.5 0-1.5 0-1.5 .2-1.5 .3-1.5 .1-1.5 .1-1.5 .2-1.2 1.2 .2 .2 1.5 0 1.5 .1 1.5 .1 1.5 .1 1.5 .2 1.5 1.1 .6 1.5-.4 1.5-.7 1.2-.5 1.2-.5 1.1-.5 1-.5 1-.6 1-.6 1-.6 1-.7 1-.6 1-.6 1-.6 1-.5 1-.5 1-.6 1-.6 1-.6 1-.5 1-.6 1-.5 1-.6 1-.6 1-.6 1-.7 1-.6 1-.6 .9-.6 1.1-.8 1-.7 1-.7 1-.7 1-.6 1-.5 1-.6 1-.5 1-.5 1-.5 1-.6 1-.6 1-.7 1-.7 1-.8"/><path d="M548.5 130.4l-.7-1.1 .2-1.3 .6 1.3-.1 1.1z"/><path d="M412 190.9l-1.4-.1-.8-1-.1-1.5 0-1.5 .2-1.5 .6-1.3 1-.9 1.5-.3 1 .5 .8 1 .2 1.5-.3 1.5-.7 1.5-.7 1-.8 .9-.5 .2z"/><path d="M380 217l-1-1.2-.5-1.3-.6-1.2-.4-1.1-1.5-.3-1.5-.1-1.5 0-1.5-.1-1.5 0-1.5 0-1.5 0-1.5 0-1.5 0-1.5 0-1.5-.1-1.5 0-1.5 0-1.5 0-1.5 .1-1.5 0-1.5 0-1.5 0-1.5 0-1.5 0-1.5 0-1.5 0-1.5-.1-1.5 0-1.5 0-1.5 0-1.5 0-1.5 0-1.5 0-1.5 0-1.5 0-1.5 0-1.5 0-1.5 0-1.5 .1-1.5 0-1.5 0-1.5 0-1.5-.1-1.5 0-1.5 0-1.5 0-1.5 0-1.5 0-1.5 0-1.5 .1-1.5 0-1.5 0-1.5 0-1.5 0-1.5 0-1.5 0-1.5 0-1.5 0-1.5 0-1.5 0-1.5 0-1.5 0-1.5 0-1.5 0-1.5 0-1.5 0-1.5 0-1.5-.1-1.5 0-1.5 0-1.5 0-1.5 0-1.5 0-1.5 .1-1.5 0-1.5 0-1.5 0-1.5 0-1.5 0-1.5 0-1.5 0-1.5 0-1.5 0-1.5 0-1.5 0-1.5 0-1.5 0-1.5 0-1.5 0-1.5 0-1.5 0-1.5-.1-1.5 0-1.5 0-1.5 0-1.5 0-1.5 0-1.5 0-1.5 0-1.5 .1-1.5 0-1.5 .1-1.5 0-1.5-.1-1.5 0-1.5 0-1.5 0-1.5 0-1.5 0-1.5 0-1.5 0-1.5 0-1.5 0-1.5 0-1.5 0-1.5 0-1.5-.1-1.5 0-1.5 0-1.5 0-1.5 0-1.5 0-1.5 0-1.5 0-1.5-.1-1.5 0-1.5-.1-1.5-.1-1.5-.1-1.5-.2-1.3-.2-1.2-.1-1.5 0-1.5-.1-1.5-.1-1.5 0-1.5-.1-1.5-.1-1.5-.1-1.5-.1-1.5-.1-1.5-.2-1.5-.1-1.5-.1-1.5 0-1.5 .1-1.5-.4-1.5-.4-1.5 0-1.1-.1-1.4-.2-1.1-.3 1-.5 1.6-.2 1.5 0 1.5-.2 1.5-.5 1.5-.2 1.5 .1 1.5-.2 1.5-.1 1.5-.1 1.5-.1 1.5-.1 1.5-.1 1.5-.1 1.5 0 1.5 0 1.5-.1 1.5 0 1.5-.1 1.5-.2 1.5-.1 1.4-.2 1.1-.1 1.5-.1 1.5-.1 1.5-.1 1.5 0 1.5-.1 1.5 0 1.5 0 1.5 0 1.5 0 1.5 0 1.5 0 1.5 0 1.5 0 1.5 0 1.5 0 1.5 0 1.5 0 1.5 0 1.5 0 1.5 0 1.5 0 1.5 0 1.5 0 1.5 0 1.5 0 1.5-.2 1.5 .1 1.5 .1 1.5 0 1.5 0 1.5 0 1.5 0 1.5 0 1.5 0 1.5 0 1.5 0 1.5 0 1.5 0 1.5 0 1.5 0 1.5 0 1.5 0 1.5 0 1.5 0 1.5 0 1.5 0 1.5 0 1.5 0 1.5 0 1.5 0 1.5 0 1.5 0 1.5 0 1.5 0 1.5 0 1.5 0 1.5 0 1.5 0 1.5 0 1.5 0 1.5 0 1.5 0 1.5-.1 1.5 0 1.5 0 1.5 0 1.5 0 1.5 0 1.5 0 1.5 0 1.5 .1 1.5 0 1.5 0 1.5 0 1.5 0 1.5-.1 1.5 0 1.5 .1 1.5 0 1.3 0 1.2 0 1.5 0 1.5 0 1.5 0 1.5 0 1.5 .1 1.5-.1 1.5 0 1.5 0 1.5 0 1.5 0 1.5 0 1.5 0 1.5 0 1.5 0 1.5 0 1.5 0 1.5 0 1.5 0 1.5 0 1.5 0 1.5 0 1.5 0 1.5 0 1.5-.1 1.5 0 1.5 0 1.5 0 1.5 0 1.5 0 1.5 0 1.5 0 1.5 0 1.5 .1 1.5 0 1.5 0 1.5 0 1.5-.1 1.5 0 1.5-.1 1.5 0 1.5 0 1.5-.1 1.5-.2-1-.9-1-.5-1-.6 1-.7 1.5-.2 1.5 0 1.5 0 1-1.1 1-.6 .1 1.1 .2 1.5 .1 1.5-.4 1.2-.2 1.3 .4 1.5 0 1.5 .2 1.5 .2 1.5-.3 1.5-.1 1.5-.2 1.4-.5 .3z"/><path d="M380.5 236.9l-.3-1.1 .3-1.3 .6 1.3-.5 1-.1 .1z"/><path d="M250 291.9l-1.5 0 .7-1.1 1.3-.7 1-.4 1-.8 1-.9 1-.7 1-.5 1.5 0 0 1.1-.8 .9-1.2 .7-1.5 .5-1.5 .5-1 .7-1 .7z"/><path d="M236.5 300.8l-1.5 .3-1.2-.3 .7-1.4 1-1 1-.7 1.5-.6 1.5-.3 1.5 .5-.5 1.2-.8 .8-1.2 .8-1.5 .6-.5 .1z"/><path d="M218.5 311.8l-1.5 .3 .5-1.1 1-1 1-1 .9-.7 1.1-.8 1-.9 .8-.8 1.1-1 1.1-.8 1-.5 1.5-.6 1.5-.3 1.4 .2-.4 1.2-.9 1.3-1 1-1.1 .8-1 .6-1 .7-1 .6-.9 .8-1.1 .8-1 .5-1.5 .4-1.3 .3-.2 0z"/><path d="M211 316.4l-.2-1.1 .9-1 1.2-1 1.1-.6 1.4-.4 1.3 0-.9 1-.8 .9-1 .8-1 .5-1.5 .7-.5 .2z"/><path d="M199 324.8l-1.5-.4 .2-1.1 .8-1 1-.8 1-.5 1.5-.6 1.5-.5 1.5-.1 .6 1-.6 1-1 1-1 .7-1 .5-1.5 .6-1.2 .2-.3 0z"/><path d="M189 333.3l-1.5-.2-.9-.8-1.1-.5 .5-1.3 .8-1.2 1.2-1 1-.8 1-.6 1.5-.5 1.5-.2 1.5 0 .3 1.1-.5 1-.8 .9-1 1.1-.9 1-1 1-1.1 .8-.5 .2z"/><path d="M65 403l1-.6 1.5-.3 1-.5 1-.8 1-.9 1-.8 1-.7 1-.5 1-.6 .9-1 .4-1.5 .4-1.5 .8-1 1-.7 1-.6 1-.6 1-.7 1-.6 1-.6 1-.5 1.5-.4 1.5-.5 1-.8 1-1 1-.8 1-.7 1-.5 1-.4 1.5-.4 1.5-.4 1.1-.3 .9-.7 .8-.8 1.1-1 1.1-.8 1-.9 1-.8 1-.4 1.5-.3 1.5-.7 1-.9 .9-1.2 1-1 1.1-.9 1-.8 1-.8 1-.8 1-.8 1-.8 1-.8 .9-.8 .8-1 .8-.9 1-1 1-.6 1-.7 .9-1.3 .5-1 .6-1 .6-1 .8-1 .7-1 1.4-.1 .9 1.1 .9 1 1.2 .8 1.3-.3 1.1-1 1.1-1 1-.6 1-.6 1-.6 1-1.1 .8-1.1 .7-.9 1-.9 1-.8 1-.9 .7-1 .7-1 .9-1 1.2-.9 1-.5 1.3-.6 1.2-.4 1.5-.3 1.1-.3 1.2-.5 1.1-.5 1.1-.4 1.5-.3 1.5-.2 1.5-.6 1-.6 1-.6 1.5-.5 1.5-.2 1.5 0 1.5-.3 1-.5 1-.6 1-.5 1-.5 1-.5 1-.4 1.5-.6 1.2-.2 1.3-.1 1.5-.1 1.5-.3 1.5-.3 1.1 .3-1 1-.8 1 .8 1 0 1.5-.9 1-1 1-1.2 1-1 .7-1 .8-1 .9-1 1-1 1-1 .9-.9 .7-1.1 .9-1 .8-.9 .8-.9 1-.7 .9-.8 1.1-.9 1-.8 .9-1 1-1 1-1 1-1 .9-1 1-1 .9-1 .8-1 .5-1 .6-1 .4-1.1 .5-1.1 .5-1.1 .5-1 .5-1.1 .5-1.1 .6-1 .6-1 .5-1.5 .6-1.5 .1-1.5 .2-1.5 .1-1.5 .1-1.5 .1-1.5 .2-1.5 .2-1.5 .3-1.4 .4-1.1 .3-1.5 .6-1.5 .5-1.5 .4-1 .6-1 .6-1 .6-1 .7-1 .7-1 .7-1 .8-1 .7-1 .8-1 .8-.9 .7-1.1 .9-1 .8-1 .7-1 .7-1 .5-1 .6-.9 .8-1.1 .9-1 .8-.9 .8-1.1 .9-1 .9-1 .9-1 .8-1 .8-.9 .7-1.1 .6-1 .6-1.5 .6-1.5 .6-1 .5-.9 .6-1.1 1-1 .9-1 .7-1 .6-1 .5-1.5 .7-1.5 .5-1 .8-.8 .8-1.2 1-1 .6-1 .6-1 .5-1 .5-1 .8-1 .7-1 .7-1 .7-1 .7-1 .7-1 .6-1 .6-1 .6-.5 .2"/><path d="M85.3 396.3l.5-1-.1-1.5-1.2-.4-.7 1.4 .2 1.3 1 .5 .3-.3z"/><path d="M603 71.2l-1 .7-1 .7-1 .6-1 .5-1 .5-1 .5-1 .5-1 .7-1 .7-1 .6-1 .7-1 .6-1 .7-1 .7-1 .6-1 .6-1 .5-1 .5-1.5 .6-1.3 .6-1.2 .9-1 1.1-.8 1-1.2 1-1 .7-1 .6-1 .6-1 .6-1 .7-1 .6-1 .6-1 .6-1 .5-1 .6-1 .5-1 .5-1 .8-1 1-1 1.1-.9 1-.8 1-.8 .9-.9 .6-1.1 .6-1 .5-1 .6-1 .7-1 .8-1 .8-1 .9-1 .9-1 1-.9 1.2-.6 1-.9 1-1.1-.1-1.5 0-1.5 .6-1 .5-1 .5-1.1 .5-1.1 .5-1.2 .5-1.1 .4-1.5 .5-1.5 .4-1.5 .4-1.5 .6-1.5 .6-1.5 .3-1.5 .5-1 .4-1 .6-1 .7-1 .5-1.5 .5-1.5-.2-1-.7-.2-1.5 .7-1.3 1-1.1 1-.7 1-.8 1-1 1-.9 1-1 1-.9 1-.7 1-.7 1-.7 1-.6 1-.8 1-.8 .7-1-1.2-.6-1.4 .6-1.1 .6-1 .5-1 .5-1 .5-1 .5-1 .5-1 .4-1.1 .5-1.3 .5-1.1 .3 0-1.2 1-.7 1-.6 1-.6 1-.5 1-.5 1-.5 1-.5 1-.6 1-.5 1-.5 1-.5 1-.6 1-.5 1-.5 1.2-.5 1.2-.5 1-.5 1.1-.6 1-.6 1-.5 1-.6 1-.5 1-.6 1-.7 1-.9 1-1 .7-1 .8-.9 1.5 .3 1.5-.3 1.4-.6 1.1-.5 1.2-.5 1.1-.5 1.2-.5 1-.4 1-.6 1-.6 1-.7 1-.6 1-.7 1-.6 1-.5 1-.6 1-.5 1-.6 1-.6 1-.5 1-.6 1-.5 1-.6 1-.5 1-.6 1-.6 .9-.6 1.1-.7 1-.6 1-.6 1-.6 1-.8 1-.7 1-.7 1-.6 1-.6 1-.5 1-.5 1-.5 1-.6 1-.5 1-.5 1-.6 1-.8 1-.7 1-.8 .1-.1"/><path d="M490 141.4l-1.5 .1-1-.5-.4-1.2 .4-1.3 .5-1.1 .4-1.1 .6-1 .9-1 1.1-.8 1-.6 1-.7 1-.6 1.5-.6 1.5-.5 1.5-.2 1.5 .2 1.5 .1 1.2-.3 1-.5 .5-1 .5-1.5 .7-1.5 1.1-1 1-.8 .9-.7 1.1-.8 1.5-.3 1.5 .3 1.5 .8 .6 1-.4 1.5-.8 1-.9 .7-1 .8-1 .6-1 .5-1.1 .4-1.4 .3-1.5 .1-1.4 .1-1.1 .8-1 1-.9 1.2-.7 1-.9 1-1 .6-1 .6-1 .6-1 .6-1 .8-1 .7-1 .8-1 .7-1 .5-.5 .2z"/><path d="M378.5 211.6l-1.5 .1-1.5 0-1.5 0-1.5 0-1.5-.1-1.5 0-1.5 0-1.5 0-1.5 0-1.5 0-1.5-.1-1.5 0-1.5 0-1.5 0-1.5 0-1.5 .1-1.5 0-1.5 0-1.5 0-1.5 0-1.5 0-1.5 0-1.5-.1-1.5 0-1.5 0-1.5 0-1.5 0-1.5 0-1.5 0-1.5 0-1.5 0-1.5 0-1.5 0-1.5 0-1.5 0-1.5 .1-1.5 0-1.5 0-1.5-.1-1.5 0-1.5 0-1.5 0-1.5 0-1.5 0-1.5 0-1.5 0-1.5 .1-1.5 0-1.5 0-1.5 0-1.5 0-1.5 0-1.5 0-1.5 0-1.5 0-1.5 0-1.5 0-1.5 0-1.5 0-1.5 0-1.5 0-1.5 0-1.5 0-1.5 0-1.5-.1-1.5 0-1.5 0-1.5 0-1.5 0-1.5 0-1.5 .1-1.5 0-1.5 0-1.5 0-1.5 0-1.5 0-1.5 0-1.5 0-1.5 0-1.5 0-1.5 0-1.5 0-1.5 0-1.5 0-1.5 0-1.5 0-1.5 0-1.5-.1-1.5 0-1.5 0-1.5 0-1.5 0-1.5-.1-1.5 0-1.5 .1-1.5 0-1.5 .1-1.5 0-1.5 .1-1.5 0-1.5-.1-1.5 0-1.5 0-1.5 0-1.5 0-1.5 0-1.5 0-1.5 0-1.5 0-1.5 0-1.5 0-1.5 0-1.5-.1-1.5 0-1.5 0-1.5 0-1.5 0-1.5 0-1.5-.1-1.5 0-1.5 0-1.5 0-1.5-.1-1.5-.1-1.5 0-1.5-.2-1.1-.2-1.4-.1-1.5-.1-1.5-.1-1.5-.1-1.5-.1-1.5-.1-1.5 0-1.5-.1-1.5-.1-1.5-.2-1.5-.1-1.5-.1-1.5-.2-1.5-.1-1.5 .1-1.5-.1-1.2-.5 .2-1.3 1.5-.5 1.5 0 1.5 0 1.5-.2 1.5-.1 1.5-.2 1.5-.1 1.5-.1 1.5 0 1.5-.1 1.5 0 1.5-.1 1.5 0 1.5-.2 1.5 0 1.5-.2 1.5-.3 1.5-.1 1.5 0 1.5-.1 1.5-.1 1.5-.1 1.5-.1 1.5 0 1.5 0 1.5 0 1.5 0 1.5 0 1.5 0 1.5 0 1.5 0 1.5 0 1.5 0 1.5 0 1.5 0 1.5 0 1.5 0 1.5 0 1.5 0 1.5 0 1.5 0 1.5 0 1.5 0 1.5-.1 1.2 0 1.3 0 1.5 .1 1.5 0 1.5 0 1.5 0 1.5 0 1.5 0 1.5 0 1.5 0 1.5 0 1.5 0 1.5 0 1.5 0 1.5 0 1.5 0 1.5 0 1.5 0 1.5 0 1.5 0 1.5 0 1.5 0 1.5 0 1.5 0 1.5 0 1.5 0 1.5 0 1.5 0 1.5 0 1.5 0 1.5 0 1.5 0 1.5 0 1.5 0 1.5-.1 1.5 0 1.5 0 1.5 0 1.5 0 1.5 0 1.5 0 1.5 0 1.5 0 1.5 0 1.5 0 1.5 0 1.5 0 1.5 0 1.5 0 1.5 0 1.5 0 1.5 0 1.5 0 1.5 0 1.5 .1 1.5 0 1.5 0 1.5 0 1.5 0 1.5 0 1.5 0 1.5 0 1.5 0 1.5 0 1.5 0 1.5 0 1.5 0 1.5 0 1.5 0 1.5 0 1.5 0 1.5 0 1.5 0 1.5 0 1.5 0 1.5 0 1.5 0 1.5-.1 1.5 0 1.5 0 1.5 0 1.5 0 1.5 0 1.5 0 1.5 0 1.5 0 1.5 0 1.5 .1 1.5 0 1.5 0 1.5 0 1.5-.1 1.5 0 1.5 0 1.5 0 1.5 0 1.5 0 1.3 0 1.2-.1 1.5 .3 1 .8 .7 1 .3 1.5-.2 1.5-.8 1.4-1 .4z"/><path d="M380 213.1l-.3-1.3 .3 1.3z"/><path d="M224 307.8l0-1.2 1-1.2 1-.7 1.5-.5 .9 .6-.6 1-1.3 1-1 .5-1.4 .5-.1 0z"/><path d="M201.5 323.3l-1.5 .3 0-1.3 1-.6 1.4-.4 .6 1-1 .8-.5 .2z"/><path d="M190.5 329.8l-1.5 .3 .4-1.3 1.1-.7 1.5 .2-.8 1-.7 .5z"/><path d="M113 379.8l-1.5 .1-1.3-.6-1.2-.8-.1-1.2 .6-1.4 .6-1.1 .8-1 1-1 1.1-.9 1-.9 1-.9 .9-.8 1.1-1 1-.8 .9-.7 1-1 1.1-1 1-.9 .9-1.1 .6-1 .5-1 .5-1.2 .7-1.3 .8-1 1-.9 1.2 .4 .8 .9 .9 1.1 1 1 1.1 .3 1.5-.7 1-1 1-.9 1-.7 1-.5 1-.8 1-1.1 .8-1.1 1-1 1.1-1 1-1 1-1 .9-1 .9-1 .8-.8 1-.8 1-.6 1.5-.7 1.5-.4 1.5-.5 1.5-.6 1.5-.6 1.5-.3 1.5-.3 1.3-.4 1.1-.5 1-.5 1.1-.4 1.5-.3 1.5-.1 1.4-.2 1.1-.4 1-.5 1-.6 1-.5 1.5-.5 1.5-.4 1.5-.2 1.5-.1-.3 1.2-1.2 1-1 .8-.8 .7-.7 .9 .2 1.1 .1 1.5-.3 1.1-.7 .9-1.3 .8-1.5 .6-1 .7-.8 .9-.5 1-.4 1.5-.6 1-.7 .9-1 1.1-1 1-1 .9-1 .9-.9 .7-1.1 .6-1 .5-1 .8-1 .9-1 .9-1 .5-1.5 .7-1.4 .6-1.1 .6-1 .5-1 .5-1 .7-1 .6-1 .5-1.5 .4-1.4 .2-1.6 .1-1.5 0-1.5-.1-1.5 0-1.5 .2-1.5 .4-1.5 .6-1.5 .6-1.5 .6-1.5 .6-1.5 .4-1 .5-1 .6-1 .5-1 .6-1 .7-1 .6-1 .7-1 .6-1 .7-1 .6-1 .7-.9 .8-1.1 1-1 .7-.5 .3z"/><path d="M95 391.8l-1.5 .3-1.5 .1-1.1-.4-.5-1.5-.2-1.5 .3-1.3 .5-1 1-1.1 1-.6 1.5-.5 1.5-.3 1.5-.3 1.5-.4 1.4-.5 1.1-.6 .8-.9 .7-.9 1-.8 1.5-.5 1.1 .2 .6 1-.2 1.3-.5 .9-.8 .8-1.2 .8-.9 1.2-.5 1-.6 1-.9 1-1.1 1-1 .8-1 .6-1.5 .6-1.5 .4-.5 .1z"/><path d="M72 405.4l-1.5-.1 .3-1.5 .6-1.5 .8-1 1.3-.7 1.5-.3 1.5 .5 .2 1.5-.6 1-1 1-1.1 .6-1.5 .4-.5 .1z"/><path d="M68.5 408.4l-1.5 .2-1-.8 .5-1.5 1-.8 1.5 0 1.5-.2-.3 1.5-.7 1-1 .6z"/><path d="M603 70.3l-1 .6-1 .8-1 .6-1 .5-1 .5-1 .5-1 .6-1 .6-1 .7-1 .6-1 .7-1 .6-1 .7-1 .7-1 .6-1 .6-1 .5-1 .5-1.5 .6-1.4 .5-1 .5-1.1 1-.7 1-.8 .9-1 .9-1 .6-1 .6-1 .6-1 .6-1 .7-1 .6-1 .5-1.1 .5-1.1 .5-1 .5-1.3 .7-1 .7-1 1-1 1.1-.9 1-.9 1-.9 1-.8 .8-1 .9-1 .7-1 .7-1 .7-1 .8-1 .8-1 .9-.9 .7-1.1 1-1 1-1 1-1 .6-1.4 .4-1.1 .4-1 .6-1 .5-1 .5-1.2 .5-1.3 .5-1 .4-1.5 .5-1.5 .4-1.3 .2-1.2 .2-1.2 .3-1.3 .3-1.5 .2-1.5-.1-1-.6-.3-1.3 .8-1.5 .8-1 1.1-1 1.1-.8 1-.7 1-.8 1-1 .9-1.2 .8-1 .8-.8 .9-.7 1.1-.9 1-1.1 .5-1 .9-1 1.1-.7 1-.6 1-.6 1-.7 1-.7 1-1 1-1 .9-.7 1.1-.3 1.2-.2 1.3-.5 1-.5 1.2-.5 1.2-.5 1.1-.5 1.5-.5 1.3-.5 1.2-.6 1-.8 1-.8 1-.7 1-.6 1-.6 1-.5 1-.6 1-.6 1-.6 1-.6 1-.5 1-.6 1-.5 1-.5 1-.6 1-.6 1-.6 1-.6 1-.6 1-.6 1-.6 1-.7 1-.8 1-.7 1-.6 1-.6 1-.5 1-.6 1-.5 1-.5 1-.5 1-.5 1-.5 1-.7 1-.7 1-.8 1-.7 .4-.3"/><path d="M378 211.4l-1.5 .2-1.5-.1-1.5 0-1.5 0-1.5 0-1.5 0-1.5 0-1.5 0-1.5 0-1.5-.1-1.5 0-1.5-.1-1.5 0-1.5 .1-1.5 0-1.5 0-1.5 .1-1.5 0-1.5 0-1.5 0-1.5-.1-1.5 0-1.5 0-1.5 0-1.5-.1-1.5 0-1.5 0-1.5 .1-1.5 0-1.5-.1-1.5 0-1.5 0-1.5 0-1.5 .1-1.5 0-1.5 0-1.5 0-1.5 0-1.5 0-1.5 0-1.5-.1-1.5 0-1.5 0-1.5 0-1.5 .1-1.5 0-1.5 0-1.5 0-1.5 .1-1.5 0-1.5 0-1.5 0-1.5 0-1.5 0-1.5 0-1.5 0-1.5 0-1.5 0-1.5 0-1.5 0-1.5 0-1.5 0-1.5 0-1.5-.1-1.5-.1-1.5 0-1.5 0-1.5 0-1.5 .1-1.5 0-1.5 0-1.5 .1-1.5 0-1.5 0-1.5 0-1.5 0-1.5 0-1.5 0-1.5 0-1.5 0-1.5 0-1.5 0-1.5 0-1.5-.1-1.5 0-1.5 0-1.5 0-1.5 0-1.5-.1-1.5 0-1.5 0-1.5 0-1.5 0-1.5 0-1.3 0-1.2 .1-1.5 0-1.5 .1-1.5 .2-1.5-.2-1.5 0-1.5-.1-1.5 0-1.5 0-1.5 0-1.5 0-1.5 0-1.5 .1-1.5 0-1.5 0-1.5 0-1.5 0-1.5-.1-1.5-.1-1.5 0-1.5 0-1.5 0-1.5 0-1.5 0-1.5 0-1.5 0-1.5-.1-1.5 0-1.5-.1-1.5-.1-1.5-.2-1.5-.2-1.5-.2-1.5-.1-1.5-.1-1.5-.1-1.5 0-1.5-.1-1.5-.1-1.4-.1-1.1-.1-1.5-.1-1.5-.2-1.5-.1-1.5-.2-1.5-.2-1.5 .1-1.5-.1-.6-1.1 1.1-.5 1.5 .1 1.5-.1 1.5-.2 1.5-.1 1.5-.2 1.5-.2 1.5-.1 1.5 0 1.5-.1 1.5 0 1.5 0 1.5-.1 1.5-.2 1.5-.1 1.5-.1 1.5-.3 1.5-.1 1.5-.1 1.5 0 1.3-.1 1.2-.1 1.5-.1 1.5-.1 1.5 0 1.5 0 1.5 0 1.5 0 1.5 0 1.5 0 1.5-.1 1.5 0 1.5 0 1.5 .1 1.5 0 1.5 0 1.5 0 1.5 0 1.5 0 1.5 0 1.5 0 1.5 0 1.5 0 1.5-.1 1.5-.1 1.5 .1 1.5 0 1.5 0 1.5 .1 1.5 0 1.5 0 1.5 0 1.5 0 1.5 0 1.5 0 1.5 0 1.5 0 1.5 0 1.5 0 1.5 0 1.5-.1 1.5 0 1.5 0 1.5 0 1.5 0 1.5 .1 1.5 0 1.5-.1 1.5 0 1.5 0 1.5 0 1.5 0 1.5 0 1.5 0 1.5 0 1.5 0 1.5 0 1.5 0 1.5 0 1.5 0 1.5 0 1.5 0 1.5 0 1.5 0 1.5 0 1.5 0 1.5 0 1.5 0 1.5 0 1.5 0 1.5 0 1.5 0 1.5 0 1.5 0 1.5 0 1.5 0 1.5 0 1.5 0 1.5 0 1.5 0 1.5 .1 1.5 0 1.5 0 1.5 0 1.5 0 1.5 0 1.5 0 1.5-.1 1.5 .1 1.5 0 1.5 0 1.5 0 1.5 0 1.5 0 1.5 0 1.5 0 1.5 0 1.5 0 1.5 0 1.5 0 1.5-.1 1.5 0 1.5 0 1.5 0 1.5 0 1.5 0 1.5 0 1.5 0 1.5 0 1.5 0 1.5 0 1.5 0 1.5 .1 1.5 0 1.5-.1 1.5 0 1.5 0 1.5 0 1.5 0 1.5 0 1.5 0 1.5 0 1.5 0 1.5 .7 1 1.2 .4 1.5-.4 1.4-.8 1.1-1 .5-.2 .1z"/><path d="M150 361.4l-1.5 .1-1-.6-.9-1.1-1.1-.6-1.5-.8-1-1-.5-1 0-1.1 .5-1.3 .5-1 .8-1.2 .9-1 .8-.8 1-.9 1-.8 1-.9 1-.7 1-.7 1-.5 1.5-.5 1.5-.5 1.5-.4 1.5-.5 1.1-.3 1.4-.3 1.5-.4 1.3-.3 1.2-.2 1.5-.2 1.5-.3 1.5-.2 1.5-.3 .1 1.2-1 1-1.1 1-.8 1-.5 1-.5 1.5-.4 1.5 0 1.5-.1 1.5-.8 1-1.4 .8-1 .6-1 .6-1 .4-1 .5-1 .6-1 .8-.8 .7-1.1 1-1.1 .7-1.2 .3-1.3 .2-1.5 .5-1 .4z"/><path d="M120 372.8l-1.5 .3-1.5 0-.5-1.3 .5-1 .8-1 1.2-1 1-.7 1-.7 1-.8 .9-1.3 .6-1.5 .5-1.4 .4-1.1 .6-1.3 .7-1.2 .8-1 1.5 0 1 1 .7 1 .7 1 .9 1 1 .5 1.2-.1 1.4-.4 1.1-.6 1-.6 1-.5 1.5-.5 1.1 .2 .9 .8 .1 1.2-.6 1.2-1 .5-1 .5-1.5 .6-1.5 .5-1.4 .7-1.1 .6-1 .7-1 1-1 .7-1 .5-1.3 .5-1.2 .4-1 .5-1 .5-1.3 .6-1.2 .4-1.5 .4-1 .2z"/><path d="M96 390.3l-1.5 0-1-.6-.5-1.2 .3-1.2 .9-1 1.3-.7 1.5-.4 1.5-.2 1.3 .3 .7 1-.5 1.5-.9 1-1.1 .8-1.5 .6-.5 .1z"/><path d="M603 69.2l-1 .6-1 .7-1 .7-1 .6-1 .5-1 .6-1 .5-1 .6-1 .7-.9 .6-1.1 .7-1 .6-1 .6-1 .7-1 .6-1 .6-1 .5-1 .5-1.5 .6-1.5 .5-1.5 .4-1 .6-.7 1.1-.6 1-.7 .9-1 .8-1 .6-1 .6-1 .6-1 .6-1 .5-1 .5-1.2 .4-1.3 .2-1.5 .5-1 .6-1 1-.9 1.2-.6 1-.7 1-.8 1-.9 1-.8 1-.8 .8-1 1-.9 .7-1.1 .8-1 .8-1 .8-1 .9-.9 .7-1.1 .9-1 .9-1 .9-1 .8-1 .5-1.2 .5-1 .5-1.3 .7-1 .5-1.5 .7-1.5 .5-1.5 .5-1.5 .3-1.5 .3-1.5 .1-1.5 0-1.5-.3-.6-1.3 .6-1.3 1-1.1 1-1.1 .8-1 .7-1 .7-1 .8-.9 1-.9 .9-.7 1.1-.9 1-1 1-1.1 1-.9 1-.8 1-.7 .9-.6 1.1-.9 1-1 1-.9 1-.5 1.5-.3 1.1-.4 1-.5 1-.5 1.3-.5 1.1-.3 1.5-.4 1.5-.1 1.5-.1 1.1-.1 1.4-.5 1-.5 1-.6 1-.8 .6-1.1 .3-1.5 1.1-1 1-.7 1-.6 1-.7 1-.6 1-.5 1-.5 1-.5 1-.6 1-.5 1-.7 .9-.6 1.1-.7 1-.6 1-.6 1-.7 1-.8 .9-.6 1.1-.7 1-.6 1-.5 1-.6 1-.5 1-.5 1-.5 1-.4 1-.6 1-.6 1-.6 1-.7 .9-.7 1.1-.8 .3-.2"/><path d="M377.5 211.3l-1.5 .1-1.5-.1-1.5 0-1.5 0-1.5 0-1.5 0-1.5 0-1.5 0-1.5 0-1.5 0-1.5 0-1.5 0-1.5 0-1.5 0-1.5 0-1.5 0-1.5 0-1.5 0-1.5 0-1.5 0-1.5 0-1.5 0-1.5 0-1.5 0-1.5 0-1.5-.1-1.5 .1-1.5 0-1.5 0-1.5 0-1.5-.1-1.5 0-1.5 .1-1.5 0-1.5 0-1.5 0-1.5 0-1.5 0-1.5 0-1.5 0-1.5 0-1.5 0-1.5 0-1.5 0-1.5 0-1.5 0-1.5 0-1.5 0-1.5 0-1.5 0-1.5 0-1.5 0-1.5 0-1.5 0-1.5 0-1.5 0-1.5 0-1.5 0-1.5 0-1.4 0-1.6 0-1.5 0-1.5 0-1.5 0-1.5 0-1.5-.1-1.5 0-1.5 .1-1.5 0-1.5 0-1.5 0-1.5 0-1.5 0-1.5 0-1.5 0-1.5 .1-1.5 0-1.5-.1-1.5 0-1.5 0-1.5 0-1.5 0-1.5 0-1.5 0-1.5 0-1.5 0-1.5 0-1.5 0-1.5 0-1.5-.1-1.5 0-1.5 0-1.5 0-1.5 0-1.5 .1-1.5 0-1.5 0-1.5 .2-1.5 0-1.3-.2-1.2 0-1.5 0-1.5 0-1.5 0-1.5 0-1.5 0-1.5 0-1.5 0-1.1 0-1.4 0-1.5 0-1.5 0-1.5 0-1.5-.1-1.5 0-1.5 0-1.5 0-1.5 0-1.5 0-1.5 0-1.5 0-1.5-.1-1.5 0-1.5-.2-1.3-.1-1.2-.1-1.5-.2-1.5-.2-1.5-.1-1.5-.1-1.5-.2-1.5 0-1.5-.1-1.5-.1-1.5-.1-1.5-.1-1.4-.2-1.6-.2-1.5-.2-1.5-.3-1.1-.3 1.1-.6 1.5-.3 1.5-.2 1.5-.2 1.5-.2 1.5 0 1.5-.1 1.5 0 1.5-.1 1.5-.1 1.5-.1 1.4-.1 1.1-.1 1.5-.2 1.2-.2 1.3-.2 1.5 0 1.5-.1 1.5-.1 1.5-.1 1.5-.1 1.5 0 1.5-.1 1.5 0 1.5 0 1.5 0 1.5 0 1.5 0 1.5 0 1.5 0 1.5 0 1.5 0 1.5 0 1.5 0 1.5 0 1.5 0 1.5 0 1.5 0 1.5 0 1.5 0 1.5 0 1.5-.2 1.5 0 1.5 .1 1.5 0 1.5 .1 1.5 0 1.5 0 1.5 0 1.5 0 1.5 0 1.5 0 1.5 0 1.5 0 1.5 0 1.5 0 1.5 0 1.5 0 1.5-.1 1.5 0 1.5 0 1.5 0 1.5 .1 1.5 0 1.5 0 1.5 0 1.5-.1 1.5 0 1.5 0 1.5 0 1.5 0 1.5 0 1.5 0 1.5 0 1.5 0 1.5 0 1.5 0 1.5 0 1.5 0 1.5 0 1.5-.1 1.5 0 1.5 0 1.5 .1 1.5 0 1.5 0 1.5 0 1.5 0 1.5 0 1.5 0 1.5 0 1.5 0 1.5 0 1.5 0 1.5 0 1.5 0 1.5 0 1.5 .1 1.5 0 1.5 0 1.5 .1 1.5 0 1.5-.1 1.5 0 1.5 0 1.5 0 1.5 0 1.5 0 1.5 0 1.5 0 1.5 0 1.5 0 1.5 0 1.5 0 1.5 0 1.5 0 1.5 0 1.5 0 1.5-.1 1.5 0 1.5 0 1.5-.1 1.5 .1 1.5 0 1.5 0 1.5 0 1.5 0 1.5 0 1.5 0 1.5 0 1.5 .1 1.5 0 1.5 0 1.5-.1 1.5 0 1.5 0 1.5 0 1.5 .1 1.5-.1 1.5 0 1.5 .2 1 .6 .8 1 .4 1.5-.4 1.5-.8 .9-1 .5-.5 .1z"/><path d="M154 357.4l-1.5 .1-1.2-.2-1.3-.1-1.5 0-1.5-.2-1-1.1-.4-1.1 .1-1.5 .6-1 .9-1 1.3-.9 1-.7 1-.8 1-.9 .9-.7 1.1-.4 1.5-.4 1.5-.2 1.5-.3 1.5-.5 1.5-.3 1.5 0 1.5 .6-.5 1-1 1-.8 1-.6 1-.6 1-1 .5-1.5 .3-.6 1.2 .1 1.5-.6 1-.9 .9-1 .8-1 .4z"/><path d="M126 370.4l-1.5 .2-.8-.8-.3-1.5 .2-1.5 .3-1.5 .3-1.5 .5-1.5 .5-1.5 .6-1 .7-.9 1.3-.1 1 1 .7 1 .6 1 .5 1 .4 1.1 .3 1.4-.3 1.5-.5 1.3-1 .9-1 .5-1.2 .3-1.1 .5-.2 .1z"/><path d="M603 67.8l-1 .5-1 .6-1 .8-1 .7-1 .6-1 .6-1 .5-1 .6-1 .7-1 .7-1 .6-1 .7-1 .6-1 .5-1 .6-1 .5-1 .5-1.5 .5-1.5 .4-1.5 .1-1.4-.3 .4-1 1-.8 1-.7 1-.9 1-.8 1-.7 .9-.6 1.1-.6 1-.5 1-.5 1-.5 1-.5 1.5-.7 1-.5 1-.6 1-.6 1-.6 1-.6 1-.5 1-.8 .6-.5"/><path d="M574 85.4l-1.5-.1 1-1 1.5-.2-.9 1.2-.1 .1z"/><path d="M538.5 111.9l-1.5 .2-1.5 .1-1.5-.2-1-.5-.2-1.2 .7-1.5 .5-1 .5-1 .6-1 .9-1 1-1 1-.8 1-.9 .8-.8 1.1-1 1.1-1 1-.7 1-.7 1-.7 1-.8 1-.8 1-.7 1.5-.5 1.5-.5 1-.5 1-.5 1.5-.5 1.5-.4 1.2-.2 1.3-.1 1.5 0 1.5 .5 .4 1.1-.4 1.3-.7 1.2-.7 1-.8 1-.8 .9-1 1-1 .9-.9 .7-1.1 .9-1 .8-.9 .8-1.1 .9-1 .9-.9 .7-1.1 .9-1 .7-1 .5-1 .5-1 .5-1 .6-1 .5-1.5 .6-1.5 .5-1 .3z"/><path d="M231 211.3l-1.5 .1-1.5-.2-1.5 0-1.5 0-1.5 0-1.5 0-1.5 0-1.5 0-1.5 0-1.5 0-1.5 0-1.5 0-1.5 0-1.5 0-1.5-.1-1.5 0-1.5 0-1.5 0-1.5 0-1.5 0-1.5-.1-1.5 0-1.5 0-1.5-.1-1.5-.1-1.5-.1-1.5-.1-1.5-.2-1.5-.3-1.5-.1-1.5-.1-1.5-.2-1.5-.1-1.5-.1-1.5-.1-1.5-.1-1.5-.1-1.5-.2-1.5-.3-1.1-.4 1.1-.7 1.4-.3 1.6-.2 1.5-.1 1.5 0 1.5-.1 1.5 0 1.2-.1 1.3-.2 1.5-.1 1.5-.1 1.5-.3 1.5-.2 1.5-.1 1.5-.1 1.5-.1 1.5-.1 1.5-.1 1.5-.1 1.5 0 1.5 0 1.5 0 1.5 0 1.5 0 1.5 0 1.5-.1 1.5 0 1.5 0 1.5 0 1.5 .1 1.1 0 1.4 0 1.5 0 1.5 0 1.4 0 1.1 0 1.5 0 1.5 0 1.5 0 1.5-.3 1.5 0 1.5 .2 1.5 0 1.5 0 1.5 .1 1.5 0 1.5 0 1.5 0 1.5 0 1.5 0 1.5 0 1.5 0 1.3 0 1.2 0 1.5 0 1.5-.1 1.5 0 1.5 0 1.5 0 1.5 0 1.5 0 1.5 0 1.5 0 1.5 0 1.5 0 1.5 0 1.5 0 1.5 0 1.5 0 1.5 0 1.5 0 1.5 0 1.5 0 1.5 0 1.5-.1 1.5 0 1.5 0 1.5 0 1.5 0 1.5-.1 1.5 0 1.5 .1 1.5 0 1.5 0 1.5 0 1.5 0 1.5 0 1.5 0 1.5 0 1.5 0 1.5 0 1.5 0 1.5 0 1.5 0 1.5 .1 1.5 0 1.5 0 1.5 .1 1.5 0 1.5 0 1.5 0 1.5 0 1.5-.1 1.5 0 1.5 0 1.5 0 1.5 .1 1.5 0 1.5-.1 1.5 0 1.5 0 1.5 0 1.5 0 1.5 .1 1.5 0 1.5-.1 1.5 0 1.5-.1 1.5 0 1.5 0 1.5 0 1.5 0 1.5 0 1.5 0 1.5 0 1.5 0 1.5 0 1.5 .1 1.5 0 1.5 .1 1.5-.1 1.5 0 1.5 0 1.5 0 1.5 0 1.5 0 1.5 0 1.5 0 1.5 .1 1.3 .5 .9 1 .3 1.5-.4 1.5-1.1 1-1 .4-1.5 0-1.5 0-1.5 0-1.5 0-1.5 0-1.5 0-1.5 0-1.5 0-1.5 0-1.5 0-1.5 0-1.5 0-1.5 0-1.5 0-1.5 0-1.5 0-1.5 0-1.5 0-1.5 0-1.5 0-1.5 0-1.5 0-1.5 0-1.5 0-1.5 0-1.5 0-1.5 0-1.5 0-1.5 0-1.5 0-1.5 0-1.5 0-1.5 0-1.5 0-1.5 0-1.5 0-1.5 0-1.5 0-1.5 0-1.5 0-1.5 0-1.5 0-1.5 0-1.5 0-1.5 0-1.5 0-1.5 0-1.5 0-1.5 0-1.5 0-1.5 0-1.5 0-1.5 0-1.5 0-1.5 0-1.5 0-1.5 0-1.5 0-1.5 0-1.5 0-1.5 0-1.5 0-1.5 0-1.5 0-1.5 0-1.5 0-1.5 0-1.5 0-1.5 0-1.5 0-1.5 0-1.5 0-1.5 .1-1.5 0-1.5 0-1.5 0-1.5 0-1.5 0-1.5 0-1.5 0-1.5 0-1.5-.1-1.5 0-1.5 0-1.5 0-1.5 0-1.5 0-1.5 0-1.5 0-1.5 0-1.5 0-1.5-.1-1.5 0-1.5 0-1.5 .1-1.5 0-1.5 0-1 .1z"/><path d="M126.5 369.8l-1.5-.5-.5-1.5 0-1.5 .2-1.5 .3-1.5 .5-1.5 .5-1 1-1 1.3 .5 .7 1 .5 1 .5 1.4 .2 1.1 0 1.5-.4 1.5-.7 1-1.1 .5-1.4 .5-.1 0z"/><path d="M588 74.9l-1.4-.1 .9-.8 1-.7 1-.5 1-.5 1.5-.4-.5 1.2-1 .7-1 .5-1.1 .5-.4 .1z"/><path d="M540 110.9l-1.5 .3-1.5 0-1.5-.3-.9-1.1 .2-1.5 .6-1.5 .6-1 .8-1 1-1 1.2-1 1-1 1-.9 1-.9 .9-.7 1.1-.8 1-.6 1-.7 1-.7 1-.6 1.5-.6 1.4-.5 1.1-.5 1-.5 1.5-.4 1.5-.4 1.4-.2 1.6 .1 1 .8 0 1.1-.5 1.3-.7 1.2-.8 1-.9 1-1.1 1-1 .8-1 .8-1 .9-1 .9-1 .8-.9 .8-1.1 .9-1 .7-1 .6-1 .6-1 .5-1 .5-1 .6-1 .4-1.5 .6-.5 .2z"/><path d="M378 211l-1.5 .2-1.5 0-1.5 0-1.5 0-1.5 0-1.5 0-1.5 0-1.5 0-1.5-.1-1.5 0-1.5 0-1.5 0-1.5 0-1.5 0-1.5 0-1.5 0-1.5 .1-1.5 0-1.5 0-1.5 0-1.5-.1-1.5 0-1.5 0-1.5 0-1.5 0-1.5 0-1.5 0-1.5 0-1.5 0-1.5 0-1.5-.1-1.5 0-1.5 .1-1.5 0-1.5 0-1.5 0-1.5 0-1.5 0-1.5 0-1.5 0-1.5 0-1.5 0-1.5 0-1.5 0-1.5 0-1.5 0-1.5 0-1.5 0-1.5 .1-1.5 0-1.5 0-1.5-.1-1.5 .1-1.5 0-1.5 0-1.5 0-1.5 0-1.5 0-1.5 0-1.5 0-1.5 0-1.5 0-1.5 0-1.5-.1-1.5 0-1.5-.1-1.5 0-1.5 .1-1.5 0-1.5 0-1.5 0-1.5 .1-1.5 0-1.5 0-1.5 0-1.5 0-1.5 0-1.5 0-1.5 0-1.5 0-1.5 0-1.5 0-1.5 0-1.5-.1-1.5 0-1.5 0-1.5 0-1.5 0-1.5 0-1.5 0-1.5-.1-1.5 0-1.5 0-1.5 0-1.5 0-1.5 .1-1.5 0-1.5 .1-1.5 .1-1.5-.1-1.5-.1-1.5 0-1.5 0-1.5 0-1.5 0-1.5 0-1.5 0-1.5 0-1.5 0-1.5 0-1.5 0-1.5 0-1.5-.1-1.5-.1-1.5 0-1.5 0-1.5 0-1.5 0-1.5 0-1.5-.1-1.5 0-1.5 0-1.5-.1-1.5-.2-1.5-.1-1.5-.2-1.5-.3-1.5-.2-1.5-.1-1.5-.2-1.5-.1-1.5-.1-1.5-.2-1.5-.1-1.5-.2-1.4-.4 1.4-.7 1.5-.1 1.5-.1 1.5-.1 1.5-.1 1.5-.1 1.5-.2 1.5-.2 1.5-.2 1.1-.2 1.4-.2 1.5-.1 1.5-.1 1.2-.1 1.3-.1 1.5-.1 1.5-.1 1.5-.1 1.5 0 1.5 0 1.5 0 1.5 0 1.5 0 1.5 0 1.5 0 1.5-.1 1.5 .1 1.5 0 1.5 0 1.5 0 1.5 0 1.5 0 1.5 0 1.5 0 1.5 0 1.5 0 1.5-.1 1.5-.2 1.5 .2 1.5 0 1.5 0 1.5 0 1.5 .1 1.5 0 1.5 0 1.5 0 1.5 0 1.5 0 1.5 0 1.5 0 1.5 0 1.5 0 1.5 0 1.5-.1 1.5 0 1.5 0 1.5 0 1.5 0 1.5 0 1.5 0 1.5 0 1.5 0 1.5 0 1.5 0 1.5 0 1.5 0 1.5 0 1.5 0 1.5 0 1.5 0 1.5 0 1.5 0 1.5 0 1.5 0 1.5 0 1.5-.1 1.5 0 1.5 0 1.5 0 1.5 0 1.5 .1 1.5 0 1.5 0 1.5 0 1.5 0 1.2 0 1.3 0 1.5 0 1.5 0 1.5 0 1.5 0 1.5 0 1.5 0 1.5 0 1.5 .1 1.5 0 1.5 0 1.5 0 1.5 0 1.5-.1 1.5 0 1.5 0 1.5 0 1.5 .1 1.5 0 1.5-.1 1.5 0 1.5 0 1.5 0 1.5 0 1.5 0 1.5 .1 1.5 0 1.5-.1 1.5 0 1.2 0 1.3-.1 1.5 0 1.5 0 1.5 0 1.5 .1 1.5 0 1.5 0 1.5 0 1.5 0 1.5 0 1.5 0 1.5 .1 1.5-.1 1.5 0 1.5 0 1.5 0 1.5 0 1.5 0 1.5 .1 1.5-.1 1.5 .1 1.5 .8 .8 1.1 .1 1.5-.9 1.5-1 .7z"/><path d="M128 368.9l-1.5 .4-.9-1-.4-1.5 0-1.5 .3-1.5 .5-1.5 .7-1 1.3 0 .7 1 .6 1.5 .2 1.4 0 1.1-.4 1.5-.9 1-.2 .1z"/><path d="M538.5 110.3l-1.5-.3-.8-.7-.2-1.5 .5-1.4 .7-1.1 .8-.8 1-1 1-.9 1-1 .9-.8 1.1-.9 1-.8 1-.6 1-.7 1-.6 1-.6 1.5-.6 1.5-.5 1.5-.6 1.5-.5 1.5-.3 1.5 0 1.2 .7 0 1.5-.7 1.5-.8 1-1.1 1-1.1 .9-1 .9-1 .9-.9 .8-1.1 1-1 .8-1 .8-1 .7-1 .6-1 .5-1 .5-1 .6-1 .5-1.2 .5-1.3 .4-1.5 .1z"/><path d="M377.5 211l-1.5 0-1.5 0-1.5 0-1.5 0-1.5 0-1.5 0-1.5 0-1.5 0-1.5 0-1.5 0-1.5 0-1.5-.1-1.5 0-1.5 .1-1.5 0-1.5 0-1.5 0-1.5 .1-1.5 0-1.5-.1-1.5 0-1.5 0-1.5 0-1.5-.1-1.5 0-1.5 0-1.5 0-1.5 0-1.5 0-1.5 0-1.5 0-1.5 0-1.5 0-1.5 .1-1.5 0-1.5 0-1.5 0-1.5 0-1.5-.1-1.5 0-1.5 0-1.5 0-1.5 0-1.5 0-1.5 .1-1.5 0-1.5 0-1.5 0-1.5 0-1.5 0-1.5 0-1.5 0-1.5 0-1.5 0-1.5 0-1.5 0-1.5 0-1.5 .1-1.5 0-1.5 0-1.5 0-1.5 0-1.5-.1-1.5 0-1.5-.1-1.5 0-1.5 0-1.5 0-1.5 0-1.5 .1-1.5 0-1.5 0-1.5 .1-1.5 0-1.5 0-1.5 0-1.5 0-1.5 0-1.5 0-1.5 0-1.5 0-1.5 0-1.5-.1-1.5 0-1.5 0-1.5 0-1.5 0-1.5-.1-1.5 0-1.5 0-1.5 0-1.5-.1-1.3 0-1.2 0-1.5 .1-1.5 .1-1.5 0-1.5 .2-1.5 0-1.5-.2-1.5 0-1.5 0-1.5 0-1.5 0-1.5 0-1.5 0-1.5-.1-1.5 .1-1.5 0-1.5 0-1.5 0-1.5-.1-1.5-.1-1.5 0-1.5 0-1.5 0-1.5 0-1.5-.1-1.5 0-1.5 0-1.5 0-1.5-.1-1.5-.1-1.5-.2-1.5-.1-1.5-.2-1.5-.4-1.5-.2-1.5-.2-1.5-.2-1.1-.2-1.4-.3-1.2-.2 1.2-.3 1.5-.3 1.5-.3 1.5-.3 1.5-.1 1.1-.2 1.4-.4 1.5-.2 1.5-.1 1.5-.1 1.5-.1 1.5-.1 1.5-.1 1.5-.1 1.5 0 1.5 0 1.5 0 1.5 0 1.5-.1 1.5 0 1.5 0 1.5-.1 1.5 0 1.5 .1 1.5 0 1.5 0 1.5 0 1.5 0 1.5 0 1.5 0 1.5 0 1.5 0 1.5-.1 1.5-.1 1.5 0 1.5 .1 1.5 0 1.5 0 1.5 .1 1.5 0 1.5 0 1.5 0 1.5 0 1.5 0 1.5-.1 1.5 0 1.5 .1 1.5 0 1.5-.1 1.5 0 1.5 0 1.5 0 1.5 0 1.5 0 1.5 0 1.5 0 1.5 0 1.5 0 1.5 0 1.5 0 1.5 0 1.5 0 1.5 0 1.5 0 1.5 0 1.5 0 1.5 0 1.5 0 1.5 0 1.5 0 1.5 0 1.5-.1 1.5 0 1.5 0 1.5 0 1.5 0 1.5 .1 1.5 0 1.5 0 1.5 0 1.5 0 1.5 0 1.5 0 1.5 0 1.5 0 1.5 0 1.5 0 1.5 0 1.5 0 1.5 0 1.5 0 1.5 .1 1.5 0 1.5 0 1.5 0 1.5-.1 1.5 0 1.5 0 1.5 0 1.5 0 1.5 0 1.5 0 1.5 0 1.5 0 1.5 0 1.5 0 1.5 0 1.5 0 1.5 0 1.5 0 1.5 0 1.5 0 1.5-.1 1.5 0 1.5 0 1.5 .1 1.5 0 1.5 0 1.5 0 1.5 0 1.5 0 1.5 0 1.5 0 1.5 0 1.5 0 1.5 0 1.5 0 1.5 0 1.5 0 1.5 0 1.5 0 1.5 0 1.5 .2 .9 .7 .7 1 .1 1.5-.7 1.3-1 .7-.5 .2z"/><path d="M128 367.9l-1.5 0-.5-1.1 0-1.5 .3-1.5 .6-1 1.1 .2 .6 1.3 .1 1.5-.2 1.2-.5 .9z"/><path d="M540 109.3l-1.2 0-1.1-.5-.4-1 .2-1.2 .7-1.3 .8-.9 1-1 1-1 1-.9 1-.9 1-.8 1-.7 1-.6 1-.7 1-.5 1.3-.5 1.2-.4 1.5-.4 1.5-.4 1.5-.2 1.4 .4 .1 1.5-.6 1-.9 1-1 .9-1 .9-1 1.1-1 .9-1 .9-1 .8-1 .8-1 .6-1 .5-1 .6-1 .5-1 .5-1.1 .5-1.4 .5-.5 0z"/><path d="M377 210.8l-1.5 0-1.5 .1-1.5 0-1.5 0-1.5 0-1.5 0-1.5 0-1.5 0-1.5-.1-1.3 0-1.2 0-1.5 0-1.5 0-1.5 0-1.5 0-1.5 0-1.5 .1-1.5 0-1.5 0-1.5 0-1.5-.1-1.5 0-1.5 0-1.5 0-1.5 0-1.5 0-1.5 0-1.5 0-1.5 0-1.5 0-1.5-.1-1.5 0-1.5 .1-1.5 0-1.5 0-1.5 0-1.5 0-1.5 0-1.5 0-1.5 0-1.5 0-1.5 0-1.5 0-1.5 0-1.5 0-1.5 0-1.5 0-1.5 .1-1.5 0-1.5 0-1.5 0-1.5 0-1.5 0-1.5 0-1.5 0-1.5 0-1.5 0-1.5 0-1.5 0-1.5 0-1.5 0-1.5 0-1.5-.1-1.5 0-1.5 0-1.5 0-1.5 0-1.5 0-1.5 0-1.4 0-1.6 .1-1.5 0-1.5 0-1.5 0-1.5 0-1.5 0-1.5 0-1.5 0-1.5 0-1.5 0-1.5 0-1.5 0-1.5-.1-1.5 0-1.5 0-1.5 0-1.5 0-1.5 0-1.5 0-1.5 0-1.5-.1-1.5 0-1.5 0-1.5 0-1.5 .1-1.5 0-1.5 .1-1.5 .2-1.5-.1-1.5-.2-1.5 0-1.5 0-1.5 0-1.5 0-1.5 0-1.5 0-1.5 0-1.5 0-1.4 0-1.6 0-1.5 0-1.5-.1-1.5 0-1.5-.1-1.5 0-1.5 0-1.5 0-1.5 0-1.5 0-1.5-.1-1.5 0-1.5-.1-1.5-.2-1.5-.1-1.5-.2-1.5-.3-1.5-.5-1.5-.2-1.5-.5 1-.7 1.5-.3 1.5-.4 1.5-.4 1.5-.2 1.5-.1 1.5-.1 1.5-.2 1.5-.1 1.5-.1 1.4 0 1.6 0 1.5 0 1.5 0 1.5-.1 1.5 0 1.5-.1 1.5 0 1.5 0 1.5 0 1.5 0 1.5 0 1.5 0 1.5 0 1.5 0 1.5 0 1.5 0 1.5 0 1.5 0 1.5-.1 1.5-.1 1.5 .1 1.5 0 1.5 0 1.5 .1 1.5 0 1.5 0 1.5 0 1.5 0 1.5 0 1.5 0 1.5 0 1.5 0 1.5 0 1.5 0 1.5 0 1.5-.1 1.5 0 1.5 0 1.5 0 1.5 0 1.5 0 1.5 0 1.5 0 1.5 0 1.5 0 1.5 0 1.5 0 1.5 0 1.5 0 1.5 0 1.5 0 1.5 0 1.5 0 1.5 0 1.5 0 1.5-.1 1.5 0 1.5 0 1.5 0 1.5 0 1.5 0 1.5 0 1.5 0 1.5 .1 1.5 0 1.5 0 1.5 0 1.5 0 1.5-.1 1.5 0 1.5 .1 1.5 0 1.5 0 1.5 0 1.5 0 1.5 0 1.5 .1 1.5 0 1.5 .1 1.5-.1 1.5 0 1.5-.1 1.5 0 1.5 0 1.5 0 1.5 .1 1.5 0 1.5-.1 1.5 0 1.5 .1 1.5 0 1.5 0 1.5 0 1.5 0 1.5 0 1.5-.1 1.5 0 1.5-.1 1.5 0 1.5 0 1.5 0 1.5 0 1.5 .1 1.5 0 1.5 0 1.5 0 1.5 0 1.5 0 1.5 .1 1.5 0 1.5-.1 1.5 0 1.5 0 1.5 0 1.5 .1 1.5 0 1.5 0 1.5 0 1.5 .5 .9 1.2 .2 1.5-.5 1-1.1 .9-1 .1z"/>
</g>
<g stroke="#4a50de">
<path d="M543 71.1l-.3-1.3 .3 1.3z"/><path d="M379 75.7l-.6-1.4 0-1.5 .4-1.5 1.1 .5-.1 1.5-.2 1.5-.6 .9z"/><path d="M558.5 77.2l-.5-1.4 .6 1-.1 .4z"/><path d="M558.5 81l-.6-1.2 .6-1.2 .2 1.2-.2 1.2z"/><path d="M550.5 83.6l-.2-1.3 .2 1.3z"/><path d="M558.5 85.6l-.6-1.3 .7 1-.1 .3z"/><path d="M550.5 91.3l-.6-1 .1-1.5 0-1.5 0-1.5 .5-1.5 .5 1.5-.1 1.5 .1 1.5 .1 1.5-.6 1z"/><path d="M141.5 93.8l-1.5 .3-1.5 0-1.4-.3-1.1-.3-1.5-.6-1-.8-.6-1.3 .1-1.5 .5-1 1-.9 1.5-.6 1.5-.2 1.5 .1 1.5 .3 1.5 .7 .9 .6 .9 1 .5 1.5-.6 1.5-1.1 1-1 .5-.1 0z"/><path d="M558.5 94.2l-.7-.9 0-1.5 0-1.5-.1-1.5 .3-1.1 .8 1.1-.1 1.5 .1 1.5 0 1.5-.3 .9z"/><path d="M429.5 119l-1.5 .2-1-.7-1.1 .3-1.4 .4-1.5-.3-1.5-.4-1.5-.1-1.5-.6-.4-1.5-.2-1.5 .4-1.5 .3-1.5 0-1.5-.5-1.5-1-1-1.1-.6-1.1-.4-1.4-.4-1.5-.3-1.5-.4-1.5-.4-1.5-.2-1.5-.1-1.5 .1-1.5 .3-1.5 .3-1.5 .2-1.5 .2-1.5 .3-1.5 .2-1.5 .1-1.5 0-1.5-.2-1.3-.2-1.2-.3-1.5-.4-1.3-.3-1.2-.5-1-.8-.8-1.2-.3-1.5 .4-1.5 .7-.9 1-.7 1.5-.3 1.5-.2 1.5-.2 1.5-.3 1.5-.2 1.5 0 1.5 0 1.5 .2 1.5 .1 1.5 0 1.5 0 1.5 .2 1.5 .2 1.5 .4 1.5 .1 1.5-.1 1.3-.3 1.2-.2 1.5-.2 1.5-.2 1.5-.3 1.5-.2 1.5-.2 1.5-.2 1.5-.1 1.5-.1 1.5 0 1.5 0 1.5 .1 1.5 .2 1.5 .2 1.5 .2 1.2 0 1.3-.1 1.5-.1 1.5 0 1.5 0 1.5 0 1.5-.1 1.5 0 1.5 .1 1.5 .1 1.5-.1 1.5-.2 1.5-.1 1.5-.2 1.5-.2 1.5-.3 1.5-.4 1.5-.3 1.5-.2 1.5 0 1.5 0 1.5 .4 1.5 .3 1.5 .1 1.5 .1 1.5 .1 1.5 .3 1.5-.1 1-.4 1-.7 1-.7 .9-1.3 .6-1.2 .5-1.1 1-1.1 1.5 .3 .9 1.1 .7 1 .8 1 1.1 .6 1.5 .3 1.5 .3 1.3 .3 1.2 .4 1.5 .4 1.5 .3 1.5 .2 1.5 .2 1.5 .2 1.5 .1 1.5 .1 1.5 0 1.5 .1 1.5 .1 1.5 0 1.5 .1 1.5 .1 1.5-.1 1.5 0 1.5 .2 1.5 .2 1.5 .2 1.4 .2 1.6 .1 1.5-.1 1.5-.1 1.5-.1 1.5-.2 1.4-.1 1.6 .1 1.5 .2 1.5 .1 1.5 .3 1 .6 1 1.1 .5 1.1 .2 1.5-.3 1.5-.6 1-.8 .7-1.5 .5-1.5 0-1.5 .1-1.5-.1-1.5-.1-1.5-.1-1.5 .3-1.5 .2-1.5 0-1.5-.1-1.5 0-1.5-.1-1.5-.1-1.5 0-1.5 .3-1.5 .3-1.2 .2-1.3 .1-1.5 .1-1.5 .1-1.5 0-1.5 .1-1.5 .1-1.5 .1-1.5 .1-1.5 0-1.5 0-1.5-.1-1.5-.1-1.5 0-1.5 .2-1.5 .3-1.5 .3-1.1 .2-1.4 .2-1.5-.1-1.5 0-1.3-.1-1.2-.1-1.5-.3-1.5-.3-1.5-.2-1.5 .1-1.5 .5-1.5 .5-1.1 .3-1.4 .3-1.1 .2-1.4 .2-1.5 .1-1.5 0-1.5-.1-1.5-.4-1.5-.5-1.5-.5-1.5-.5-1.2-.3-1.3-.3-1.5-.3-1.5-.1-1.5 0-1.5 0-1.5 .1-1.5 .5-1 .6-1 .7-1 .5-.9 .8 0 1.5-.1 1.4-.5 1.1-.6 1-.6 1-1.3 .9-1.5-.1-.9-.8-1.1-.1-1 1-.4 1.1 .1 1.5-.2 .2z"/><path d="M380 113.1l-1.5-.3-.3-1.5 0-1.5 0-1.5-.1-1.5-.1-1.5 .1-1.5 .1-1.5 0-1.5 .1-1.5 0-1.5-.1-1.5 0-1.5-.2-1.5 .4-1.5 .7-1 .9-1 1 .5 .1 1.5 0 1.5-.2 1.5 0 1.5 .1 1.5 .1 1.5 .2 1.5 0 1.5-.1 1.5 .1 1.5-.3 1.5-.2 1.5 0 1.5-.1 1.5-.2 1.4-.5 .4z"/><path d="M142.5 105.8l-1.5 .1-1.5 0-1.4-.1-1.1-.2-1.5-.6-1-.7-.9-1 .4-1.3 1-.7 1.2-.5 1.2-.5 1.1-.5 1.2-.5 1.3-.3 1.5-.2 1.5 0 1.5 0 1.5-.1 1.5 0 1.4 .1 1.1 .2 1.5 .2 1.5 .2 1.5 .1 1.5 .1 1.5 .2 1.5 .5 1 .6 .5 1.2-.7 1.2-1.3 .8-1.5 .6-1.5 .4-1.5 .4-1.5 .1-1.5 .1-1.5 .1-1.5-.1-1.5-.1-1.5 .1-1.5 0-1.5 .1-.5 0z"/><path d="M97.5 117.8l-.7-1-.1-1.5 .3-1.3 1.1 .3 .2 1.5-.3 1.5-.5 .5z"/><path d="M108.5 117.5l-1.3-.2-.4-1.5 .5-1 1.2-.1 .6 1.1-.4 1.5-.2 .2z"/><path d="M103 117.8l-1-.7 .1-1.3 .9-.6 1 .6 0 1.4-1 .6z"/><path d="M380 146.8l-1.2-.5 .2-1.1 1-.9-.6-1-1.3-1-.2-1.5 .5-1.5 0-1.5 0-1.5 0-1.5 0-1.5 0-1.5-.1-1.5 0-1.5 0-1.5 .4-1.5 0-1.5 .2-1.5 .1-1.1 .5-1.4 1.1 0 .5 1.5-.4 1.5-.3 1.5 0 1.5 .3 1.5 0 1.5-.1 1.5 0 1.5 .1 1.5 0 1.5 0 1.5 0 1.5 0 1.5 .1 1.5 .4 1 .3 1.5-.6 1-.4 1.3-.5 .7z"/><path d="M107.5 152l-1.2-.2-1.3-.7-1.5-.5-1.3-.3-1.2 .2-1.2 .3-1.3 0-1.5 .1-1.5-.3-1-.6-1-1.2-.5-1.3-.3-1.2-.1-1.5 .1-1.5-1.2-.5-1.5 .3-.5-1.3 1-.9 1-1.1 1-.7 1.4-.3 .4-1.5 1-1 1.2-.1 1.5-.1 1.5-.1 1.5 .1 1.5 0 1.5 0 1.5-.2 1.5-.2 1.1 .1 1.4 .3 1.5 .1 1.5 0 1.5 .1 1.5 .1 1.5 .2 1.5 0 1.5 0 1.5 0 1.5-.1 1.5-.1 1.5-.6 1-.7 1.4 .2 1.1 .6 1.5 .3 1.5-.1 1.5-.1 1.1-.2 1.4-.3 1.2 .3 1.3 .2 1-.7 .5-1 1-.8 1.1-.2 1.4 .1 1.5-.1 1-1-.5-1.5 1-.9 1.5 .7 1.5 .2 .8-1 1-1 1.2-.3 1 .7 1 .9 1 .4 1 1.2 1 1 1-.4 1-.9 1.1 .4 .7 1 1.1 1 .6 1-.1 1.5 .6 1 1 .7 .8 .8 .5 1 .5 1-.3 1.4-1 .7-1.5 .4-1.1 .5-.2 1.5-.7 1.3-1 .9-1.1 .3-1.1-.5-.4-1.5-.9-.8-1.5 .2-1.5-.1-1.5-.1-1.5 0-1.4 .3-1.1 .2-1.5-.1 .2-1.1-.5-1-1.2 .4-1 1-1.5-.1-1.4 .2-1.6 .2-1.1-.2-1.2-1-.5-1.5-.5-1.5-.1-1.5-1.1-.7-1.5-.4-1.5-.1-1.5 0-1.5 .1-1 .9-.5 1-1 .8-1-.9-.5-.9-.8-.8-1.2-.3-1.5 0-1.5 .1-1.5 0-1.5 .1-1.5 .3-1 .5 .3 1.3 1.2 .9 1 .6 .9 1 .4 1.5-.8 1.3-1.5 .2-1.2 0-1.3 .7-1.5-.4-1.2 .2-.3 1.2 .5 1.1-.5 1.2-1.5-.1-1.5 0-.2 1.1-.8 1.2z"/><path d="M548.5 215.9l-1.5 .1-1-1-.7-1.2-.7-1-1.6 0-1 .8-1 .8-1.1-.6-.3-1.5 .2-1.5-.2-1.5-.3-1.5-.2-1.5 0-1.5 .6-1 .5-1-.2-1.2-.5-1.2-.2-1.1 .5-1.5 .5-1 1.2-.7 .6-1.3-1.1-.6-.8-.9-.5-1.5-.1-1.5 .4-1.5 .4-1.5-.2-1.5-.5-1-.7-1-1-.4-1.5-.3-1.5-.2-1.5 .1-1.2-.7-.2-1.5-.4-1.5-1.2-.2-1 .9-.8 1.3-.7 .9-1 .5-1.5 .2-1.5-.1-1.4-.5-1.1-.4-1-1-1.5-.3-1 .6-1.5 .1-.4-1 .2-1.5 .4-1.5-.2-1.3-.8-1.2 .3-1.1 1.4 .1 1.1-.3 0-1.2 0-1.2 .9-.8 1.1-.3 1.3-.2 1.2-.1 1.4 .1 1.1 .1 1.2-.1 1.3 0 1.5 .2 1.5 .3 1.5-.2 1.3-.3 1.2 0 1.5 .2 1.5 0 .9-1.2 .4-1.5 .1-1.5-.2-1.5-.4-1.5 .2-1.1 1-1.4 1-1 .8-1-.2-1.5-.5-1.5-.2-1.5-.3-1.5-.1-1.3 0-1.2 .2-1.5-.2-1.5-.6-1-.3-1.5 0-1.5-.6-1.1-.7-.9-.4-1.5 .4-1.5 .6-1 .6-1 .2-1.5 .2-1.5 .4-1.5 .7-1 1-.4 1 .5 1 .5 1.2-.1 1.1-.5 1.2-.9 1-.6 1.5-.1 1 .6 .9 1 .3 1.5 0 1.5 .6 1.5 1.2 .6 1.5 .2 1.5 .6 1.5 .3 1.5 .2 1 .8 .8 .8 .9 1 .8 .8 1.5-.1 1-.4 1.5 0 1 .6 .8 1.1-.3 1.2-.8 1.3-1.2 .9-1.5 .3-1.5 .1-1.4-.8-1.1-.5-1.3 .5-.5 1-1.2 .6-1 .5-1.5 0-1-1.1-1.2 .5-.7 1.5-1.1 .5-.3 1.5 .3 1.2 .1 1.3-.2 1.5 .3 1.5 .3 1.5-.5 1.3-.3 1.2-.1 1.5 .2 1.5 .5 1.5 .1 1.5 0 1.5 .1 1.2 .2 1.3 0 1.5-.3 1.5-.2 1.5 .2 1.5 0 1.5 .3 1.5 .1 1.5 0 1.5 .2 1.3 0 1.2-.2 1.5 .1 1.5-.3 1.5-.5 1-.5 1.5 0 1.5-.2 1.5-.6 1.5-.5 1.5 .2 1.1 .5 1.2 .1 1.2 .3 1.5 .8 1 .5 1-.1 1.5-.1 1.5 0 1.5-.2 1.5-.1 1.5-.7 1.5-1 .7-.8 .8-.6 1-.5 1-.1 .1z"/><path d="M168 135.9l-1.5 .2-.1-1.3 1.1-.4 .7 .9-.2 .6z"/><path d="M108.6 140.8l-1.1-.6 1 .6 .1 0z"/><path d="M131.5 145.9l-1.3-.6-.3-1.5 .3-1.5 1.3-.5 .6 1 .2 1.5-.3 1.1-.5 .5z"/><path d="M528 143.7l0-1.4 0 1.4z"/><path d="M558.8 144.3l-.5-1-1.1 .5 .8 .9 .8-.4z"/><path d="M530 159.4l-.6-1.1 .1-1.2 1.1 .7-.5 1.5-.1 .1z"/><path d="M533.5 161.5l-.6-1.2 .1-1.3 1.1 .3 0 1.5-.6 .7z"/><path d="M560 161l-.4-1.2 .4-1.1 .5 1.1-.5 1.2z"/><path d="M127.5 187.5l-1.2-.2-.7-1-.5-1.5-.3-1.5-.3-1.5-.4-1.5-.4-1.5 0-1.5 .8-1.5 1-1 1-.6 1.1-.4 1.3-.5 1.1-.4 1.5-.3 1.5-.1 1.5 .1 1.5 .4 1.5 .2 1-.9 .5-1.4 .5-1 .9-1.1 1.1-.7 1.5-.7 1-.5 1.5-.5 1.3-.1 1.2 .1 1.5 .1 1.5 .2 1.5 .2 1.5 .3 1.5 .4 1.5 .4 1.5 .1 1.3 .2 1.2 .5 1 .6 1 .7 1 .9 .9 1.3 .5 1.5 .2 1.5 .3 1.5 .1 1.1-.3 1.4-.6 1-1.1 .7-1.4 .3-1.1 .5-1 .7-1 .5-1.5 .6-1.5 .4-1.5 .6-1.5 .5-1.5 .4-1.5 .1-1.5 0-1.5-.2-1.5-.1-1.5-.2-1.5-.5-1.5-.5-1.1-.3-1.4-.5-1.4-.5-1.6-.2-1.5 0-1.4 .2-1.1 .2-1.5 .7-.8 1.1-.6 1-.6 .9-1 .8z"/><path d="M379.5 180.4l-1.1-.1-.3-1.5 .4-1.4 .3-1.1-.2-1.5 .4-1.1 1.3 .6 .3 1.5-.3 1.5-.3 1.3-.2 1.2-.3 .6z"/><path d="M564 183.1l-1.5 .1-1-.7-.7-1.2-.5-1.5-.1-1.5 .3-1.2 .8-1.3 1.2-.9 1.5-.2 1 .6 .8 1 .5 1.5 0 1.5-.5 1.5-.5 1-.8 .9-.5 .4z"/><path d="M198 178.1l-.5-1.3 1 .5-.5 .8z"/><path d="M107.5 180.9l-.5-1 1 .4-.5 .6z"/><path d="M116.5 181.4l-.9-1.1 1.3-.5 .1 1.4-.5 .2z"/><path d="M102 203.5l-1-.5-.6-1.2-.1-1.5 .6-1.5 1.1-.5 1.5 .2 .3-1.2 .1-1.5 0-1.5 0-1.5 .5-1 1.1-1 1-.8 1-.6 1.2 .4 .8 .9 .5 1.1 .5 1 .5 1 .5 1.5 .5 1 .5 1.5-.5 1.1-1 .6-.8 .8-.9 1-1.3 0-1-.4-1.5-.5-1.5-.1-.5 1-.5 1.1-.7 .9-.3 .2z"/><path d="M380 195.8l-.7-1-.5-1-.5-1 .7-1.2 1 .6 .1 1.1 .3 1.5-.4 1z"/><path d="M96 200.6l-.6-1.3-.1-1.5 .2-1.4 1.1 .4 .1 1.5-.2 1.5-.5 .8z"/><path d="M378 203l-1.5 0-1.5 0-1.5 .1-1.5 0-1.5-.1-1.5-.1-1.5 0-1.5 0-1.5 .1-1.5 0-1.5 0-1.5 0-1.5 0-1.5 0-1.5-.1-1.5 0-1.5 0-1.5 0-1.5 0-1.5 0-1.5 0-1.5 0-.3-1.1 1.3-.1 1.5 0 1.5 0 1.5 0 1.5 0 1.5 0 1.5 0 1.5-.1 1.5 0 1.5 0 1.5 0 1.5 0 1.5 0 1.5 0 1.5 .1 1.5 0 1.5-.1 1.5 0 1.5-.1 1.5 0 1.5 0 1.5 .1 1.2 .7-.7 .7z"/><path d="M439.5 212.3l-1.5 0-1.5 0-1.5 .1-1.5 0-1.5 .1-1.5 0-1.5 0-1.5 0-1.5 0-1.5 0-1.5 0-1.5 0-1.5 0-1.5 0-1.5-.1-1.5 0-1.5 .1-1.5-.1-1.5 0-1.5-.1-1.5 .1-1.5 0-1.5-.1-1.5 0-1.5 0-1.5 0-1.5 0-1.5 0-1.5 0-1.5 0-1.5 0-1.5 0-1.5 0-1.5 0-1.5 0-1.5-.1-1.5 0-1.5 0-1.1-.4-1.4-1-.8-1-.2-1.5 .2-1.5 .6-1 1.2-1 1-.5 1.5-.1 1.5 0 1.5 0 1.5-.1 1.5 0 1.5 0 1.5-.1 1.5 0 1.5 0 1.5 0 1.5 0 1.5-.1 1.5 0 1.5 0 1.5 0 1.5 0 1.5 0 1.5 0 1.5 0 1.5 0 1.5 0 1.5 0 1.5 0 1.5 0 1.5-.1 1.5 0 1.5 0 1.5 0 1.5 0 1.5 0 1.5 0 1.5 0 1.5 0 1.5 0 1.5 0 1.5 .1 1.5 0 1.5-.1 1.5 0 1.5 .2 1.5 .1 1.5 0 1.5 .1 1.5 0 1.5 0 1.5 0 1.5 .1 1.2 0 1.3 0 1.5 .1 1.5 0 1.5 .1 1.5 0 1.5 0 1.5 0 1.5 0 1.5 0 1.5 .1 1.5 0 1.5 0 1.5 0 1.5 .1 1.5 0 1.5 .1 1.5 0 1.5 0 1.5 .1 1.5 0 1.5 0 1.5 0 1.5 0 1.5 0 1.5 0 1.5 .1 1.5 0 1.5 0 1.5 .1 1.5 .1 1.5 0 1.5 .1 1.5 0 1.5 .1 1.5 0 1.5 0 1.5 0 1.5 0 1.5 0 1.5 0 1.5 0 1.5 .1 1.5 0 1.5 .1 1.5 0 1.5 .1 1.5 0 1.5 .1 1.5 0 1.5 .1 1.5 .1 1.5 .1 1.5 .2 1.5 .1 1.5 .3 1.1 .6-.1 1.1-1 .5-1.5 .3-1.5 .2-1.5 .1-1.5 .1-1.5 .1-1.5 .1-1.5 .1-1.5 .1-1.5 .1-1.5 0-1.5 .1-1.5 0-1.5 0-1.5 0-1.5 .1-1.1 0-1.4 .1-1.5 0-1.5 .1-1.5 0-1.5 .1-1.5 0-1.5 .1-1.5 0-1.5 0-1.5 0-1.5 .1-1.4 0-1.1 .1-1.5 0-1.5 0-1.5 0-1.5 0-1.5 0-1.5 .1-1.5 0-1.5 .1-1.5 0-1.5 .1-1.5 0-1.5 .1-1.5 0-1.5 0-1.5 .1-1.5 0-1.5 0-1.5 0-1.5 0-1.5 .1-1.5 0-1.5 .1-1.5 0-1.5 .1-1.5 0-1.5 0-1.5 .1-1.5 0-1.5 .1-1.5 0-1.5 0-1.5 .1-1.5 0-1.5 .1-1.5 .2-1.5 0z"/><path d="M65 206.9l1-.5 1.5 .1 1.5 .1 1.5 .1 1.2 .1 1.3 0 1.5-.1 1.5 0 1.5 0 1.5 0 1.5 0 1.5 0 1.5 0 1.5 0 1.5 0 1.5 0 1.5-.1 1.5 0 1.5 0 1.5 0 1.5-.2 1.3-.6 1.1-.5 1.1 .2 1 .5 1.4-.2 1.1-.9 1.1 .4 1.4 .9 1.5 .2 1.5 0 1.5 0 1.5 .1 1.5 .1 1.5 0 1 .7-.5 1.4-1.5 .1-1.5 0-1.5 0-1.5 0-1.5 0-1.5 .1-1.4 .4-1.1 .3-1.4-.3-1.6-.1-1.5 .6-1.5-.2-1-.5-1.3-.3-1.2 0-1.5 0-1.5 .1-1.5-.1-1.5-.1-1.5-.1-1.5 0-1.5 .1-1.5 0-1.5 .1-1.5 0-1.5 0-1.5 0-1.5-.1-1.5 0-1.5 .1-1.5 .1-1.5 .1-1.5 0-1.2-.2-.3-.3"/><path d="M391.5 215.3l-1.5 .1-1.5 0-1.5 0-1.5 0-1.5-.1-1.5 0-1.5 0-1.3 0-1.2 0-1.5-.1-1.5-.1-1.5-.1-1.5 0-1.5 0-1.5 .1-1.5 .1-1.5 0-1.5 0-1.5 0-1.5 0-1.5-.1-1.5-.1-1.5-.1-1.5 .1-1.5 .1-1.5 0-1.5 0-1.5 .1 0-1.2 1.5 0 1.5 .1 1.5 0 1.5 .1 1.5 .1 1.5-.1 1.5 0 1.5-.1 1.5 0 1.5 0 1.5 0 1.5 0 1.5 .1 1.5 .1 1.5 0 1.2 0 1.3-.1 1.5 0 1.5-.4 0-1.2 0-1.3 1.1 0 0 1.5 .4 1.1 1.5 .2 1.5 0 1.5 0 1.5 0 1.5-.1 1.5 .1 1.5 0 1.5 0 1.5 .1 1.5 0 1.5 0 1.5 .1 1.5 .1 1.5 .1 1.5 0 1.5-.1 1.1-.1 1.4 0 1.5 0 1.5 .1 1.3 .4-1.3 .3-1.5 .1-1.5 0-1.5 0-1.5-.1-1.5-.1-1.5 .1-1.5 0-1.5 .1-1.5 0-1.5 0-1.5 .1-1 0z"/><path d="M380.5 235.1l-1-.8 .5-1.2 1 .7-.5 1.3z"/><path d="M378.5 242.8l-1.1 0 .1-1.2 1.1 .7-.1 .5z"/><path d="M379 260.1l-1-.8 1-.8 .3 1.3-.3 .3z"/><path d="M379 269l-1-.6-.3-1.1 .1-1.5 .7-.9 1.4-.6 1.1 .2 0 1.2-1 .9-.2 1.2-.6 1-.2 .2z"/><path d="M380.5 283.4l-1.1-.6 1.1-.6 0 1.2z"/><path d="M228.5 312.5l-1.3-.2-.2-1.4 1-.9 1-.7 1-.7 1-.6 1-.6 1-.6 1-.6 1-.7 1-.7 1-.7 1-.7 1-.8 1-.8 1-.8 1-.7 1-.6 1-.7 1-.7 1-.7 1-.8 1-.7 1-.8 1-.7 1-.7 1-.6 1-.6 1-.6 1-.5 1-.7 .6-1.1 .9-.8 1-.7 1-.7 1-.8 1-.8 1-.8 1-.8 1.2 .4-.2 1.1-1 .9-1 .8-1 .9-.9 .8-.7 1 0 1.5-.1 1.5-.8 .9-1 .8-1 .7-1 .7-1 .7-1 .7-1 .6-1 .6-1.5 .6-1.5 .6-1.3 .6-1.2 .5-1 .6-1 .7-1 .9-1 .8-1 .7-1 .6-1 .6-1 .6-1 .5-1 .6-1 .5-1 .6-1 .6-1 .6-1 .7-1 .6-1 .5-1 .5z"/><path d="M380 290.3l-1-.8-.3-1.2 .3-1.4 1.3 .4 .5 1.5-.3 1.2-.5 .3z"/><path d="M379 295.8l-1-1 .5-1.1 1.1 .1 .2 1.5-.8 .5z"/><path d="M380 302.9l-.9-.6 .1-1.5 .8-.9 .8-1.1 1.2 .5-.3 1.5-.5 1-1 1-.2 .1z"/><path d="M379 315.1l-.5-1 1 .6-.5 .4z"/><path d="M380.5 319.9l-1.3-.6 .3-1.2 1.3 .2-.2 1.5-.1 .1z"/><path d="M380.5 328.9l-1.1-.6 .3-1.5 .6-1-.4-1.5-.4-1.1-.1-1.4 .7 1 .4 1.1 .6 1.4 .6 1.5-.2 1.3-1 .8z"/><path d="M379.5 333.9l-1.1-.6-.4-1.5 .2-1.5 .8-.8 1 .8 .5 1 .3 1.5-.8 .8-.5 .3z"/><path d="M484.5 364.9l-1.5 .3-1.5 0-1.4-.4-1.1-.4-1-.6-1-1-.7-1-.5-1-.4-1.5-.2-1.5-.1-1.5-.1-1.5 0-1.5 .1-1.5 .3-1.5 .5-1.5 .4-1.5 .4-1.5 .3-1.5 .1-1.5-.1-1.5-.1-1.5-.1-1.5 .2-1.1 .9-1.4 1-1 1.1-.7 1.5-.5 1.5-.2 1.5 .1 1.5 .6 1.5 .6 1.5 .2 1.4-.6 1.1-1 1-.8 1-.5 1.3-.2 1.2-.1 1.5 .2 1 .6 .9 .8 .7 1 .5 1.5-.1 1.5-.3 1.5-.5 1.5-.6 1.5-.5 1.5-.4 1.5-.4 1.5-.5 1.5-.7 1.5-.5 1-.5 1-.6 1.5-.4 1.5-.6 1.2-.8 1.3-.6 1-.7 1-.7 1-.8 1-.8 1-.9 1-1.2 .8-1 .5-1.5 .6-.5 .2z"/><path d="M381 343.1l-1-.7-1.5-.3-.7-1.3 .7-1.4 .3-1.1-.1-1.5 .8-1.2 1 .6 1 .8 .4 1.3-.4 1.4 .4 1.1-.2 1.5-.7 .8z"/><path d="M547.5 367l-1.5 .1-1-.7-.7-1.1-.2-1.5 .1-1.5 .2-1.5 0-1.5-.1-1.5-.2-1.5 0-1.5 .1-1.5 .1-1.5 .1-1.5 .1-1.1 0-1.4 .1-1.5 .2-1.5-.2-1.5-.3-1.5 0-1.5 .2-1.4 .1-1.1 .4-1.1 1-.6 1.3 .2 1.1 1 0 1.5 0 1.5 .2 1.5 0 1.5 0 1.5 .1 1.5 0 1.5-.1 1.5-.1 1.5-.1 1.5 .2 1.5 .2 1.5-.1 1.5 .1 1.5 .1 1.5-.1 1.5 0 1.5 0 1.5-.2 1.5-.8 1-.3 .2z"/><path d="M127 387.9l-1.5 .3-1-.4-1-.9-.8-1.1-.5-1.5-.2-1.5-.2-1.5-.3-1.5-.2-1.5 .2-1.5 .5-1.2 .9-1.3 .7-1 .5-1 .4-1.2 .2-1.3 .3-1.1 .5-1 1-.9 1.5-.4 1.5 .1 1.5 0 1.5 .1 1.5 0 1.5 0 1.5 .1 1.5 .1 1.5-.1 1.5 0 1.5 0 1.5-.1 1.5-.1 1.5-.1 1.5 0 1.5-.2 1.5-.4 1.5-.2 1.5 0 1.5 0 1.5-.1 1.5-.3 1.3-.4 1.2-.4 1.5-.3 1.5-.1 1.5-.1 1.5-.3 1-.5 .3-1.3-1.3-.4-1.3-.6-.6-1-.3-1.5 0-1.5-.1-1.5-.2-1.4-.3-1.6 .3-1.2 1-1.1 1-.9 .8-.8 .7-1 .7-1 .8-.8 1-.7 1.5-.5 1.5-.2 1.5-.3 1.5-.2 1.5-.3 1.5-.3 1.5-.6 1-.6 1-.5 1.5-.3 1.5-.2 1.5-.2 1.5-.5 1.5-.5 1.5-.3 1.5 .2 1.5 .3 1.5 .1 1.5-.1 1.5 0 1.5 .4 1.3 .6 1.2 .5 1.5 .2 1.2-.2 1.3-.3 1.4-.7 1.1-1 1-.6 1.5-.3 1.3 .4 1.2 .9 1 .8 1 .5 1.5 .4 1.5 .3 1.5 .1 1.5-.1 1.5-.2 1.5 .1 1.3 .2 1.2 .2 1.3 .3 1.2 .2 1.2 .3 1.3 .3 1.5 .5 1.5 .5 1.5 .3 1.5 .2 1.1 .2 1.4 .4 1.5 .5 1 1.1-.4 1.5-1.1 .8-1 .5-1 .6-1 .9-1 .9-1 .7-1 .6-1 .5-1.5 .5-1.5 .3-1.5 .4-1.5 .5-1.5 .4-1.3 .4-1.2 .4-1 .5-1 .8-1 .8-1 .9-1 .8-1 .8-1 .5-1.3 .5-1.2 .5-1.3 .5-1.2 .3-1.5-.1-1.5-.4-1.1-.3-1.4-.3-1.5 .2-1 .6-1 .9-1 .5-1.5 .2-1.5 .1-1.3 .3-1.2 .2-1.5 .2-1.1 .6-.6 1-.5 1-.8 1-1 .7-1.5 .2-1.5-.1-1.5 0-1.5 0-1.5 .1-1.5 0-1.5 0-1.5 .1-1.5 .1-1.5-.1-1.5-.1-1.5 .1-1.5 .1-1.5 .1-1.5-.1-1.5-.1-1.5 0-1.5 0-1.5 0-1.5-.1-1.5 0-1.5 0-1.5 .1-1.5 0-1.5 0-1.5 .1-1.5 .1-1.5 0-1.5 .1-1.5 0-1.5-.1-1.4-.2-1.6-.2-1.5-.1-1.5 0-1.5 .2-1.5 .3-1.5 .3-1.5 .3-1.5 .5-1.5 .7-.7 1 0 1.5 .2 1.3 .2 1.2 0 1.5-.2 1.5-.4 1.5-.6 1.3-.7 1.2-.7 1-.8 1-.8 .9-1 .7z"/><path d="M426.5 360.3l-1.5-.1-1.5 0-1.2 .1-1.3 .2-1.5-.1-1.5-.6-1-.7-.9-.8-.6-.9-.4-1.1-.4-1.5-.2-1.4-.2-1.6 .1-1.5 .4-1.5 .6-1.5 .6-1.4 .5-1 .6-1.1 .8-1 1.1-.8 1.5-.5 1.5-.1 1.5 .1 1.1 .3 1.3 .5 1 .5 1.1 .5 1.5 .4 1.5-.1 1.5-.7 1-.6 1-.4 1.5-.5 1.5-.3 1.5 .1 1.5 .6 1 .6 1 .9 .9 1 .6 1 .5 1 .4 1.5 .3 1.5 .1 1.5 .1 1.5-.2 1.5-.6 1.5-.6 1-.8 1-1.1 1-1.1 .7-1.5 .3-1.5-.2-1.5-.2-1.5-.1-1.5-.1-1.3 .1-1.2 .3-1.5 .5-1.5 .5-1.2 .2-.3 0z"/><path d="M381.5 346.4l-.7-1.1 .2-1.3 .5-1.1 .8 1.4-.1 1.5-.7 .6z"/><path d="M379.5 351.5l-1.2-.7 .6-1 .4-1.5 0-1.5 1.2-.7 .1 1.2 0 1.5 .1 1.5-.7 .9-.5 .3z"/><path d="M566.5 365.3l-1.5 .1-1.5-.1-1.5-.2-1.4-.3-1.1-.4-1-.6-1-1-.5-1.5 .3-1.5 .6-1 1.1-.9 1-.6 1-.4 1.5-.5 1.5-.4 1.4-.2 1.6 0 1.5 .2 1.5 .5 1 .6 1 1 .6 1.2 0 1.5-.6 1.3-.8 1.2-1.1 1-1 .5-1.1 .3-1.3 .2-.2 0z"/><path d="M381 369.4l-1.1-.1-.5-1.5-.4-1.5 .3-1.5 .5-1 1.2-.3 .1 1.3-.5 1 .2 1.5 .6 1-.4 1.1z"/><path d="M413 369.4l-1.2-.1-.3-1.4 1-.6 1 .7-.3 1.3-.2 .1z"/><path d="M381.5 403.9l-.7-1.1-.2-1.5-1.1-.5-1-.9-.7-1.1-.2-1.5-.1-1.5-.1-1.5-.1-1.5 .1-1.5 .2-1.5 .2-1.5 .1-1.5 .1-1.5 .1-1.5 .1-1.5 0-1.5-.2-1.2-.2-1.3-.1-1.5 0-1.5 .3-1.4 .5-1.1 0-1.5 1.1 .5 .6 1 .8 .8 .5 1.2 0 1.5-.1 1.5-.2 1.5-.1 1.5 .1 1.5 .1 1.5 .1 1.5 0 1.5 0 1.5 0 1.5 .1 1.5 0 1.5 0 1.5-.1 1.5 0 1.5 .1 1.5 0 1.2 .4 1.3 .1 1.5-.4 1-.1 .1z"/><path d="M480 391.8l-1.5-.3-1-.9-.8-.8-.9-1-1.3-.9-.3-1.1 .2-1.5-.3-1.5 .4-1.4 0-1.4-.4-1.2-.2-1.5 .4-1.5 .9-1 1.3-.7 1.5 0 1.3-.3 1.2-.4 1 .5-.4 1.4-.1 1.3 1.5 .2 1.5 0 .7 1 .7 1.5 0 1.5-.4 1.4-.4 1.1-.4 1.5 0 1.5-.1 1.5-.3 1.5-.8 .7-1.5 .4-1.5 .4z"/><path d="M161.5 383.3l-1.5 .2-1.5 .1-1.5 0-1.5-.1-1.5 0-1.5 0-1.5-.1-1.5-.2-1.5-.3-1.5-.4-1-.6-.8-1.1-.2-1.5 .2-1.5 .8-1.3 1-.5 1.5-.4 1.3-.3 1.2-.1 1.5 0 1.5 0 1.5 0 1.5 0 1.5-.1 1.5 0 1.4 .2 1.1 .2 1.2 .3 1.3 .5 .9 1 .2 1.5-.1 1.3-.4 1.2-.9 1-1.2 .6-1.2 .4-.3 0z"/><path d="M397.5 382.9l-1.5-.1-1.2-.5-1.3-.2-1.5-.1-1.3-.7-1.2-1-1-1-.4-1 .4-1.2 1-.5 1.4-.3 1-.5 1-.5 1.1 0 1.5 .2 1.5 0 1.2-.2 1.3-.3 1.4 .8 .6 1 .5 1 0 1.5-.3 1.5-.7 1-1 .4-1.5 .4-1 .3z"/><path d="M172 380.9l-1.5-.5 0-1.2 1-.6 1.2 .7-.2 1.2-.5 .4z"/><path d="M519.5 384.9l-.7-1.1-.1-1.5 .1-1.5 .7-1.3 .7 1.3 .2 1.5-.2 1.5-.6 1-.1 .1z"/><path d="M524.5 384.4l-1-.9-.2-1.2 .1-1.5 .6-1.2 .9 .7 .3 1.5-.1 1.5-.5 1-.1 .1z"/><path d="M529.5 386.4l-1.3-.6-.4-1.5-.1-1.5 .2-1.5 .6-1.5 1.2 .5 .5 1.5 .1 1.5-.1 1.5-.6 1.5-.1 .1z"/><path d="M103.5 393.5l-1.5-.1-1-1.1 0-1.3 1-1.2 1.5 .3 1 1.2 0 1.1-1 1.1z"/><path d="M379 75l-.2-1.2-.1-1.5 .8-.8 .2 1.3-.4 1.5-.3 .7z"/><path d="M140.5 92.9l-1.5 .1-1.5-.1-1.5-.5-1-.6-.7-1 0-1.5 .7-1 1-.6 1.5-.2 1.5 .1 1.5 .5 1 .5 1 .9 .4 1.3-.9 1.4-1 .6-.5 .1z"/><path d="M558.5 89.8l0-1.1 0 1.1z"/><path d="M550.5 90.6l-.1-1.3 .1 1.3z"/><path d="M379.5 112.9l-.9-1.1 0-1.5-.1-1.5-.1-1.5-.3-1.5 .2-1.5 .2-1.1 0-1.4 .1-1.5 0-1.5 0-1.5 0-1.5-.2-1.5-.2-1.5 .5-1 .7-1 1.1-.6 .3 1.6 .1 1.5-.4 1.5 0 1.5 .1 1.5 0 1.5 .1 1.5 .1 1.5 0 1.5 .2 1.5-.2 1.5-.3 1.5-.1 1.5 0 1.5-.4 1.4-.5 .2z"/><path d="M427.5 116.4l-1.5 .2-1.2-.3-1.3-.7-.8-.8 .6-1.5 .6-1.5 .5-1 .1-1.2-.7-.8-1.3-.6-1.2 .1 .2 1.3 .6 1.2-1.1 .9-1-.9 .2-1.5-.6-1.5-1.1-.7-1.5-.7-1-.5-1.5-.6-1.5-.3-1.5-.3-1.5-.4-1.5-.3-1.5-.3-1.5 0-1.5 .3-1.5 .4-1.5 .4-1.5 .2-1.5 .3-1.5 .3-1.3 .2-1.2 .1-1.5 0-1.3-.1-1.2-.2-1.2-.3-1.3-.4-1.5-.4-1.4-.7-.9-1-.3-1.5 .5-1.5 1.1-.8 1.5-.3 1.5-.2 1.5-.3 1.5-.3 1.5-.2 1.5-.1 1.5 .2 1.5 .2 1.5 .1 1.5 0 1.5 .2 1.5 .3 1.5 .5 1 .5 1.5 .4 1.2-.2 1.2-.5 1.1-.4 1.5-.3 1.4-.3 1.1-.3 1.5-.3 1.5-.3 1.5-.3 1.5-.1 1.5-.1 1.5 0 1.5-.1 1.5 .1 1.5 .1 1.5 .3 1.5 .2 1.5 .2 1.5-.1 1.5-.2 1.5-.1 1.5 0 1.5 .1 1.5 0 1.5-.1 1.5 .2 1.5 .1 1.5 .1 1.5-.2 1.5-.1 1.5-.1 1.5-.2 1.3-.3 1.2-.3 1.5-.5 1.4-.2 1.1-.1 1.5-.1 1.5 .2 1.5 .5 1.5 .5 1.5 .1 1.5 .1 1.5 .2 1.5 .5 1.5 .1 1.1-.5 .9-.9 1-.9 1-1 .7-1.2 .7-1.5 .8-1 1.3 .3 .8 1.2 .7 .9 1 .7 1.1 .4 1.4 .2 1.5 .3 1.5 .4 1.5 .5 1.5 .5 1.5 .3 1.5 .2 1.5 .2 1.5 .3 1.3 .1 1.2 .1 1.5 0 1.5 .1 1.5 0 1.5 0 1.5 .1 1.5 .1 1.5 0 1.5 0 1.5 .2 1.5 .3 1.5 .3 1.5 .1 1.5 .1 1.5-.1 1.5-.1 1.5 0 1.5-.2 1.5-.1 1.2 .1 1.3 .3 1.5 .3 1.5 .2 1 .7 .6 1 0 1.5-.5 1-1.1 .7-1.5 0-1.5 0-1.5-.1-1.5-.1-1.5 .1-1.5 .3-1.5 .2-1.2-.1-1.3-.1-1.5 0-1.5 0-1.5-.1-1.5 0-1.3 .2-1.2 .4-1.5 .4-1.5 .2-1.5 .1-1.5 0-1.5 0-1.5-.1-1.5 .1-1.5 .2-1.5 .1-1.5 .2-1.5 0-1.5 0-1.5-.1-1.5-.1-1.5 .2-1.5 .3-1.5 .3-1.5 .3-1.5 .1-1.5 0-1.5-.1-1.5 0-1.5-.2-1.1-.3-1.4-.3-1.5-.3-1.5 0-1.5 .4-1.5 .6-1.5 .5-1.5 .4-1.1 .2-1.4 .2-1.5 .2-1.5-.1-1.5-.3-1.5-.5-1.5-.4-1.5-.5-1.5-.5-1.5-.3-1.5-.4-1.5-.3-1.5 0-1.5 .1-1.5 .1-1.2 .2-1.3 .5-1 .5-1 .5-1.5 .4-1.5 .3-1 .8 .5 1.2 .7 1.3 .1 1.5-.6 1-.7 .9-1 .6-1.2-.5-.6-1-1.2-.1-.5 .9-.8 1.2-1.2 .8-1 .3z"/><path d="M155 104.4l-1.5 .2-1.5 .1-1.5 .1-1.5-.1-1.5-.1-1.5 0-1.5-.1-1.5 0-1.5 .1-1.5 .1-1.5-.2-1-.6-.3-1.1 .8-.9 1-.7 1-.5 1.2-.4 1.3-.2 1.5-.1 1.5 0 1.5-.1 1.5 0 1.5 .2 1.2 .2 1.3 .2 1.5 .2 1.5 .2 1.5 .2 1.3 .7-.3 1.3-1 .6-1.5 .6-.5 .1z"/><path d="M427.1 109.8l1.4-.4 1.5-.4 1-.5 1.5-.5-.5-1.1-1.5 .3-1.2 .1-1.3-.2-1.4 .2-.5 1 .2 1.5 .8 0z"/><path d="M97.5 116.5l-.2-1.2 .2 1.2z"/><path d="M380.5 144.3l-.5-1-1-.6-.8-.9 .2-1.5 .4-1.5 0-1.5-.1-1.5 0-1.5 .1-1.5-.1-1.5 0-1.5-.1-1.5 .2-1.5 .1-1.5 .1-1.5 .2-1.5 .3-1.3 1.2 .3-.2 1.5-.3 1.5-.1 1.5 .2 1.5 0 1.5-.1 1.5 0 1.5 .1 1.5 0 1.5 .1 1.5-.1 1.5 0 1.5 0 1.5 .6 1.5 .4 1.5-.8 .5z"/><path d="M547.5 214.9l-1.3-.6-.6-1-1-1-1.1-.1-1.5 .1-1-.7-.3-1.3-.3-1.5 0-1.5 .1-1.5 1-1 .5-1-.5-1.5-.5-1.5 0-1.5 .5-1.2 .7-1.3 .6-1.5-.3-1.4-.8-1.1-.7-1-.5-1.5 .3-1.5 .6-1.5-.1-1.5-.6-1-.5-1-.7-1.3-1.5-.3-1.5-.2-1.5-.2-1.4 0-.7-1-.1-1.5-.3-1.5-.9-1-1.6 0-1 .8-.1 1.2-.4 1.1-.9 1.4-1.1 .9-1.5 .2-1.5-.6-1-1-1-.7-1.5-.4-1.5-.2-.9-.7-.1-1.5 .4-1.5 1-1 .7-1 .2-1.5 .7-1.2 1.5-.4 1.5 0 1.5 .1 1.5-.1 1.5 .4 1.5 .4 1.5 .2 1.5-.3 1.5-.4 1.5 .1 1.2 .2 1.3 .5 .9 1 1 .5 1.1-.5 .5-1-.5-1.3-.9-.7 .1-1.5 .6-1.5-.2-1.5-.4-1.5-.3-1.5 .6-1.4 1-1.1 .8-1 .4-1.5-.6-1.5-.4-1.5-.3-1.5-.2-1.5 .3-1.3 .5-1.2 .3-1.5-.3-1.1-.5-1.3 0-1.2 .5-1 .1-1.4-.8-1-1.3-.7-.5-1 1-.8 .8-1 .2-1.5-.2-1.5 .2-1.1 .5-1.1 1 .5 1.5-.3 1-.5 1-.5 1.4-.5 1.1-.2 .9 .7 .5 1 .5 1 .6 1.5 .5 1.4 1 .9 1 .6 1 .4 1 .6 1.5 .6 1.5-.1 1 .6 1 .7 1 .5 .9 .8 1.1 1 1.4 .5-1.4 .3-1.3-.3-1.2-.2-1.5-.1-1.5-.6-1.5 .1-1.5 .2-1.2 .6-.6 1-.6 1-.6 1-1 1-.6 1-.1 1.5 .2 1.5-.1 1.5-.2 1.5 .2 1.5 .3 1.5-.1 1.5 0 1.5 0 1.5 .2 1.5 .2 1.5-.1 1.5 .2 1.5 .4 1.5-.1 1.5-.4 1.4-.2 1.1 .1 1.5 .1 1.5 .2 1.5 .2 1.5 .1 1.5 .2 1.5 0 1.5-.2 1.3 0 1.2-.1 1.5-.4 1.2-.4 1.3-.2 1.5-.1 1.5-.5 1.5-.4 1.5 0 1.5 .3 1.5 .1 1.5 .2 1.5 .7 1 .2 1.5 0 1.5 .2 1.5 0 1.5 0 1.5-.5 1.5-1.1 1-1 1-1 .9-.5 .2z"/><path d="M160.5 145l-1.4-.7-1.1-.6-1.5 0-1.5 .3-1.5 .1-1.5-.3-1.5 .4-1.5-.3-.9-1.1-1-.5-1.1 .2-1 .5-1.5-.1-.9-1.1-.6-1.4-.5-1-.9-1.1 .7-1.5 .5-1 .6-1 1.1-.4 1.5 0 1.5-.3 1.5 0 1-.6 1-.9 1.2-.3 1.3-.3 1.5-.1 1 .5 .8 .9 1.2 .7 1.5 .6 1.5 .1 1.3 .1 .8 1 .5 1 .6 1 .8 1 .7 1-.2 1.5-1.5 .4-1 .6-.7 1-.6 1.5-.2 .2z"/><path d="M546.4 137.3l.8-1-.7-1-1.5 0 0 1.5 1 .5 .4 0z"/><path d="M128 139.1l-1.3-.3-1.2-.9-.4-1.1 1.4-.8 1.5-.3 1 .5 1 .5 1.4 .1 1.1-.1 1.5-.1 1.2-.3 1.3-.2 .9 1.2-.9 .7-1.2-.2-1.3-.3-1.5 0-1.5-.2-1.4 .5-1.1 .8-.5 .5z"/><path d="M106.5 150l-1.2-.2-1.3-.9-1.5-.6-1.5 .4-1 .6-1.5 .2-1.5-.5-1.5 0-.8-.7-.6-1.5-.4-1.5 .3-1.1 .8-.9 1.1-1 1.1-.7 1.1-.3 .9-.9-1-.9-1.5-.4-1.4-.8 .3-1.5 1.1-.2 1.5-.1 1.5-.1 1.5 .1 1.5 .1 1.5 0 1.5-.2 1.5-.2 1.2 .1 1.3 .3 1.5 .2 1.5-.1 1.5 0 1.5 .3-.5 1.2-1.5 .6-1.4 0-1.1-.3-1.5 0-1.5 .3-1.5 .5-1.2-.5-1.3-.5-1.5 .2-1 .5 0 1.3 1 .5 1.5 .1 1.4 .4 1.1 .3 1.5 .3 1.5-.1 1-.5 .8-1 1.2-.9 1 .5 .7 .9 .6 1 .6 1-.4 1.3-1.5 .3-1.5 .2-1 .7-.7 1-.3 1.4-1.5 .4-1.4 .7-.5 1-.1 .2z"/><path d="M554.2 141.3l-.1-1.5-.7 1 .8 .5z"/><path d="M567 142.3l-1.5 .1 .2-1.1 1.2-.5 .1 1.5z"/><path d="M131 144.9l-.4-1.1 .9 .7-.5 .4z"/><path d="M380 146.4l-1-.6 1-.6 .1 1.1-.1 .1z"/><path d="M127.5 186.4l-1.3-.6-.5-1.5-.3-1.5-.2-1.5-.1-1.5 0-1.5 .4-1.2 1-1 1-.5 1.5-.6 1.5-.6 1.5-.2 1.2 .1 1.3 .3 1.5 .7 1 .5 1.4 .5 1.5-.5 .5-1 .4-1.5 .2-1.5 .5-1.4 1-1 1-.7 1-.5 1.1-.4 1.4-.2 1.5 0 1.5 .1 1.5 .2 1.5 .2 1.5 .5 1.5 .5 1.5 .5 1.5 .6 1 .9 .9 1.2 .5 1 .4 1.5-.3 1.5-.9 1-1.1 .8-.9 .7-.8 1-.6 1.5-.7 .9-1 .8-1 .5-1.5 .6-1.5 .3-1.5 0-1.1-.1-1.4-.3-1.5-.3-1.5-.7-.9-.7-1.1-.9-1-.5-1.5-.2-1.5 0-1.2 .1-1.3 .2-1.5 .2-1.5 .3-1.5 .2-1.4 .6-.7 1-.6 1.5-.6 1-.7 .6z"/><path d="M379 180.4l-.7-1.1 .2-1.2 .5-1.1-.1-1.2 0-1.5 1.1 0 .3 1.5-.3 1.3-.2 1.2-.3 1.5-.5 .6z"/><path d="M563 180.9l-1-1-.2-1.6 .7-1.4 1.5-.2 .8 1.1-.1 1.5-.6 1-1.1 .6z"/><path d="M108.5 200l-1.5-.2-1.3-.5-.9-1-.2-1.5 .1-1.5 0-1.5 .8-1.5 1-.5 1.2 0 1.1 1 .5 1 .5 1.5 .9 1 .2 1.5-.9 .9-1 .9-.5 .4z"/><path d="M379.5 193.6l-.9-.8 .9-.8 .2 1.3-.2 .3z"/><path d="M101.5 202.3l-.7-1 .2-1.3 1-.5 .7 1.3-.7 1.5-.5 0z"/><path d="M376 202.8l-1.5 0-1.5 .1-1.5-.1-1.5-.1-1.5-.1-1.5-.1-1.5 .1-1.5 .1-1.5 .1-1.5 0-1.5 0-1.5-.1-1.5 0-1.5-.1-1.5 0-1.5 0-1.5 0-1.5-.1-1.5 0-1.5 0-1.3-.2 1.3-.3 1.5 .1 1.5-.1 1.5 0 1.5 0 1.5 0 1.5 0 1.5-.1 1.5 0 1.5-.1 1.5 0 1.5 0 1.5 .1 1.5 .1 1.5 .1 1.5-.1 1.5-.1 1.5-.1 1.5-.1 1.5 0 1.5 .1 1.5 0 1 .5-1 .5-1.5 0z"/><path d="M430 212.3l-1.5 0-1.5 .1-1.5 0-1.5-.1-1.5 0-1.5 0-1.5 0-1.5 0-1.5 0-1.5 0-1.5 0-1.5 0-1.5 0-1.5 0-1.5 0-1.5 0-1.5 0-1.5-.1-1.5 0-1.5 0-1.5 0-1.5 0-1.5 0-1.5 0-1.5 0-1.5 0-1.5 0-1.5 0-1.5 0-1.5 0-1.5 0-1.5-.2-1.3-.7-1.1-1-.4-1-.1-1.5 .4-1.3 .9-1.2 1.1-.8 1.5-.2 1.5 0 1.5 0 1.5 0 1.5 0 1.5-.1 1.5 0 1.5 0 1.5-.1 1.5 0 1.5 0 1.5-.1 1.5 0 1.5 0 1.5 0 1.5 0 1.5 0 1.5 0 1.5 0 1.5 0 1.5-.1 1.5 0 1.5 0 1.5 0 1.5 0 1.5 0 1.5 0 1.5 0 1.5 0 1.5 0 1.5 0 1.5 0 1.5 0 1.5 0 1.5 0 1.5 0 1.5 .1 1.5-.1 1.5 0 1.5 .1 1.5 .2 1.5 .1 1.5 0 1.5 0 1.5 0 1.5 0 1.5 .1 1.5 0 1.5 0 1.5 .1 1.5 .1 1.5 0 1.5 0 1.5 .1 1.5 0 1.5 0 1.5 0 1.5 0 1.5 .1 1.5 0 1.5 0 1.5 0 1.5 0 1.5 .1 1.5 0 1.5 0 1.5 .1 1.5 0 1.5 0 1.5 .1 1.5 0 1.5 0 1.5 0 1.5 0 1.5 0 1.5 .1 1.5 .1 1.5 0 1.5 0 1.5 .1 1.5 0 1.5 0 1.5 0 1.5 0 1.5 0 1.5 .1 1.5 0 1.5 0 1.5 0 1.5 .1 1.5 .1 1.5 .1 1.5 0 1.5 0 1.5 0 1.5 .1 1.5 0 1.5 .1 1.5 .1 1.4 .2 1.6 .1 1.5 .2 1.5 .4 .9 .8-.9 .8-1.5 .5-1.5 .1-1.2 .1-1.3 .1-1.5 .2-1.5 .1-1.5 .1-1.3 0-1.2 .1-1.5 .1-1.5 0-1.5 .1-1.5 0-1.5 0-1.5 .1-1.5 0-1.5 .1-1.5 0-1.5 0-1.5 0-1.5 .1-1.5 .1-1.5 0-1.5 .1-1.5 0-1.5 0-1.5 .1-1.5 0-1.5 .1-1.5 0-1.5 0-1.5 0-1.5 0-1.5 0-1.5 0-1.2 0-1.3 .1-1.5 .1-1.5 .1-1.5 0-1.5 .1-1.5 0-1.5 0-1.5 .1-1.5 0-1.5 0-1.5 0-1.5 0-1.5 0-1.5 0-1.5 .1-1.5 .1-1.5 0-1.5 .1-1.5 0-1.5 .1-1.5 0-1.5 0-1.5 .1-1.5 0-1.5 0-1.5 0-1.5 .1-1.5 .2-1.5 .1-1.5 0-1.5 0-1.5 0-1.5 .1-1.5 0-1.5 0-1 0z"/><path d="M65 207.8l.8-1 1.2 0 1.5 .2 1.5 .1 1.5 .2 1.5 .1 1.5-.2 1.5 0 1.5 0 1.5 0 1.5 0 1.5 0 1.5 0 1.5 0 1.5 0 1.5-.1 1.5 0 1.5-.1 1.5 0 1.5 0 1.5-.2 1.2-.5 1.2-.5 1.1 .2 1.5 .4 1.5-.5 1.3-.1 1 .5 1.2 .5 1.5 .1 1.5-.1 1.5 .1 1.5 .1 1.5 .1 1.5 .2-.5 1.1-1.5-.1-1.5 .1-1.5 0-1.5 0-1.5 0-1.5 .2-1.5 .5-1.5 0-1.5-.3-1.5 .5-1.5 .1-1.3-.6-1.2-.4-1.5 0-1.5 0-1.5 .1-1.5-.1-1.3-.1-1.2-.1-1.5-.1-1.5 0-1.5 .1-1.4 .1-1.1 0-1.5 0-1.5 0-1.5 0-1.5-.2-1.5 0-1.5 .3-1.5 .1-1.5 .1-1.5 .1-1-.9z"/><path d="M353.5 214.8l-1.5 0-1.5 .1 1-.6 1.5 .3 .5 .2z"/><path d="M395 214.8l-1.5 0-1.5 .1-1.5 .1-1.5 .1-1.5 0-1.5 0-1.5-.1-1.5 0-1.5-.1-1.5 0-1.5 .1-1.5-.1 1-.7 1.5 .1 1.5 .3 1.5-.1 1.5-.1 1.5-.1 1.5 0 1.5 0 1.5 .1 1.5 .2 1.5 .1 1.5 .1 .5 0z"/><path d="M369 214.8l-1.5 .1-1.5 0-1.5 0-1.5 0-1.5-.1 1.5-.2 1.5-.1 1.5-.1 1.5 0 1.5 .3 0 .1z"/><path d="M380.5 234.6l-.5-1.1 .5 1.1z"/><path d="M379 268.5l-.9-.7-.1-1.5 .7-1 1-.5 1.2 0-.9 1.2-.4 1.3-.6 1.2z"/><path d="M235 307.4l.5-1 1-.8 1-.8 1-.8 .9-.7 1.1-.9 1-.7 1-.6 1.5-.6 1-.6 1-1.1 1-1 1-.8 1-.8 1-.8 1-.7 1-.7 1-.6 1-.5 1-.5 1-.6 .8-1 .7-1.3 1-.5 1-.6 1-.7 .9-.9 1.1-.9 1-.7-.4 1.1-1.1 .9-1 .8-.9 .8-.7 1-.2 1.5 .1 1.5-.7 1-1.1 .8-.9 .7-1.1 .8-1 .7-1 .7-1 .6-1 .5-1.5 .6-1.5 .5-1.5 .4-1.5 .4-1 .7-1 1.1-1 1-1 .8-1 .6-1 .6-1 .6-1 .5-1.5 .6-1 .4z"/><path d="M380 289.9l-1-1.1 0-1.2 1.2 .2 .3 1.5-.5 .6z"/><path d="M379 295.5l-.6-1.2 1.2 0-.6 1.2z"/><path d="M380 302.3l-.6-1 .7-1 .8-1 .7 1-.6 1-.9 1-.1 0z"/><path d="M229.5 310.9l.2-1.1 1.3-.8 1-.6 1-.5 1-.5-.5 1-1 .8-1 .7-1 .6-1 .4z"/><path d="M380.5 319.5l-1.1-.7 1.1-.4 0 1.1z"/><path d="M381 328.3l-1.1 0 .1-1.3 1-.8 .4 1.1-.4 1z"/><path d="M379.5 333.4l-1-.6-.3-1.5 .3-1.1 1.2 .1 .5 1 .3 1.5-1 .6z"/><path d="M484.5 363.8l-1.5 .4-1.5 0-1.4-.4-1.1-.5-1-.8-.9-1.2-.6-1.4-.3-1.1-.1-1.5 0-1.5-.1-1.5 0-1.5 .2-1.5 .3-1.1 .5-1.4 .5-1.4 .4-1.1 .4-1.5 .1-1.5-.1-1.5-.2-1.5-.2-1.5 .3-1.5 .7-1 1.1-.9 1-.5 1.5-.3 1.5 .1 1.5 .5 1 .5 1.5 .6 1.5 .1 1.4-.6 1.1-1 1-1 1-.5 1.5-.3 1.5 .1 1 .5 1 1.2 .4 1.5-.2 1.5-.4 1.5-.5 1.5-.5 1.5-.6 1.5-.5 1.5-.4 1.5-.6 1.5-.5 1-.5 1-.5 1-.4 1-.7 1.5-.5 1-.4 1-.5 1-.6 1-.6 1-.7 1-.7 1-.9 1-1.2 .9-1 .5-1.5 .6z"/><path d="M381 342.5l-1-.5-1.5-.3-.2-1.4 1.2 .2 .4-1.2-.7-1 0-1.5 1.3-.1 1 .9 0 1.2-.1 1.5 .2 1.5-.6 .7z"/><path d="M547.5 366.5l-1.5 .1-1-.8-.4-1-.1-1.5 .2-1.5 .2-1.5-.1-1.5-.2-1.5-.1-1.5 .1-1.5 .1-1.5 .1-1.5 .2-1.2 .1-1.3-.1-1.5 .1-1.5 .2-1.5-.3-1.5-.3-1.5 .2-1.5 .2-1.5 .4-1.4 1.5-.2 1 1-.1 1.1 0 1.5 .2 1.5 0 1.5 0 1.5 .2 1.5-.1 1.5-.2 1.5-.1 1.5 .1 1.5 .2 1.5 .1 1.5 0 1.5 0 1.5 .1 1.5-.1 1.5 0 1.5 .1 1.5-.2 1.5-.7 .7z"/><path d="M127.5 384.3l-1.5 .5-1.2-.5-.7-1-.6-1.5-.3-1.5-.1-1.5 .2-1.5 .4-1.5 .5-1.5 .5-1.5 .6-1.5 .3-1.5 .4-1.3 1-1.1 1.5-.2 1.5 .1 1.5 0 1.5 0 1.5 0 1.5 .2 1.5 .2 1.5 .1 1.5 0 1.5 .2 1.5-.1 1.5-.2 1.5-.3 1.5-.1 1.5-.1 1.5-.2 1.5-.4 1.5-.1 1.5 0 1.5 0 1.5-.2 1.5-.3 1.5-.3 1.5-.2 1.5-.1 1.5 .1 1.5-.1 1.5-.2 1.5-.4 1.5-.5 1.5-.2 1.5 .2 1.5 .1 1.5 0 1.5-.2 1.5-.2 1.5-.1 1.5-.2 1.5-.2 1.3-.7-1.3-1-1-.5-1.5-.7-1.5-.6-1.5-.5-1.5-.2-1.5 .3-1.5 .1-1-.5-.9-.9-.5-1-.5-1.5-.6-1-.7-1 .2-1.3 1-1.1 1-.8 .9-.8 1.1-.9 1-1 1-1.1 1-.8 1-.5 1.5-.2 1.5 .3 1.5-.2 1-.7 1-.5 1.5-.6 1.5-.5 1.1-.3 1.4-.3 1.3-.2 1.2-.1 1.5 .2 1.5 .1 1.5-.2 1.5-.2 1.5 .1 1.5 .5 1.3 .6 1.2 .4 1.5 .1 1.5 .1 1.2 .4 1.3 .4 1.5 0 1-.5 1-.6 1.5-.4 1.5 .1 1.5 .2 1.5 .3 1.5 .4 1.5 .1 1.5-.3 1.5-.1 1.5-.1 1.5 0 1.5 .1 1.5 .3 1.5 .4 1.4 .7 1.1 .9 1 .9 1.5 .6 0 1.4-.9 1.2-1.1 .9-1 .5-1.3 .6-1.2 .4-1.5 .5-1.5 .5-1.5 .6-1 .4-1.5 .6-1 .5-1 .6-1 .8-1 .7-1 .6-1.5 .6-1.5 0-1.5-.1-1.4 .3-1.1 .6-1.3 .4-1.2 0-1.5-.4-1.5-.6-1-.5-1.5-.2-1.4 .7-.9 1-1.1 1-1.1 .5-1.5 .4-1.5 0-1.5-.3-1.5-.3-1.4 .2-1.1 .7 .2 1.3 .6 1 .6 1.5-.2 1.5-.6 1-1.1 .6-1.5 0-1.2-.1-1.3 0-1.5 0-1.5 .1-1.5 0-1.5 .1-1.5 0-1.5 .1-1.5-.1-1.5 0-1.5 .1-1.5 .2-1.5 0-1.5-.1-1.5-.1-1.5-.1-1.5 0-1.5 0-1.5 0-1.5 0-1.5 0-1.5 .1-1.5 0-1.5 0-1.5 0-1.5 .1-1.1 .1-1.4 0-1.2 0-1.3-.1-1.5-.2-1.5-.4-1.5-.3-1.5 0-1.5 .2-1.3 .3-1.2 .3-1.5 .5-1.5 .4-1.5 .3-1.5 .5-1 .4-.6 1.1 .2 1.5 .2 1.5 0 1.5-.1 1.5-.3 1.5-.4 1.2-.7 1.3-.8 .8-1 .7z"/><path d="M421.5 358.9l-1.5 .1-1.4-.7-1.1-1-.7-1-.6-1.5-.3-1.5-.2-1.5 .2-1.5 .5-1.5 .6-1.3 .5-1.2 .5-1 .9-1 1.1-.8 1.5-.5 1.5 0 1.5 .5 1 .6 1 .7 1 .8 1 .9 1 .7 1.4 .1 1.1-.9 .9-1.1 .8-1 1.3-1 1.3-.5 1.2-.2 1.5 .2 1.3 .5 1.2 1 .9 1 .6 1 .5 1.1 .4 1.4 .2 1.5 .1 1.5-.4 1.5-.5 1-.6 1-.7 .9-1 .8-1.5 .5-1.5 0-1.5-.2-1.5-.2-1.5-.3-1.5-.1-1.3 .1-1.2 .4-1.5 .6-1.5 .1-1.5 0-1.5 .4-1.5 .5-.5 .1z"/><path d="M381.5 345.5l0-1.2 0 1.2z"/><path d="M380 348.1l-.2-1.3 .2 1.3z"/><path d="M380 350.8l-1.2 0 .5-1 .6-1 .5 1-.4 1z"/><path d="M567 364.4l-1.5 .1-1.5-.1-1.5-.2-1.4-.4-1.1-.5-.9-1-.3-1.5 .7-1.3 1-.9 1-.6 1-.5 1.5-.5 1.2-.2 1.3-.1 1.3 .1 1.2 .3 1 .6 1 1 .4 1.1-.3 1.5-.5 1-.9 1-1.2 .7-1.1 .3-.4 .1z"/><path d="M381 369l-1.2-.7-.3-1.1-.2-1.4 .6-1.5 1.1-.4-.7 1.4 0 1.5 .7 1.3 0 .9z"/><path d="M380.5 400.4l-1.5-.5-.7-1.1-.2-1.5-.1-1.5-.3-1.5-.1-1.5 .2-1.5 .4-1.5 .1-1.5 .2-1.5 .1-1.5 .2-1.5 .3-1.5 .2-1.5-.5-1.5-.3-1.1-.2-1.4-.1-1.5 .3-1.4 1-.9 1 .5 .6 1.3 0 1.5-.3 1.5-.5 1.5-.3 1.5 .2 1.5 .4 1.5 .1 1.5 .1 1.5 0 1.5 .2 1.5 .3 1.5-.1 1.5-.2 1.1-.1 1.4 0 1.5 .1 1.2 .1 1.3-.6 1.1z"/><path d="M158 381.9l-1.5-.1-1.5-.3-1.5 .4-1.5 .2-1.5-.2-1.5-.4-1.4-.7-.4-1 .2-1.5 .7-1 1.4-.7 1.5-.2 1.5 .1 1.5 .1 1.5 0 1.5-.3 1.5 0 1.5 .2 1.5 .8-.5 1.4-1 .8-.9 1.3-.6 .9-.5 .2z"/><path d="M398 381.9l-1.5 .1-1.5-.5-1.5-.2-1.5-.5-1-.9-1-1.1 .5-1.1 1.4-.4 1.1-.7 1.5-.4 1.5 .1 1.5 .1 1.5 .2 1 .5 .9 1.2-.3 1.5-.6 1-1 .7-1 .4z"/><path d="M480 389.9l-1.2-.1-1.3-.9-.8-1.1-.3-1.5 .2-1.5 .1-1.5-.5-1.5-.5-1-.6-1-.2-1.5 .5-1 1.1-.6 1.5 .1 1 1 .6 1 1.4 .3 1.5 .5 1 .5 .8 1.2-.2 1.5-.5 1-.8 1-.5 1-.2 1.5-.1 1.2-1 .9-1 .5z"/><path d="M519.5 382.9l-.1-1.1 .1 1.1z"/><path d="M529 385.4l-.7-1.1-.1-1.5 .3-1.5 1.1 .5 .2 1.5-.2 1.5-.6 .6z"/><path d="M381.5 403.2l-.4-1.4 .6 1-.2 .4z"/><path d="M138.5 91.8l-1.4 0-1.1-.8-.3-1.2 .8-1 1.5-.2 1.5 .7 .7 1-.5 1-1.1 .5-.1 0z"/><path d="M379.5 112.3l-.3-1.5-.2-1.5-.1-1.5-.4-1.4 0-1.5 .3-1.1 .2-1.5 .1-1.5 .1-1.5 0-1.5-.1-1.5-.2-1.5-.4-1.2 .1-1.3 .9-.9 1.2 .9-.2 1.3-.4 1.2-.1 1.5 0 1.5 0 1.3 .1 1.2 0 1.5 .1 1.5 .3 1.1 .2 1.4-.5 1.5-.2 1.5-.2 1.5-.1 1.5-.2 .5z"/><path d="M462.5 106.9l-1.5 .1-1.5-.1-1.5-.5-1.5-.6-1.5-.5-1.5-.5-1.4-.5-1-.5-1.1-.6-1-.5-1.5-.1-1.5 .4-1.5 .5-1.4 .3-1.1 .4-1.5 .6-1.2 .5-1.3 .5-1.5 .2-1.5 .2-1.5-.3-1.5-.3-1.4 .2-1.1 .2-1.5-.1-1.5 .1-1.5 .3-1.1 0-1.4-.1-1.5-.1-1.1-.3-1.4-.4-1.5-.5-1-.5-1-.5-1.5-.6-1.3-.5-1.2-1 .6-1 1.4-.8 1-.5 1.5-.6 1.5-.5 1.5-.3 1.5-.3 1.5 0 1.5 0 1.5-.1 1.5 0 1.5 .2 1.5 .2 1.2 .2 1.3 .3 1.5 .1 1.5-.2 1.3-.2 1.2-.1 1.5 0 1.5 .2 1.5 0 1.5 .1 1.5 .2 1.5 .2 1.5 .3 1.5 0 1.5-.2 1.5 0 1.5-.3 1.1-.4 1.1-.5 1.3-.5 1.5-.4 1.5-.2 1.5 0 1.5 .4 1 .5 1 .5 1.5 .5 1.5 0 1.4 .2 1.1 .3 1.5 .4 1.5 0 1.5-.7 1-1 .9-1 1-1 1-1 .8-1 1.3-.1 1 .7 1 .5 1.5 .3 1.5 .2 1.5 .2 1.5 .5 1.5 .6 1.5 .6 1.5 .5 1.5 .2 1.5 .3 1.5 .3 1.5 .3 1.5 .3 1.5 .2 1.3-.1 1.2-.2 1.5 0 1.5 .1 1.5 .2 1.4 .4 1.1 .7 0 1.3-1 .9-1 .5-1.5 .3-1.5 .1-1.5-.2-1.5-.4-1.5 0-1.5 .5-1.5 .4-1.5 .3-1.5 .3-1.5 .1-1.5 0-1.5 0-1.5 0-1.5 .2-1.5 .3-1.5 .3-1.5 .2-1.5 .1-1.5 0-1.5-.1-1.5 0-1.5-.2-1.5-.4-1.5-.5-1.5-.4-1.5-.1-1.5 .6-1 .5-1.5 .6-1.5 .4-1.5 .4-1.2 .3-.3 .1z"/><path d="M395 104.8l-1.5 .1-1.5 0-1.5-.2-1.5-.4-1.5-.5-1.3-.5-1.2-.9-.3-1.1 .6-1 1.2-.4 1.5-.3 1.2-.3 1.3-.4 1.5-.3 1.5-.1 1.5 .1 1.5 .2 1.5 .2 1.5 .1 1.3 .2 1.2 .4 1 .6 .6 1-.6 1.2-1 .6-1.5 .5-1.5 .4-1.5 .3-1.5 .3-1 .2z"/><path d="M154 103.4l-1.5 .3-1.5 0-1.5-.2-1.5-.4-1.2-.8 1.2-.6 1.5-.2 1.5-.1 1.5 .1 1.5 .3 1 .4-.5 1.1-.5 .1z"/><path d="M433 111.4l-1.5-.2-1-.4 .9-1 1.1-.2 1 .6-.1 1.1-.4 .1z"/><path d="M428 114.9l-1.2-.1-.7-1-.8-1 .7-.8 1.5 .1 1.3 .2 .4 1.5-.7 .9-.5 .2z"/><path d="M379.5 129.1l-.5-1 .3-1.3 0-1.5 .2-1.5 .2 1.5 0 1.5 .3 1.1-.5 1.2z"/><path d="M548 213.8l-1.3 0-.9-1-.8-1-1.5-.3-1.4-.7-.5-1.5 .2-1.5 .5-1 .5-1.5 .3-1.5-.4-1.5-.3-1.5 .1-1.2 .2-1.3 .3-1.5 .3-1.5-.1-1.5-.5-1.5-.7-.9-.6-1.1 .3-1.5 .8-.9 1-1.1-.5-1.1-.9-.9-.7-1-.4-1.5-.3-1.5-1.1-1-.4-1.5 .3-1.4 1-.9 1.4-.2-.5-1 .4-1.5 .5-1 .5-1-.2-1.5 0-1.5 0-1.5-.6-1.4-.3-1.1-.2-1.2-.3-1.3 .8-1.4 .9-1.1 .6-1-.1-1.5-.5-1-.4-1.1-.3-1.4-.2-1.2 .3-1.3 .6-1 .4-1.5-.1-1.5-.6-1.5-.3-1.5 .7-1.5-.2-1.5-.6-1-.1-1.5 .9-1 1.2 0 1.3 .5 1.3 0 1-1-.1-1.5-1.2-.7-1-.5-.3-1.3 .8-.9 1.5-.5 1.2 .4 .7 1 .5 1 .5 1.5 .5 1 .8 1 .6 1 0 1.5 .1 1.5 .4 1.5-.3 1.3-.7 1.2-.8 .8-.6 1.2-.2 1.5-.1 1.5-.4 1.5-.4 1.5-.3 1.1 .3 1.4 .8 1 .3 1.5 .1 1.5 0 1.5-.1 1.5-.1 1.5-.2 1.5-.1 1.1 .5 1.1 .4 1.3-.2 1.5-.4 1.5 .1 1.5 .1 1.5 .3 1.5 .2 1.2 .2 1.3 0 1.5 .2 1.5-.2 1.5-.1 1.5-.1 1.5-.2 1.5-.3 1.3-.2 1.2-.1 1.5-.3 1.5-.4 1.4-.2 1.1 0 1.5 .2 1.5 0 1.5 .3 1.5 .3 1.5 .3 1.5 .4 1.5 .2 1.5 0 1.5-.3 1.5-.9 1-.8 .8-1 .7z"/><path d="M159.5 142.3l-1.3-.5-1.2 .1-1 .5-1.5 .2-1.5-.6-1.5-.3-1 .9-1.4-.3-1.1-.6-1.5-.3-1.5-.1-1-.5-.6-1-.1-1.5 .5-1.5 1.2-.7 1.5 .4 1 .7 1 .5 .1-1.4 .6-1 1.3-.6 1.4-.4 1.6 0 1.5 .4 1.5 .5 1.5 .5 1.5 .5 1.2 .1 .7 1 .6 1 .1 1.5-.7 1-.9 .9-1 .6z"/><path d="M128 138.1l-1.5-.3 0-1.1 1.2-.4 1 .5-.7 1.3z"/><path d="M106.5 138.3l-1.3-.5 .8-.9 1.5-.1 1.2 .5-1.2 .8-1 .2z"/><path d="M101.5 137.9l-1.5 .4-1.5-.1-1.5-.3 1-.7 1.5-.1 1.5 .1 .5 .7z"/><path d="M154.4 139.3l-.9-.7 .5 1.2 .4-.5z"/><path d="M379.5 142.1l-.8-.8 .8-.8 .1 1.3-.1 .3z"/><path d="M107 147.3l-1.5 .1-1.2-.1-1.3-.4-1-.5-1 .6-1 .4-1.5-.5-.6-1.1 .6-1.3 .8-1.2 1.2-.9 1 .9 .7 1 1.3 .2 1.5-.7 1-.8 1.5 0 1.5 .2 1.1 .6-.6 1-.6 1-.6 1-1.3 .5z"/><path d="M146.5 177.4l-1.5 0-1-.7-.7-1.4-.1-1.5 0-1.5 .3-1.2 1-1.2 1-.6 1.5-.4 1.5-.1 1.5 0 1.5 .2 1.3 .3 1.2 .5 1 .7 .8 .8 .2 1.5-1.5 .5-1.5 .2-1.5 .6-.9 .7-1.1 1-1 1-1.5 .4-.5 .2z"/><path d="M526 181.3l-1.3 0-1.1-1-.7-1-.7-1-1.2-.4-1 .5-1.1-.6 .1-1.1 .8-.9 .7-1 .4-1.5 .6-1 1.5-.3 1.5 .1 1.5 .2 1 .7 1.5-.1 1.5 .2 .7 1.2-1.2 .9-1.2 .1-1.3-.2 0 1.2 .2 1.5 .3 1.5-.5 1-1 1z"/><path d="M537 180.4l-1.5 .2-1.5-.3-.2-1.5 .2-1.5 .1-1.5 .4-1.1 .5-1.2 1-.8 1.4 .1 .9 1 .6 1-.2 1.5-.2 1.5-.3 1.5-.7 .9-.5 .2z"/><path d="M379.5 176l-.4-1.2 .7 1-.3 .2z"/><path d="M152.5 182.9l-1.5 .3-1.5-.2-1.5-.6-1-1-.2-1.1 .4-1.5 .8-1 1-.8 1.5 .5 1 .6 1 .5 1 .9 .7 1.3-.6 1.5-1.1 .6z"/><path d="M379 179.8l-.1-1.5 .1 1.5z"/><path d="M127.5 184.3l-.9-1-.1-1.5 .2-1.5 .7-1 1.1 1-.2 1.5-.3 1.5-.5 1z"/><path d="M107.5 197.8l-1.3 0-.2-1.2 1.5 .2 0 1z"/><path d="M377.5 202.3l-1.5 0-1.5 .1-1.5 0-1.5-.1 1.5-.1 1.5 0 1.5 .1 1.5 0z"/><path d="M442 211.8l-1.5 .3-1.5 0-1.5 0-1.5 0-1.5 .1-1.5 0-1.5 0-1.5 0-1.5 .1-1.5 0-1.5 0-1.5 0-1.5-.1-1.5 .1-1.5-.1-1.5 0-1.5 0-1.5 0-1.5 0-1.5 0-1.5 0-1.5 0-1.5 0-1.5 0-1.5 0-1.5 0-1.5 0-1.5 0-1.5 0-1.5 0-1.5 0-1.5 0-1.5 0-1.5-.1-1.5 0-1.5 0-1.5 0-1.5 0-1.5 0-1.5-.3-1.2-.5-.8-.7-.7-1.3-.2-1.5 .4-1.1 1-1.4 1-.7 1.5-.2 1.5 0 1.5-.1 1.5 0 1.5 0 1.5 0 1.5 0 1.5 0 1.5 0 1.5 0 1.5-.1 1.5 0 1.5 0 1.5-.1 1.5 0 1.5 0 1.5 0 1.5 0 1.5 0 1.5 0 1.5 0 1.5-.1 1.5 0 1.5 0 1.5 0 1.5 0 1.5 0 1.5 0 1.5 0 1.5 0 1.5 0 1.5 0 1.5 0 1.5 0 1.5 0 1.5 .1 1.5 0 1.5 0 1.5-.1 1.5 .2 1.5 .2 1.5 0 1.5 0 1.5 0 1.5 0 1.5 0 1.5 .1 1.5 0 1.5 0 1.5 .1 1.5 .1 1.1 .1 1.4 0 1.5 0 1.5 0 1.5 0 1.5 0 1.5 0 1.5 .1 1.5 0 1.5 0 1.5 0 1.5 0 1.5 0 1.5 .1 1.5 0 1.5 .1 1.5 0 1.5 .1 1.5 0 1.5 0 1.5 0 1.5 0 1.5 0 1.5 .1 1.5 0 1.5 .1 1.5 0 1.5 0 1.5 .1 1.5 0 1.5 .1 1.5 0 1.5 0 1.5 0 1.5 0 1.5 0 1.5 0 1.5 .1 1.5 0 1.5 .1 1.5 0 1.5 .1 1.5 0 1.5 0 1.5 .1 1.5 0 1.5 .1 1.5 .2 1.5 .1 1.5 .1 1.5 .2 1.5 .4 1 .7-1 .8-1.5 .4-1.5 .1-1.5 .1-1.2 .1-1.3 .2-1.5 .1-1.5 .1-1.5 .1-1.5 0-1.5 0-1.5 .1-1.5 0-1.5 .1-1.5 .1-1.5 0-1.5 .1-1.5 0-1.5 0-1.5 0-1.5 .1-1.5 0-1.5 .1-1.5 0-1.5 .1-1.5 0-1.5 .1-1.5 0-1.5 .1-1.5 0-1.5 0-1.5 0-1.5 0-1.5 0-1.5 0-1.5 0-1.5 0-1.5 .1-1.5 .1-1.5 .1-1.5 .1-1.5 0-1.5 0-1.5 .1-1.5 0-1.5 0-1.5 0-1.5 0-1.5 0-1.5 0-1.5 .1-1.5 0-1.5 0-1.5 .1-1.5 .1-1.5 0-1.5 .1-1.5 0-1.5 .1-1.5 0-1.5 0-1.5 0-1.5 0-1 .1z"/><path d="M99 208.8l-1.5 .1-1-.5-.9-.6 .9-.9 1-.5 1.5 0 1.5 .5 1.5-.4 1.5-.1 1 .6 0 1.2-1 .5-1.5 0-1.5-.3-1.4 .4-.1 0z"/><path d="M68 207.9l-1.5 .3-1-.5 1.2-.4 1.3 .4 0 .2z"/><path d="M379 267.7l-.7-.9 .7 .9z"/><path d="M380 289l-.6-1.2 .7 1-.1 .2z"/><path d="M251 297.9l-1.5 .3 0-1.1 1-1 1-.7 .9-.6 1.1-.6 1-.5 1-.5 1-.4 1.3 0-.8 1-1 .8-.9 .7-1.1 .8-.9 .7-1.1 .7-1 .4z"/><path d="M379.5 332.9l-.9-1.1 .4-1.4 .8 .9 .2 1.3-.5 .3z"/><path d="M484 362.8l-1.5 .3-1.5-.2-1.4-.6-1.1-.9-.7-1.1-.5-1.5 0-1.5 0-1.5 0-1.5 0-1.5 .2-1.5 .4-1.5 .6-1.5 .5-1 .5-1.3 .2-1.2 .1-1.5-.2-1.5-.2-1.5 0-1.5 .6-1.5 1-.8 1.5-.4 1.4 .2 1.1 .4 1 .6 1 .5 1.5 .5 1.5-.3 1.5-.7 1-.7 .9-.8 1.1-.8 1.5-.3 1.2 .6 .5 1 0 1.5-.2 1.3-.1 1.2-.4 1.4-.5 1-.7 1.1-.6 1-.5 1.5-.5 1.5-.7 1.5-.4 1-.5 1-.6 1-.5 1-.4 1-.6 1.2-.5 1.2-.6 1.1-.6 1-.7 1-.6 .9-1 .9-1 .6-1.4 .6-.1 0z"/><path d="M381 339l-1.3-.7 .8-1.1 .9 1.1-.4 .7z"/><path d="M547 349.1l-1.2-.8-.3-1.5 .3-1.5 .3-1.5-.5-1.5-.2-1.5 .4-1.5 .1-1.5 1.1-.3 .1 1.3 0 1.5 .2 1.5 0 1.5 .2 1.5 .3 1.5-.1 1.5-.7 1.3z"/><path d="M381 342l-1-.6 .4-1.1 1 .5-.4 1.2z"/><path d="M439.5 355.9l-1.5 .1-1.3-.2-1.2-.5-1-.6-.9-.9-.4-1.5 .2-1.5 .2-1.5 .2-1.5 .7-1.4 1-1.1 1-.5 1.5-.2 1.5 .4 1 .6 1 1 .7 1.2 .5 1.5 .1 1.5-.2 1.5-.6 1.3-.9 1.2-1.1 .9-.5 .2z"/><path d="M213.5 356.9l-1.5 .3-1.5-.3-1-.8-1-1.3-1-.9-1.5-.4-1.4-.7 .7-1 1-1 .6-1 .8-1 1.3-.8 1.5-.3 1.5-.1 1.2-.3 1-.5 1.3-.8 1.5-.5 1.5-.2 1.5 .2 1.2 .3 1.3 .3 1.5 .1 1.5 .1 1.5 0 1.5-.1 1.5-.3 1.5 .4 .9 1 .6 1.4-.4 1.6-1.1 .6-1.5 .7-1 .4-1 .6-1 .6-1 .6-1 .5-1 .5-1 .6-1 .5-1 .5-1.5 .2-1.5-.2-1.5-.2-1.4 .1-1.1 .4-.5 .2z"/><path d="M421 356.9l-1.5-.5-.8-1.1-.5-1.5 0-1.5 .3-1.2 .9-1.3 .5-1.5 .4-1.5 .9-1 1.3-.3 1 .6 .3 1.2-.8 1.5-1 .5-1 .6 0 1.3 .9 1.1 1.1 .9 .5 1.1-.5 1.2-1 1-1 .4z"/><path d="M192.5 358.4l-1.5 .4-1.5 0-1.5-.2-1.5-.7-1-.8-1-.7-1-.5-1.5-.4-1.1-.2-1.4-.2-1.5-.2-1.5-.3-1.5-.7-.9-1.1 .4-1.4 1-.9 1-.7 1-.5 1.3-.5 1.2-.3 1.5 .2 1.5 .6 1 .6 1 .6 1 .6 1.3-.3 .7-.8 .8-1.2 .7-1 1-.8 1.5-.1 1.2 .4 1.3 .8 1.5 .4 1-.5 .9-.7 1.1-.8 1-.5 1.5 .3 .5 1-.2 1.5-1.3 .8-1 .7-.7 1-.4 1.5 .1 1.5-.1 1.5-.9 .8-1.5 .4-1.5 .5-1 .5-1 .4z"/><path d="M427.5 353.6l-1.5 0-1-.5-.2-1.3 .7-1.4 1.5-.1 1 .8 .4 1.2-.9 1.3z"/><path d="M547.5 365.9l-1.5 .2-.8-.8-.3-1.5 .2-1.5 .4-1.5 0-1.2-.2-1.3-.2-1.5-.1-1.5 .2-1.5 .2-1.5 .4-1.5 1.2 0 .4 1.5 .3 1.5 .2 1.5-.1 1.5 0 1.5 0 1.5-.1 1.5 .1 1.5 .1 1.5-.3 1.5-.1 .1z"/><path d="M566.5 363.4l-1.5 .1-1.5-.3-1.5-.7-.9-1.2 .4-1.5 1-1 1-.6 1.5-.3 1.5-.1 1.5 .2 1 .6 .7 1.2-.2 1.5-.7 1-1.3 .8-1 .3z"/><path d="M175 368.8l-1.5 .2-1.5 0-1.5-.3-1.5-.3-1.5-.2-1.5 .2-1.5 0-1.5 0-1.4-.1-1.1-.1 1-1.1 1.5-.2 1.5-.1 1.5 .1 1.5 .1 1.1-.2 1.4-.5 1.3-.5 1.2-.3 1.5 0 1.5 .2 1.5 .2 1.5-.1 1.5-.2 1.5-.2 1.5-.1 1.5 .1 1.5 0 1.5-.1 1.5-.1 1.5-.2 1.5 0 1.4 .8 .4 1.5-.7 1-1.1 .2-1.5-.1-1.5-.1-1.5 .1-1.5 0-1.5 .1-1.5 0-1.5 .1-1.5 0-1.5-.2-1.5 .1-1.5 .2-.5 .1z"/><path d="M127.5 382.4l-1.2-.1-1-1-.6-1.5-.2-1.2-.1-1.3 .2-1.5 .2-1.5 .5-1.5 .7-1.4 .5-1.1 .5-1.4 1-.6 1.5 .2 1.5 .1 1.5 .2-.8 1-1.2 .4-1 .6 0 1.5 .4 1.5 .2 1.5 0 1.5-.1 1.2-.2 1.3-.6 1.5-.7 1-1 .6z"/><path d="M380 377.6l-1-.5-.3-1.3 .2-1.5 1.1-.6 .7 1.1 0 1.5-.7 1.3z"/><path d="M398 380.9l-1.5 .2-1.5-.7-1.5-.5-.3-1.1 1.2-1 1.1-.5 1.5-.1 1.5 .5 .7 1.1-.5 1.5-.7 .6z"/><path d="M477.5 380.4l-.9-1.1 1.3 0-.4 1.1z"/><path d="M380 399.8l-1-.9 0-1.4 .1-1.2-.6-1.4-.4-1.1-.1-1.5 .5-1.5 .5-1.3 1-.5 .7 1.3 .2 1.5-.3 1.5-.5 1.5-.3 1.5 .4 1.5 .3 1.5-.5 .5z"/><path d="M380 93.8l-1.2-.5 .7-1.4 .8 .9-.3 1z"/><path d="M485.5 104.3l-1.5 .2-1.5 0-1.5-.2-1.5-.1-1.5-.2-1.5-.4-1.5-.7-.5-1.1 .7-1 .8-.9 .9-1.1 .8-1 1.3-1 .9-.5 1.6-.2 1.5 .1 1.5 .1 1.5 .2 1.5 .2 1.5 .5 1 .5 1 .6 1 .6 1 .5 1.3 .4 1.2 .4 1 1.1-.9 1-1.1 .3-1.5 .2-1.5 .2-1.4 .3-1.1 .3-1.5 .4-1.5 .3-.5 0z"/><path d="M461.5 105.4l-1.5 0-1.5-.6-1-.5-1-.6-1-.8-.6-1.1 .6-1.5 .9-1 1.1-.7 1.5-.5 1.5-.1 1.1 .3 1.3 1 .6 .9 .8 1.1 .6 1-.4 1.4-1 .8-1 .6-1 .3z"/><path d="M435.5 104.8l-1.5-.2-1.2-.3-1.3-.1-1.5 .2-1.5 .1-1.5 .1-1.5 .1-1.5-.2-1.5-.2-1.5 .1-1.5-.2-1.1-.4-1.4-.8-.9-1.2 .3-1.5 1.1-.7 1.5-.5 1.5-.3 1.5 .1 1.5 .1 1.5 0 1.5 0 1.5 .1 1.5 .2 1.5 .3 1.5 .4 1.5-.2 1.5-.4 1.5-.1 1.5 .2 1.4 .3 1.1 .3 1.5 .4 0 1.3-1 .7-1 .7-1 .4-1.5 .6-1.5 .5-1 .1z"/><path d="M395.5 103.3l-1.5 .2-1.5 0-1.3-.2-1.2-.5-.8-1 .8-.8 1-.6 1.5-.6 1.5-.1 1.5 .1 1.5 .4 1.5 .5 1 .6-.8 1-1.2 .5-1.5 .4-.5 .1z"/><path d="M379.5 107.1l-.8-1.3 .3-1.3 1.2 .3 0 1.5-.7 .8z"/><path d="M548 213l-1.4-.2-.6-1-.6-1-.4-1.1-.9-1.4-.3-1.5 0-1.5 .1-1.5-.1-1.5 0-1.5-.1-1.5-.2-1.5 .1-1.5 .2-1.5 .1-1.5-.1-1.5-.7-1-.1-1.4 1-.9 .5-1.2-.2-1.5-.5-1-.8-.9-.6-1.1 .6-1.3 1.5-.5 .5-1.2-.6-1-.5-1.5-.3-1.5-.5-1-.2-1.5 .6-1.4 .5-1 0-1.5 0-1.6-.1-1.5-.2-1.5 0-1.5-.6-1.5 .4-1.5 .5-1 .5-1 0-1.2-.7-1.3-.6-1.5-.2-1.5 .5-1.5 .5-1 .1-1.5 0-1.5-.4-1.5-.5-1 0-1.5 .5-1 0-1.5-.5-1.5 .8-.9 1.5 .1 1.5 0 1-.7 1-.8 1.2 .3 .8 .8 .4 1.2 0 1.5 .4 1.5-.2 1.5-.8 1-.8 1-.2 1.5-.2 1.5-.2 1.5-.6 1-.8 1-.1 1.5-.8 1-.4 1.5 1.3 .7 1 .5 .6 1.3 .2 1.5-.1 1.5-.4 1.5-.1 1.5-.4 1.5-.3 1.5 .6 1 .3 1.5-.3 1.5 .2 1.5 .3 1.5 .3 1.5 .4 1.5 .1 1.5-.1 1.5 0 1.5 0 1.5-.2 1.5 0 1.5-.1 1.5-.3 1.5-.1 1.5-.1 1.2-.3 1.3-.2 1.5-.3 1.5-.2 1.5 .2 1.5 0 1.5 .2 1.5 0 1.5 .5 1 .6 1 .3 1.5 0 1.5-.1 1.5-.7 1-1 .9-.5 .3z"/><path d="M150.5 172.3l-1.5 .4-1.5-.4-.4-1 .9-.7 1.5-.2 1.5 .3 .2 1.1-.7 .5z"/><path d="M441 211.9l-1.5 .1-1.5-.1-1.5 .1-1.5 .1-1.5 0-1.5 0-1.5 0-1.5 .1-1.5 0-1.5 0-1.5 0-1.5 0-1.5 0-1.5 0-1.5 0-1.5-.1-1.5 .1-1.5 0-1.5 0-1.5-.1-1.5 0-1.5 0-1.5 0-1.5 0-1.5 0-1.5 0-1.5 0-1.5 0-1.5 0-1.5 0-1.5 0-1.5 0-1.5-.1-1.5 0-1.5 0-1.5 0-1.5 0-1.5 0-1.5-.1-1.5-.6-1-.9-.6-1.1-.2-1.5 .5-1.5 .8-.9 1-.6 1.5-.4 1.5 0 1.5 0 1.5 0 1.5 0 1.5 0 1.5 0 1.5 0 1.5-.1 1.5 0 1.5 0 1.5 0 1.5 0 1.5 0 1.4 0 1.1 0 1.5 0 1.5 0 1.5 0 1.5-.1 1.5 0 1.5 0 1.5 0 1.5 0 1.5 0 1.5-.1 1.5 0 1.5 0 1.5 0 1.5 0 1.5 0 1.5 0 1.5 0 1.5 0 1.5 .1 1.5 0 1.5 .1 1.4 0 1.1-.1 1.5 0 1.5 .2 1.5 .1 1.5 0 1.5 0 1.5 0 1.5 .1 1.5 0 1.5 0 1.5 0 1.5 .1 1.5 .1 1.5 .1 1.5 0 1.5 0 1.5 0 1.5 0 1.5 0 1.5 0 1.5 .1 1.5 0 1.5 0 1.5 0 1.5 0 1.5 .1 1.5 0 1.5 .1 1.5 .1 1.5 0 1.5 0 1.5 .1 1.5 0 1.5 0 1.5-.1 1.5 0 1.5 .1 1.5 0 1.5 0 1.5 .1 1.5 0 1.5 .1 1.5 0 1.5 .1 1.5 .1 1.5-.1 1.5 0 1.5 .1 1.5 0 1.5 0 1.5 0 1.5 0 1.5 .1 1.5 0 1.5 .1 1.5 0 1.5 0 1.5 .1 1.5 .1 1.5 .1 1.5 .1 1.5 .1 1.5 .1 1.2 .2 1.3 .2 1 .5-1 1.1-1.5 .3-1.5 .1-1.5 .2-1.5 .1-1.5 .1-1.5 .2-1.5 .1-1.5 0-1.5 0-1.5 .1-1.5 0-1.2 0-1.3 .1-1.5 0-1.5 .1-1.5 .1-1.5 0-1.5 0-1.5 .1-1.5 0-1.5 0-1.5 .1-1.5 0-1.4 0-1.1 0-1.5 .1-1.5 .1-1.5 .1-1.5 0-1.5 0-1.5 0-1.5 0-1.5 0-1.5 0-1.5 0-1.5 .1-1.5 0-1.5 .1-1.5 0-1.5 .1-1.5 .1-1.5 0-1.5 0-1.5 .1-1.5 0-1.5-.1-1.5 0-1.5 .1-1.5 0-1.5 .1-1.5 0-1.5 0-1.5 .1-1.5 0-1.5 .1-1.5 0-1.5 .1-1.5 0-1.5 .1-1.5 0-1.5 0-1.5 .1-1.2 .1-.3 .1z"/><path d="M98.5 208.5l-1.1-.2 .1-1.3 1.5 0 0 1.3-.5 .2z"/><path d="M103.5 207.9l-1.5 0 1-.8 .5 .8z"/><path d="M494.5 343l-1.5 .1-1-.5-.8-1.3 .7-1.5 1.1-1 1-.5 1.3 0 .8 1 .2 1.5-.7 1.5-1.1 .7z"/><path d="M484 361.5l-1.5 .2-1.5-.4-1-.7-.8-1.3-.2-1.2 .1-1.3 .3-1.5 0-1.5 0-1.5 .1-1.2 .4-1.3 .6-1.3 .5-1.2 .4-1.5 .2-1.5 .1-1.5-.2-1.5 .2-1.5 .8-.8 1.1 .3 .7 1 .6 1.5 .5 1 .7 1 .9 .8 .9 .7 1.1 .9 1 .7 .8 .9 .1 1.5-.4 1.1-.9 1.4-.7 1-.5 1-.4 1.5-.5 1.5-.5 1.5-.5 1.1-.7 .9-1.3 .9-.5 .3z"/><path d="M439.5 353.9l-1.5 .3-1-.4-1-1-.4-1.5 .1-1.5 .3-1.5 .8-1 1.2-.4 1.5 .4 1 .9 .6 1.1 .3 1.5-.4 1.5-.7 1-.8 .6z"/><path d="M221.5 353.4l-1.5 .2-1.5-.2-1-.4-1-1.1-.5-1 0-1.5 .8-1.1 1.2-.7 1.5-.1 1.5 .2 1.5 .4 1.5 .4 1 .5 .8 .8-.2 1.5-1.1 .8-1.5 .7-1.3 .5-.2 .1z"/><path d="M182 353.9l-1.5 .2-1.5 0-1.3-.3-1.2-.5-.8-1 .8-1.3 1-.6 1.5-.5 1.5-.1 1.5 .4 1 .6 .7 1-.2 1.2-1 .7-.5 .2z"/><path d="M546.5 358.6l-.5-1.3-.2-1.5 .1-1.5 .6-1.2 .6 1.2 .1 1.5-.2 1.5-.5 1.3z"/><path d="M565.5 362.3l-1.5-.2-1-.8 0-1.3 1-.9 1.5-.2 1.5 .3 .7 1.1-.7 1.5-1 .5-.5 0z"/><path d="M547 365.5l-1.1-.2-.4-1.5 .5-1.4 1 .6 .3 1.3-.3 1.2z"/><path d="M128 381l-1.5 .1-1-1.3-.4-1.5-.1-1.5 .1-1.5 .4-1.5 .5-1.2 1-1.2 1.4 .4 .6 1 .5 1.5 .2 1.5-.1 1.5-.3 1.5-.7 1.5-.6 .7z"/><path d="M380 376.4l-.7-1.1 .7-.9 .2 1.4-.2 .6z"/><path d="M379.5 393.9l-1.1-.6 .1-1.3 .5-1 1-.7 .6 1-.3 1.5-.7 1-.1 .1z"/><path d="M486 102.9l-1.5 .2-1.5 .1-1.5-.2-1.2-.2-1.3-.4-1-.7-.3-1.4 .5-1 1.3-1 1.5-.5 1.5 0 1.5 0 1.5 0 1.5 .3 1.5 .7 1 1 0 1.2-.9 .8-1.1 .6-1.3 .4-.2 .1z"/><path d="M549.5 139.9l-.6-1.1 1.1 .5-.5 .6z"/><path d="M548 150.5l-1.5 .1-1-.5-.6-1.3-.1-1.5-.2-1.5-.6-1-.1-1.5 .6-1 .3-1.5 .7-1.1 1.5 0 .6 1.1 .4 1.2 1.5 0 0 1.1-1.1 .7 .2 1.5 .3 1.5 .1 1.5-.3 1.5-.7 .7z"/><path d="M545.5 155.1l-1.1-.8 .6-1.2 1.1 .7-.6 1.3z"/><path d="M548.5 161.9l-1-.5-1-.7-1-.4 .2-1.5 .8-.9 1.3 .4 .8 1 .3 1.5-.4 1.1z"/><path d="M548 212l-1-.5-.3-1.2-.2-1.4-.5-1.1-.6-1-.4-1-.2-1.5 0-1.5 .5-1.5-.2-1.5-.6-1.5-.3-1.5 .1-1.5 .2-1.2 .3-1.3 .3-1.5 .4-1.5 .5-1 0-1.5-.6-1-.3-1.5-.6-1.4 .4-1.1 1.1 0 1.2-.5-.5-1-.7-1-.6-1-.6-1.5-.1-1.5-.6-1.5 .1-1.5 .5-1 .4-1.5 0-1.5 .3-1.5 1.1 .4 1 1 .6 1.1-.2 1.5 .1 1.4 .4 1.1 .4 1.5 .4 1.5 .3 1.5-.1 1.5-.4 1.5-.4 1.5 .3 1.5 .1 1.5-.3 1.5 .1 1.5 0 1.5 0 1.5-.3 1.4 0 1.1-.1 1.5-.4 1.4-.4 1.1-.2 1.5 .1 1.5 .2 1.5 0 1.5 .8 1.4 .7 1.1 .3 1.5-.1 1.5-.4 1.5-1 .7z"/><path d="M435.5 211.8l-1.5 .1-1.5 .1-1.5 0-1.5 0-1.5 .1-1.5 0-1.5 0-1.5 0-1.5 0-1.5 0-1.5 0-1.5-.1-1.5 0-1.5 .1-1.5-.1-1.5 0-1.5 0-1.5 0-1.5 0-1.5 0-1.5 0-1.5-.1-1.5 0-1.5 0-1.5 .1-1.5 0-1.5 0-1.5 0-1.5-.1-1.5 0-1.5 0-1.5 0-1.5-.1-1.5 0-1.5 0-1.5-.3-1-.7-.8-1-.4-1.5 .3-1.5 .6-1 1.3-.9 1.5-.4 1.5 0 1.5 0 1.5 0 1.5 0 1.5-.1 1.5 0 1.5 0 1.5 0 1.5 0 1.5 0 1.5 0 1.5 0 1.5 0 1.5-.1 1.5 0 1.5 0 1.5 .1 1.5-.1 1.5 0 1.5 0 1.5 0 1.5 0 1.5 0 1.5 0 1.5 0 1.5 0 1.5 0 1.5 0 1.5 0 1.5 0 1.5 0 1.5 0 1.5 0 1.5 0 1.5 .1 1.5 0 1.5 0 1.5-.1 1.5 .1 1.5 .2 1.5 .1 1.5 0 1.5 0 1.5 0 1.5 .1 1.5 0 1.5 0 1.5 0 1.5 .1 1.5 .1 1.5 0 1.5 .1 1.5 0 1.5 0 1.5 0 1.5 0 1.5 0 1.5 0 1.5 0 1.5 0 1.5 .1 1.5 0 1.5 .1 1.5 0 1.5 .1 1.5 0 1.5 0 1.5 .1 1.5 0 1.5 0 1.5-.1 1.5 0 1.5 0 1.5 .1 1.5 0 1.5 .1 1.5 .1 1.5 0 1.3 .1 1.2 0 1.5 .1 1.5 0 1.5 0 1.5 0 1.5 0 1.5 0 1.5 0 1.5 0 1.5 .1 1.5 0 1.5 .1 1.5 0 1.5 .1 1.5 0 1.5 .1 1.5 0 1.5 .1 1.5 .2 1.5 .1 1.5 .2 1.5 .3 1 .6-1 .7-1.5 .2-1.5 .2-1.5 .2-1.5 .1-1.5 .1-1.5 .1-1.5 .1-1.5 .1-1.5 0-1.5 .1-1.5 0-1.5 0-1.5 .1-1.5 0-1.5 .1-1.5 0-1.5 .1-1.5 0-1.5 .1-1.5 0-1.5 .1-1.5 0-1.5 0-1.5 0-1.5 .1-1.3 0-1.2 .1-1.5 0-1.5 0-1.5 0-1.5 0-1.5 0-1.5 0-1.5 0-1.5 .1-1.5 .1-1.5 .1-1.5 0-1.5 .1-1.5 0-1.5 0-1.5 .1-1.5 0-1.5 0-1.5 0-1.5 0-1.5 0-1.5 .1-1.5 0-1.5 .1-1.5 0-1.5 0-1.5 .1-1.5 0-1.5 .1-1.5 0-1.5 0-1.5 .1-1.5 0-1.5 0-1.5 .1-1.5 .2-1.5 .1-1.5 0-1.5 0-1.5 0z"/><path d="M439 352.6l-1.5-.3-.5-1 .5-1.5 1-.5 1.1 .5 .4 1-.5 1.4-.5 .4z"/><path d="M181 352.9l-1.5 .2-1.4-.3-.5-1 .9-.7 1.5-.3 1.5 .5 0 1.3-.5 .3z"/><path d="M128 380l-1.5 0-.7-1.2-.3-1.3-.1-1.2 .2-1.5 .4-1.1 1-1.3 1.3 .4 .6 1 .3 1.5 0 1.5-.2 1.3-.5 1.2-.5 .7z"/><path d="M483.5 101.4l-1.5 .3-1.5-.3-.8-1.1 .8-.8 1.5-.2 1.5 .3 1 .7-.7 1-.3 .1z"/><path d="M546 144.7l-1-.5 .5-1.2 .7 1.3-.2 .4z"/><path d="M547.5 148.9l-1.4-.6-.2-1.5 .5-1 1 .5 .5 1.5-.4 1.1z"/><path d="M548 179.4l-1.2-.1-.7-1-.3-1.5 .1-1.5 .6-1.2 1 1 .5 1.2 .3 1.5-.2 1.5-.1 .1z"/><path d="M546 197.9l-1-1.1 0-1.5 .5-1.3 1-.7 1 1 .1 1.5-.6 1.5-1 .6z"/><path d="M432.5 211.8l-1.5 0-1.5 .1-1.5 0-1.5 0-1.5 0-1.5 0-1.5 0-1.5 0-1.5 0-1.5 0-1.5 0-1.5 0-1.5 0-1.5-.1-1.5 0-1.5 0-1.5 .1-1.5-.1-1.5 0-1.5 0-1.5 0-1.5 0-1.4 0-1.6 0-1.5 0-1.5 0-1.5 0-1.5 0-1.5 0-1.5 0-1.5 0-1.5 0-1.5 0-1.5-.4-1-.7-.7-.9-.3-1.3 0-1.2 .5-1 1-1 1-.5 1.5-.2 1.5 0 1.5 0 1.5 0 1.5 0 1.5-.1 1.5 0 1.5 0 1.5 0 1.5 0 1.5-.1 1.5 0 1.5 0 1.5 0 1.5 0 1.5 0 1.5 0 1.5 0 1.5 0 1.5 0 1.5 0 1.5 0 1.5 0 1.5 0 1.5 0 1.5 0 1.5 0 1.5 0 1.5 0 1.5 0 1.5 0 1.5 0 1.5 0 1.5 0 1.5 0 1.5 .1 1.5 0 1.5 0 1.5 0 1.5 .2 1.5 .1 1.5 0 1.5 .1 1.5 0 1.5 0 1.5 0 1.5 0 1.5 0 1.5 .1 1.5 .1 1.5 .1 1.5 0 1.5 .1 1.5 0 1.5 0 1.5 0 1.5 0 1.5 0 1.5 0 1.5 0 1.5 0 1.5 0 1.5 .1 1.5 0 1.5 0 1.5 .1 1.5 0 1.5 .1 1.5 0 1.5 0 1.5 0 1.5 0 1.5 0 1.5 0 1.5 0 1.5 .1 1.5 .1 1.5 0 1.5 .1 1.5 0 1.5 .1 1.5 0 1.5 0 1.5 0 1.5 0 1.5 0 1.5 0 1.5 .1 1.5 0 1.5 .1 1.5 0 1.2 .1 1.3 0 1.5 0 1.5 .1 1.5 0 1.5 .1 1.5 .1 1.1 .2 1.4 .2 1.5 .2 1.5 .6-1 .5-1.5 .3-1.5 .2-1.5 .2-1.5 .1-1.5 .1-1.3 .1-1.2 .1-1.5 .1-1.5 0-1.5 0-1.5 .1-1.5 0-1.5 .1-1.5 0-1.5 0-1.5 .1-1.5 0-1.5 0-1.5 .1-1.5 .1-1.5 0-1.5 .1-1.5 0-1.5 0-1.5 .1-1.5 0-1.5 .1-1.5 0-1.5 0-1.5-.1-1.5 0-1.5 0-1.5 .1-1.5 0-1.5 .1-1.5 .1-1.5 .1-1.5 0-1.5 .1-1.5 0-1.5 0-1.5 0-1.5 0-1.5 0-1.5 0-1.5 0-1.5 .1-1.5 0-1.5 0-1.5 .1-1.5 0-1.5 .1-1.5 .1-1.5 0-1.5 .1-1.5 0-1.5 0-1.5 0-1.5 .1-1.5 0-1.5 .1-1.5 .3-1.5 0-1.5 0-1.5 0-1.5 .1-1.5 0-.5 0z"/><path d="M128 378.9l-1.5-.1-.4-1-.2-1.5 .2-1.5 .9-1.4 1.2 .4 .5 1.5 .1 1.5-.3 1.2-.5 .9z"/><path d="M441.5 211.3l-1.5 .3-1.5-.1-1.5 0-1.5 .1-1.5 .1-1.5 0-1.5 0-1.5 0-1.5 .1-1.5 0-1.5 0-1.5 0-1.5 0-1.5 0-1.5 0-1.5 0-1.5 0-1.5 0-1.5 0-1.5 0-1.5-.1-1.5 .1-1.5 0-1.5 0-1.5-.1-1.5 0-1.5 0-1.5 0-1.5 .1-1.5 0-1.5 0-1.5-.1-1.5 0-1.5 0-1.5 0-1.5 0-1.5 0-1.5 0-1.5 0-1.4-.4-1.1-.7-.8-1.3-.2-1.5 .5-1.3 1-1.1 1-.5 1.5-.1 1.5 0 1.5 0 1.5-.1 1.5 0 1.5 0 1.5 0 1.5-.1 1.5 0 1.5 0 1.5 0 1.5-.1 1.5 0 1.5 0 1.5 0 1.5 0 1.5 0 1.5 0 1.5 0 1.5 0 1.5 0 1.5 0 1.5 0 1.5 0 1.5 0 1.5 0 1.5 0 1.5 0 1.5 0 1.5 0 1.5 0 1.5 0 1.5 0 1.5 0 1.5 .1 1.5 0 1.5 .1 1.5-.1 1.5 0 1.5 .3 1.5 0 1.5 .1 1.5 0 1.5 0 1.5 0 1.5 0 1.5 0 1.5 .1 1.5 0 1.5 .2 1.5 0 1.5 .1 1.5 0 1.5 0 1.5 0 1.5 0 1.5 0 1.5 0 1.5 0 1.5 0 1.5 0 1.5 .1 1.5 0 1.5 .1 1.5 0 1.5 .1 1.5 0 1.5 .1 1.5 0 1.5 0 1.5 0 1.5 0 1.5 0 1.5 0 1.5 0 1.5 .1 1.5 0 1.5 .1 1.5 0 1.5 .1 1.5 .1 1.5 0 1.5 0 1.5-.1 1.5 .1 1.5 0 1.5 0 1.5 .1 1.5 0 1.5 0 1.5 .1 1.5 0 1.5 .1 1.5 0 1.5 .1 1.5 0 1.5 .2 1.5 .1 1.5 .3 1.5 .5-1 .6-1.5 .3-1.5 .2-1.5 .2-1.5 .1-1.5 .1-1.5 .1-1.5 0-1.5 0-1.5 .1-1.5 0-1.5 .1-1.5 0-1.5 .1-1.5 0-1.5 .1-1.5 0-1.5 0-1.5 .1-1.3 0-1.2 .1-1.5 0-1.5 0-1.5 .1-1.5 .1-1.5 0-1.5 .1-1.5 0-1.5-.1-1.5 0-1.5 0-1.5 0-1.5 0-1.5 .1-1.5 0-1.5 .1-1.5 .1-1.5 .1-1.5 0-1.5 .1-1.5 0-1.5 0-1.5 0-1.5 0-1.5 0-1.5 0-1.5 0-1.5 .1-1.5 0-1.5 0-1.5 .1-1.5 0-1.5 .1-1.5 .1-1.5 0-1.5 .1-1.5 0-1.5 0-1.5 0-1.5 .1-1.3 .1-.2 0z"/><path d="M127.5 378l-.9-.7-.1-1.2 .4-1.3 1.1 .3 .2 1.2-.5 1.5-.2 .2z"/><path d="M440.5 211.3l-1.5 .1-1.5-.1-1.5 .1-1.5 .1-1.5 .1-1.5 0-1.5 0-1.5 .1-1.5 0-1.5 0-1.5 0-1.5 0-1.5 0-1.5 0-1.5 0-1.5 0-1.5 0-1.5 0-1.5 0-1.5 0-1.5 0-1.5 0-1.5 0-1.5 0-1.5-.1-1.5 0-1.5 .1-1.5 0-1.5 0-1.5 0-1.5 0-1.5 0-1.5-.1-1.5 0-1.5 0-1.5 0-1.5 0-1.5 0-1.5-.2-1-.6-.9-1-.5-1.5 .3-1.5 .7-1 1.4-.9 1.5-.1 1.5 0 1.5 0 1.5 0 1.5 0 1.5 0 1.5 0 1.5 0 1.5 0 1.5-.1 1.5 0 1.5 0 1.5 0 1.5 0 1.5 0 1.5 0 1.5 0 1.5 0 1.5 0 1.5-.1 1.5 0 1.5 0 1.5 0 1.5 0 1.5 0 1.5 0 1.5 0 1.5 0 1.5 0 1.5 0 1.5 0 1.5 0 1.5 0 1.5 .1 1.5 .1 1.5 0 1.5 0 1.5 0 1.5 0 1.5 .2 1.5 .1 1.5 0 1.5 .1 1.5 0 1.5 0 1.5 0 1.5 .1 1.5 0 1.5 0 1.5 .1 1.5 .1 1.5 0 1.5 .1 1.5 0 1.5-.1 1.5 0 1.5 .1 1.5 0 1.5 0 1.5 0 1.5 0 1.5 0 1.5 .1 1.5 .1 1.5 0 1.5 .1 1.5 0 1.5 0 1.5 .1 1.5 0 1.5-.1 1.5 0 1.5 0 1.5 0 1.5 0 1.5 .1 1.5 .1 1.5 0 1.5 .1 1.5 .1 1.5 0 1.5 .1 1.5 0 1.5-.1 1.5 .1 1.5 0 1.5 0 1.5 0 1.5 0 1.5 .1 1.5 .1 1.5 0 1.5 0 1.5 .1 1.5 .1 1.5 .1 1.5 .1 1.5 .2 1.3 .6-1 .5-1.3 .2-1.5 .2-1.5 .2-1.5 .1-1.5 .1-1.5 0-1.5 .1-1.5 0-1.5 0-1.5 .1-1.5 0-1.5 .1-1.5 .1-1.5 0-1.5 0-1.5 .1-1.5 0-1.5 .1-1.5 0-1.5 0-1.5 .1-1.4 0-1.1 .1-1.5 .1-1.5 0-1.5 0-1.5 0-1.5-.1-1.5 0-1.5 0-1.5 .1-1.5 0-1.5 .1-1.5 .1-1.5 0-1.5 .1-1.5 .1-1.5 0-1.5 0-1.5 0-1.5 0-1.5 0-1.5 0-1.5 0-1.5 .1-1.5 0-1.5 .1-1.5 0-1.5 0-1.5 .1-1.5 0-1.5 .1-1.5 0-1.5 .1-1.5 0-1.5 0-1.5 .1-1.5 0-1.5 .2-1 .1z"/><path d="M434.5 211.3l-1.5 .1-1.5 .1-1.5 0-1.5 0-1.5 .1-1.5 0-1.5 0-1.5-.1-1.5 .1-1.5 0-1.5-.1-1.5 0-1.5 .1-1.5 0-1.5 0-1.5-.1-1.5 .1-1.5 0-1.5 0-1.5-.1-1.5 0-1.5 0-1.5 0-1.5 .1-1.5 0-1.5 0-1.5 0-1.5 0-1.5-.1-1.5 0-1.5 0-1.5 0-1.5 0-1.5 0-1.3-.2-1.1-.5-1-1-.4-1.5 .3-1.3 .8-1.2 1.2-.8 1.5-.1 1.5 0 1.5 0 1.5 0 1.5 0 1.5 0 1.5 0 1.5 0 1.5 0 1.5-.1 1.5 0 1.5 0 1.5 0 1.5 0 1.5 0 1.5 0 1.5 0 1.5 0 1.5 0 1.5 0 1.5 0 1.5 0 1.5 0 1.5 0 1.5 0 1.5 0 1.5 0 1.5 0 1.5 0 1.5 0 1.5 0 1.5 0 1.5 0 1.5 .1 1.5 0 1.5 0 1.5 .1 1.5-.1 1.5 0 1.5 .3 1.5 .1 1.5 0 1.5 0 1.5 .1 1.5 0 1.5 0 1.5 0 1.5 0 1.5 .1 1.5 .1 1.5 .1 1.5 .1 1.5 0 1.5 0 1.5 0 1.5 0 1.5 0 1.4 0 1.1 0 1.5 0 1.5 0 1.5 0 1.5 .1 1.5 0 1.5 0 1.5 .1 1.5 0 1.5 .1 1.5 0 1.5 0 1.5 0 1.5 0 1.5 0 1.5 0 1.5 0 1.5 .1 1.5 .1 1.5 0 1.5 .1 1.5 0 1.5 .1 1.5 0 1.5 0 1.5 0 1.5 0 1.5 .1 1.5 0 1.5 0 1.5 0 1.5 .1 1.5 .1 1.5 0 1.5 .1 1.5 0 1.5 .1 1.5 .1 1.5 .2 1.5 .5-1.2 .5-1.3 .2-1.5 .2-1.4 .1-1.1 .1-1.5 0-1.5 0-1.5 .1-1.5 0-1.5 .1-1.5 .1-1.5 0-1.5 0-1.5 .1-1.5 0-1.5 0-1.5 .1-1.5 .1-1.5 .1-1.5 0-1.5 0-1.5 .1-1.5 0-1.5 .1-1.5 0-1.5 0-1.5 0-1.5-.1-1.5 0-1.5 0-1.5 .1-1.2 0-1.3 .1-1.5 .1-1.5 .1-1.5 .1-1.5 0-1.5 0-1.5 0-1.5 0-1.5 0-1.5 0-1.5 0-1.5 0-1.5 .1-1.5 0-1.5 0-1.5 .1-1.5 .1-1.5 0-1.5 .1-1.5 0-1.5 .1-1.5 0-1.5 0-1.5 0-1.5 .1-1.5 0-1.5 .3-1.5 .1-1.5 0-1.5 0-1.5 .1-1 0z"/><path d="M429 211.3l-1.5 .1-1.5 0-1.5 0-1.5 0-1.5 0-1.5 0-1.5 0-1.5 0-1.5 0-1.5 0-1.5 0-1.5 0-1.5 0-1.5 0-1.5 0-1.5 0-1.5-.1-1.5 0-1.5 .1-1.5 0-1.5 0-1.5 .1-1.5 0-1.5-.1-1.5 0-1.5 0-1.5 0-1.5 0-1.5-.1-1.5 0-1.5 0-1.2-.5-1-1-.5-1.5 .3-1.5 .9-1 1-.6 1.5-.2 1.5 0 1.5 0 1.5 0 1.5 0 1.5 0 1.5 0 1.5-.1 1.5 0 1.5 0 1.5 0 1.5 0 1.5 0 1.5 0 1.5 0 1.5 0 1.5 0 1.5 0 1.5 0 1.5 0 1.5 0 1.5 0 1.5 0 1.5 0 1.5 0 1.5 0 1.5 0 1.5 0 1.5 0 1.5 0 1.5 0 1.5 0 1.5 0 1.5 .1 1.5 0 1.5 .1 1.5 0 1.5 0 1.5 0 1.5 .3 1.5 .1 1.5 0 1.5 0 1.5 0 1.5 .1 1.5 0 1.5 0 1.5 0 1.5 .1 1.4 .1 1.6 .1 1.5 0 1.5 .1 1.5-.1 1.5 0 1.5 0 1.5 0 1.5 .1 1.5 0 1.5 0 1.5 0 1.5 0 1.5 0 1.5 .1 1.5 .1 1.5 0 1.2 .1 1.3 0 1.5 .1 1.5 0 1.5-.1 1.5 0 1.5 0 1.5 0 1.5 0 1.5 .1 1.5 .1 1.5 0 1.5 0 1.5 .1 1.5 .1 1.5 .1 1.5 0 1.5 0 1.5 0 1.5 0 1.5 0 1.5 .1 1.5 0 1.5 .1 1.5 .1 1.5 0 1.5 0 1.5 .1 1.5 .1 1.5 .3-1 .7-1.5 .2-1.5 .1-1.5 0-1.5 .1-1.5 0-1.5 .1-1.5 .1-1.5 0-1.5 .1-1.5 0-1.5 .1-1.5 0-1.5 0-1.5 .1-1.5 .1-1.5 0-1.5 .1-1.5 0-1.5 .1-1.5 .1-1.5 0-1.5 0-1.5 0-1.5 0-1.5-.1-1.5 0-1.5 .1-1.5 0-1.5 .1-1.5 0-1.1 .1-1.4 .1-1.5 .1-1.5 0-1.5 .1-1.5 0-1.5 0-1.5 0-1.5-.1-1.5 0-1.5 .1-1.5 0-1.5 0-1.5 .1-1.5 0-1.5 .1-1.1 0-1.4 .1-1.5 .1-1.5 0-1.5 0-1.5 .1-1.5 0-1.5 0-1.5 .1-1.3 .1-1.2 .3-1.5 0-1.5-.1-1.5 .1-1.5 .1-1.5 .1-1.5 0-1.5 0-1 0z"/><path d="M440.5 210.8l-1.5 .1-1.5-.1-1.5 .1-1.5 .2-1.5 0-1.5 .1-1.5 0-1.5 0-1.5 0-1.5 0-1.5 0-1.5 0-1.5 .1-1.5 0-1.5-.1-1.5 0-1.5 .1-1.5 0-1.5 0-1.5-.1-1.5 .1-1.5 0-1.5 0-1.5 0-1.5-.1-1.5 0-1.5 .1-1.5 0-1.5 0-1.5 0-1.5 0-1.5 0-1.5 0-1.5 0-1.5 0-1.5 0-1.5 0-1.5-.1-1.5-.1-1-.6-.9-1.2-.1-1.4 .2-1.1 .8-.9 1-.6 1.5-.2 1.5 0 1.5 0 1.5 0 1.5 0 1.5 0 1.5 0 1.5 0 1.5-.1 1.5 0 1.5 0 1.5 0 1.5 0 1.5 0 1.5 0 1.5 0 1.5 0 1.5 0 1.5 0 1.5 0 1.5 0 1.5 0 1.5 0 1.5 0 1.5 0 1.5 0 1.5 0 1.5 0 1.5 0 1.5 0 1.5 0 1.5 0 1.5 .1 1.5 0 1.5 .1 1.4 .1 1.6 0 1.5 0 1.5 0 1.5 .2 1.5 .2 1.5 0 1.5 0 1.5 .1 1.4 0 1.1 0 1.5 0 1.5 0 1.5 .1 1.5 0 1.5 .2 1.5 .1 1.5 0 1.5 0 1.5 0 1.5-.1 1.5 .1 1.5 0 1.5 0 1.5 0 1.5 0 1.5 0 1.5 .1 1.5 0 1.5 .1 1.5 0 1.5 .1 1.5 .1 1.5 0 1.5 0 1.5 0 1.5-.1 1.5 0 1.5 0 1.5 0 1.5 .1 1.5 .1 1.5 .1 1.5 0 1.5 .1 1.5 .1 1.5 .1 1.5 0 1.5-.1 1.5 .1 1.5 0 1.5 .1 1.5 0 1.5 0 1.4 .1 1.1 .2 1.5 .1 1.5 0 1.5 .1-1.5 .4-1.5 .1-1.1 .1-1.4 .1-1.5 .1-1.5 .1-1.5 0-1.5 .1-1.5 .1-1.5 0-1.5 0-1.5 .1-1.5 .1-1.5 .1-1.5 0-1.5 0-1.5 .1-1.5 .1-1.5 .1-1.5 0-1.5 0-1.5 0-1.5-.1-1.5 0-1.5 0-1.5 0-1.5 .1-1.5 .1-1.5 .1-1.5 .1-1.5 0-1.5 .1-1.5 0-1.5 0-1.5 0-1.5 0-1.5 0-1.5 0-1.5 0-1.5 0-1.5 .1-1.5 0-1.5 .1-1.5 .1-1.5 0-1.5 .1-1.5 0-1.5 .1-1.5 0-1.1 0-1.4 0-1.5 .1-1.5 0-1.5 .2-1.3 .2-.2 0z"/><path d="M435 210.8l-1.5 .1-1.5 .1-1.5 0-1.5 0-1.5 .1-1.5 0-1.5 0-1.5 0-1.5 0-1.5 0-1.5 0-1.5 0-1.5 0-1.5 .1-1.5 0-1.5-.1-1.5 0-1.5 .1-1.5 0-1.5 0-1.5-.1-1.5 0-1.5 .1-1.5 0-1.5 0-1.5 0-1.5 0-1.5 0-1.5 0-1.5 0-1.5 0-1.5 0-1.5 0-1.5 0-1.5-.1-1.5-.8-.8-1-.1-1.5 .4-1.1 .8-.9 1.2-.5 1.3 0 1.2 0 1.5 0 1.5 0 1.5 0 1.5 0 1.5 0 1.5-.1 1.5 0 1.5 0 1.5-.1 1.5 0 1.5 .1 1.5 0 1.5-.1 1.5 0 1.5 .1 1.5 0 1.5 0 1.5 0 1.5 0 1.5 0 1.5 0 1.5 0 1.5 0 1.5 0 1.5 0 1.5 0 1.5 0 1.5 0 1.5 0 1.5 0 1.4 .1 1.1 0 1.5 .1 1.5 0 1.5 .1 1.5 0 1.5-.1 1.5 .2 1.5 .3 1.5 0 1.5 0 1.5 0 1.5 .1 1.5 0 1.5 0 1.5 0 1.5 .1 1.5 .1 1.2 .1 1.3 .1 1.5 .1 1.5-.1 1.5 0 1.5 0 1.5 0 1.5 0 1.5 0 1.5 0 1.5 0 1.5 0 1.5 .1 1.5 0 1.5 .1 1.5 .1 1.5 .1 1.5 0 1.5 .1 1.5 0 1.5 0 1.5-.1 1.5-.1 1.5 0 1.5 0 1.3 .1 1.2 .1 1.5 .1 1.5 .1 1.5 0 1.5 .1 1.5 .2 1.5 .2 1.5 0 1.5-.1 1.5 .1 1.5 .1 1.3 .1-1.3 .2-1.5 .3-1.5 0-1.5 .1-1.5 0-1.5 .1-1.5 .2-1.3 .1-1.2 0-1.5 .1-1.5 .1-1.5 .1-1.5 .1-1.5 0-1.5-.1-1.5 0-1.5-.1-1.5 0-1.5 0-1.5 0-1.5 .1-1.5 .1-1.5 .1-1.5 .2-1.5 0-1.5 .1-1.5 0-1.5 0-1.5 0-1.5 0-1.5 0-1.5 0-1.5 0-1.5 0-1.5 0-1.5 .1-1.5 0-1.3 .1-1.2 .1-1.5 .1-1.5 0-1.5 .1-1.5 0-1.5 0-1.5 .1-1.5 0-1.5 0-1.5 .3-1.5 .2-1.5 0-1.5 0-1.5 .1-.5 0z"/><path d="M429.5 210.8l-1.5 .1-1.5 0-1.5 0-1.5 0-1.5 0-1.5 .1-1.5 0-1.5 0-1.5 0-1.5 0-1.5 0-1.5 0-1.5 0-1.5 0-1.5 .1-1.5-.1-1.5 0-1.5 0-1.5 0-1.5 .1-1.5 0-1.5 0-1.5 0-1.5 0-1.5 0-1.5 0-1.5 0-1.5 0-1.5 0-1.5 0-1.5-.1-1.5-.4-.8-.8-.5-1 .1-1.5 .6-1 1.1-.8 1.5-.1 1.5 0 1.5 0 1.5 0 1.5 0 1.5 0 1.5 0 1.5-.1 1.5 0 1.5 0 1.5 0 1.5 0 1.5 0 1.5 0 1.5 0 1.5 0 1.5 0 1.5 .1 1.5 0 1.5-.1 1.5 0 1.5 .1 1.5 0 1.5 0 1.5 0 1.5 0 1.5 0 1.5 0 1.5 0 1.5 0 1.5 0 1.5 0 1.5 0 1.5 .1 1.5 .1 1.5 0 1.5 .1 1.5 0 1.5 0 1.5 .3 1.5 .1 1.5 .1 1.5 0 1.5 0 1.5 .1 1.5 0 1.5 0 1.5 0 1.5 .1 1.5 .1 1.5 .1 1.5 .2 1.5 0 1.5-.1 1.5 0 1.5 0 1.5 0 1.5 0 1.5 0 1.5 0 1.5 0 1.5 .1 1.5 0 1.5 .1 1.5 .1 1.5 .1 1.5 .1 1.5 .1 1.5 0 1.5 0 1.5-.1 1.5-.1 1.5-.1 1.5 0 1.5 .1 1.5 .1 1.5 .3 1.5 .1 1.5 .1-1 .7-1.5 0-1.5 .2-1.5 .2-1.5 .1-1.5 0-1.5-.1-1.5-.1-1.5-.1-1.5 0-1.5-.1-1.5 .1-1.5 .1-1.5 .2-1.5 .1-1.5 .1-1.5 .1-1.5 .1-1.5 0-1.5 0-1.5 0-1.5 0-1.5 0-1.5 0-1.5 0-1.5 0-1.5 0-1.5 .1-1.5 .1-1.5 .1-1.5 .1-1.5 0-1.5 .1-1.5 0-1.5 0-1.5 .1-1.5 0-1.5 0-1.5 .2-1.2 .2-1.3 .2-1.5 0-1.5 0-1.5 .1-1.5 .1-1.5 .1-1.5 0-1.5 0z"/><path d="M413.5 210.8l-1.3 0-1.2 0-1.5 0-1.5 .1-1.5 0-1.5 0-1.5-.1-1.5 0-1.5 0-1.5 .1-1.5 .1-1.5 0-1.5 0-1.5-.1-1.5 0-1.5 0-1.5 0-1.5 0-1.5 0-1.5 0-1.5-.1-1.1-.5-.9-1-.2-1.5 .7-1.4 1-.7 1.5-.2 1.5 0 1.5 0 1.5 0 1.5 0 1.5 0 1.5 0 1.5-.1 1.5 0 1.5 0 1.5 0 1.5 0 1.5 0 1.5 0 1.5 0 1.5 0 1.5 .1 1.5 0 1.5 0 1.5 0 1.5 0 1.5 0 1.5 0 1.5 0 1.5 0 1.5 0 1.5 0 1.5 0 1.5 0 1.5 0 1.5 0 1.5 .1 1.5 0 1.5 .1 1.5 .1 1.5 .1 1.5 .1 1.5-.1 1.5 0 1.5 .3 1.5 .2 1.5 0 1.5 .1 1.5 0 1.5 .1 1.5 0 1.5 0 1.5 0 1.5 .1 1.1 .1 1.4 .2 1.5 .1 1.5 .1 1.5 0 1.5-.1 1.5-.1 1.5 .1 1.5 0 1.5 0 1.5 0 1.5 0 1.5 0 1.5 .1 1.5 .1 1.5 .2 1.5 .2-1 .7-1.5 .2-1.5 .2-1.5 .1-1.5 0-1.5 0-1.5 0-1.5 0-1.5 0-1.5 0-1.5 0-1.5 0-1.5 0-1.5 0-1.5 .1-1.5 .1-1.5 .2-1.5 .1-1.5 0-1.5 .1-1.5 0-1.5 .1-1.5 0-1.5 0-1.5 .1-1.1 .1-1.4 .4-1.5 .1-1.5-.1-1.5 .1-1.5 .1-1.5 .2-1.5 0-1.5 0-1.5 .1-1.5 0-1.5 .1-1.5 0-1.5-.1-1.5 .1-1.5 0-1.5 0-1.5 0-1.5 0-1.5 0-.5 0z"/><path d="M494.5 208.3l-1.5 .1-1.5 0-1.5-.3 1.5-.5 1.5-.1 1.5 .2 0 .6z"/>
</g>
</g>

<g fill="none" stroke="#701c22" stroke-width="1.6" stroke-linejoin="round">
<path d="M68.4 58.9C70.3 58.8 76.4 58.6 80.0 58.5C83.6 58.4 86.8 58.3 90.0 58.0C93.2 57.7 96.7 56.9 98.9 56.8C101.1 56.7 101.2 57.5 103.0 57.5C104.8 57.5 107.5 56.9 110.0 57.0C112.5 57.1 115.7 57.8 118.0 58.0C120.3 58.2 122.7 58.5 124.0 58.0C125.3 57.5 125.5 56.0 126.0 55.0C126.5 54.0 126.9 51.9 127.3 52.2C127.7 52.5 128.1 55.9 128.5 57.0C128.9 58.1 128.7 58.8 129.8 59.0C130.9 59.2 133.3 58.4 135.0 58.0C136.7 57.6 138.3 56.8 140.0 56.5C141.7 56.2 143.1 56.7 145.0 56.5C146.9 56.3 149.2 55.1 151.4 55.1C153.6 55.1 155.7 55.9 158.0 56.5C160.3 57.1 162.2 58.0 165.0 58.5C167.8 59.0 160.8 59.1 175.0 59.2C189.2 59.4 225.8 59.6 250.0 59.4C274.2 59.2 303.3 58.4 320.0 58.0C336.7 57.6 343.3 57.2 350.0 57.0C356.7 56.8 357.0 57.0 360.0 56.5C363.0 56.0 366.0 55.1 368.0 54.0C370.0 52.9 370.8 52.3 372.0 50.0C373.2 47.7 374.2 45.0 375.0 40.0C375.8 35.0 376.5 26.7 377.0 20.0C377.5 13.3 377.7 3.3 377.8 0.0"/><path d="M381.0 0.0C381.0 11.2 380.6 56.2 381.0 67.5C381.4 78.8 382.8 67.8 383.5 67.6C384.2 67.3 384.8 66.7 385.5 66.0C386.2 65.3 386.8 64.3 388.0 63.2C389.2 62.1 391.0 60.4 393.0 59.5C395.0 58.6 397.5 58.2 400.0 57.8C402.5 57.4 406.0 57.5 408.0 57.0C410.0 56.5 410.8 55.0 412.0 55.0C413.2 55.0 413.7 57.2 415.0 57.0C416.3 56.8 418.7 54.8 420.0 54.0C421.3 53.2 421.8 52.5 423.0 52.5C424.2 52.5 425.5 53.2 427.0 54.0C428.5 54.8 429.8 56.6 432.0 57.0C434.2 57.4 437.0 56.3 440.0 56.5C443.0 56.7 446.7 57.8 450.0 58.0C453.3 58.2 456.7 57.9 460.0 57.5C463.3 57.1 467.3 56.4 470.0 55.5C472.7 54.6 474.5 53.6 476.0 52.0C477.5 50.4 478.2 48.0 479.0 46.0C479.8 44.0 480.2 40.3 481.0 40.0C481.8 39.7 482.7 42.3 483.5 44.0C484.3 45.7 485.2 48.8 486.0 50.0C486.8 51.2 487.0 50.2 488.0 51.0C489.0 51.8 490.5 53.8 492.0 55.0C493.5 56.2 494.0 57.4 497.0 58.0C500.0 58.6 506.2 58.5 510.0 58.5C513.8 58.5 517.2 58.2 520.0 58.0C522.8 57.8 525.5 57.7 527.0 57.0C528.5 56.3 528.5 54.0 529.3 54.0C530.0 54.0 530.8 57.4 531.5 57.0C532.2 56.6 532.9 52.2 533.5 51.5C534.1 50.8 534.5 53.2 535.0 53.0C535.5 52.8 536.1 52.2 536.5 50.0C536.9 47.8 537.2 44.7 537.5 40.0C537.8 35.3 538.2 27.3 538.5 22.0C538.8 16.7 539.2 11.1 539.5 8.0C539.8 4.9 539.7 2.8 540.0 3.5C540.3 4.2 541.0 12.6 541.5 12.0C542.0 11.4 542.8 2.0 543.0 0.0"/><path d="M551.3 0.0C551.4 1.7 551.7 7.2 552.0 10.0C552.3 12.8 552.7 14.0 553.0 17.0C553.3 20.0 553.6 24.2 554.0 28.0C554.4 31.8 555.1 37.8 555.5 40.0C555.9 42.2 556.0 42.7 556.3 41.0C556.6 39.3 557.1 33.5 557.5 30.0C557.9 26.5 558.2 19.2 558.5 20.0C558.8 20.8 559.0 30.5 559.3 35.0C559.5 39.5 559.7 44.8 560.0 47.0C560.3 49.2 560.7 48.3 561.0 48.0C561.3 47.7 561.6 44.8 562.0 45.0C562.4 45.2 563.0 48.7 563.5 49.0C564.0 49.3 564.5 46.5 565.0 47.0C565.5 47.5 566.0 50.8 566.5 52.0C567.0 53.2 567.1 54.0 568.0 54.5C568.9 55.0 570.7 54.8 572.0 55.0C573.3 55.2 574.7 55.2 576.0 55.5C577.3 55.8 578.9 56.7 580.0 56.5C581.1 56.3 581.7 54.4 582.5 54.5C583.3 54.6 583.8 56.5 585.0 57.0C586.2 57.5 587.5 57.2 590.0 57.5C592.5 57.8 598.3 58.3 600.0 58.5"/>
<path d="M59.9 68.6C59.6 70.0 59.2 74.4 58.3 77.1C57.4 79.8 57.6 82.6 54.4 84.9C51.2 87.2 45.4 89.4 38.9 91.1C32.4 92.8 22.1 94.0 15.6 95.0C9.1 96.0 2.6 96.7 0.0 97.0"/><path d="M0.0 107.0C3.9 107.2 15.5 107.6 23.3 108.2C31.1 108.8 41.8 109.6 46.7 110.5C51.6 111.4 51.1 112.3 52.9 113.7C54.7 115.1 56.5 117.1 57.5 119.0C58.5 120.9 58.8 123.2 59.1 125.0C59.4 126.8 59.7 128.1 59.4 129.7C59.1 131.2 58.9 132.9 57.5 134.3C56.1 135.7 54.1 137.0 51.3 138.2C48.4 139.4 43.8 140.4 40.4 141.3C37.0 142.2 31.6 143.0 31.1 143.7C30.6 144.3 34.4 144.4 37.3 145.2C40.1 146.0 45.8 147.5 48.2 148.3C50.6 149.1 50.5 148.9 51.7 150.0C52.9 151.1 54.4 153.1 55.6 154.7C56.8 156.2 58.0 158.0 58.7 159.3C59.4 160.6 59.9 161.4 59.9 162.4C59.9 163.4 59.3 164.6 58.7 165.6C58.1 166.6 56.8 167.7 56.3 168.7C55.8 169.7 55.9 170.8 55.6 171.8C55.4 172.8 55.3 174.0 54.8 174.9C54.3 175.8 53.2 176.4 52.4 177.2C51.6 178.0 50.2 178.7 50.1 179.5C50.0 180.3 50.9 181.1 51.7 181.9C52.5 182.7 54.1 183.3 54.8 184.2C55.4 185.1 55.6 186.3 55.6 187.3C55.6 188.3 54.8 189.4 54.8 190.4C54.8 191.4 55.6 192.4 55.6 193.5C55.6 194.6 54.8 195.8 54.8 196.7C54.8 197.6 55.2 198.4 55.6 199.0C56.0 199.6 56.3 200.1 57.1 200.5C57.9 200.9 58.9 201.0 60.2 201.3C61.5 201.7 65.2 202.3 64.9 202.6C64.7 202.9 61.3 203.0 58.7 203.2C56.1 203.4 52.4 203.5 49.3 203.7C46.2 203.8 48.2 203.9 40.0 204.1C31.8 204.3 6.7 204.7 0.0 204.8"/><path d="M0.0 211.8C6.7 211.9 31.8 212.1 40.0 212.2C48.2 212.3 46.7 212.4 49.3 212.5C51.9 212.6 53.8 212.8 55.6 213.0C57.4 213.2 59.8 213.4 60.2 213.8C60.6 214.2 57.9 214.8 57.9 215.3C57.9 215.8 59.7 216.1 60.2 216.9C60.7 217.7 60.8 216.7 61.0 220.0C61.2 223.3 61.3 230.0 61.4 236.7C61.5 243.4 61.7 251.9 61.7 260.0C61.7 268.1 61.4 274.8 61.2 285.0C61.0 295.2 60.6 312.0 60.4 321.0C60.2 330.0 60.7 334.9 60.2 338.9C59.7 342.9 58.5 343.2 57.6 345.1C56.7 347.0 55.4 349.1 54.9 350.4C54.4 351.7 54.2 351.8 54.5 353.1C54.8 354.4 56.1 356.8 56.7 358.4C57.4 360.0 58.4 361.4 58.4 362.9C58.4 364.4 56.6 365.8 56.7 367.3C56.8 368.8 58.8 370.3 58.8 371.8C58.8 373.3 56.8 374.6 56.7 376.2C56.6 377.8 57.8 379.5 58.4 381.6C59.0 383.7 59.8 386.0 60.2 388.7C60.7 391.4 60.9 394.5 61.1 397.6C61.3 400.7 61.5 405.7 61.6 407.3"/>
</g>
<rect x="68" y="68.3" width="532" height="339.2" fill="none" stroke="#111" stroke-width="2"/>
<g stroke="#8a8a8a" stroke-width="1.2">
<line x1="68" y1="410.3" x2="600" y2="410.3"/>
<line x1="603.6" y1="68" x2="603.6" y2="407.5"/>
<line x1="67.7" y1="410" x2="67.7" y2="414"/><line x1="95.7" y1="410" x2="95.7" y2="412"/><line x1="123.6" y1="410" x2="123.6" y2="414"/><line x1="151.5" y1="410" x2="151.5" y2="412"/><line x1="179.5" y1="410" x2="179.5" y2="414"/><line x1="207.4" y1="410" x2="207.4" y2="412"/><line x1="235.3" y1="410" x2="235.3" y2="414"/><line x1="263.3" y1="410" x2="263.3" y2="412"/><line x1="291.2" y1="410" x2="291.2" y2="414"/><line x1="319.2" y1="410" x2="319.2" y2="412"/><line x1="347.1" y1="410" x2="347.1" y2="414"/><line x1="375.0" y1="410" x2="375.0" y2="412"/><line x1="403.0" y1="410" x2="403.0" y2="414"/><line x1="430.9" y1="410" x2="430.9" y2="412"/><line x1="458.9" y1="410" x2="458.9" y2="414"/><line x1="486.8" y1="410" x2="486.8" y2="412"/><line x1="514.7" y1="410" x2="514.7" y2="414"/><line x1="542.7" y1="410" x2="542.7" y2="412"/><line x1="570.6" y1="410" x2="570.6" y2="414"/><line x1="598.5" y1="410" x2="598.5" y2="412"/><line x1="603.5" y1="69.2" x2="605.5" y2="69.2"/><line x1="603.5" y1="87.0" x2="607" y2="87.0"/><line x1="603.5" y1="104.8" x2="605.5" y2="104.8"/><line x1="603.5" y1="122.6" x2="607" y2="122.6"/><line x1="603.5" y1="140.3" x2="605.5" y2="140.3"/><line x1="603.5" y1="158.1" x2="607" y2="158.1"/><line x1="603.5" y1="175.9" x2="605.5" y2="175.9"/><line x1="603.5" y1="193.7" x2="607" y2="193.7"/><line x1="603.5" y1="211.5" x2="605.5" y2="211.5"/><line x1="603.5" y1="229.3" x2="607" y2="229.3"/><line x1="603.5" y1="247.0" x2="605.5" y2="247.0"/><line x1="603.5" y1="264.8" x2="607" y2="264.8"/><line x1="603.5" y1="282.6" x2="605.5" y2="282.6"/><line x1="603.5" y1="300.4" x2="607" y2="300.4"/><line x1="603.5" y1="318.2" x2="605.5" y2="318.2"/><line x1="603.5" y1="336.0" x2="607" y2="336.0"/><line x1="603.5" y1="353.7" x2="605.5" y2="353.7"/><line x1="603.5" y1="371.5" x2="607" y2="371.5"/><line x1="603.5" y1="389.3" x2="605.5" y2="389.3"/><line x1="603.5" y1="407.1" x2="607" y2="407.1"/>
</g>
<g font-family="Liberation Serif, serif" font-size="15.4" fill="#262626" style="filter:grayscale(1)">
<text x="123.6" y="432.5" text-anchor="middle">7.0</text><text x="179.5" y="432.5" text-anchor="middle">6.5</text><text x="235.3" y="432.5" text-anchor="middle">6.0</text><text x="291.2" y="432.5" text-anchor="middle">5.5</text><text x="347.1" y="432.5" text-anchor="middle">5.0</text><text x="403.0" y="432.5" text-anchor="middle">4.5</text><text x="458.9" y="432.5" text-anchor="middle">4.0</text><text x="514.7" y="432.5" text-anchor="middle">3.5</text><text x="570.6" y="432.5" text-anchor="middle">3.0</text><text x="607.6" y="91.7">3.0</text><text x="607.6" y="127.3">3.5</text><text x="607.6" y="162.8">4.0</text><text x="607.6" y="198.4">4.5</text><text x="607.6" y="234.0">5.0</text><text x="607.6" y="269.5">5.5</text><text x="607.6" y="305.1">6.0</text><text x="607.6" y="340.7">6.5</text><text x="607.6" y="376.2">7.0</text><text x="607.6" y="411.8">7.5</text>
<text x="312" y="445" font-size="17.5">ppm</text>
<text x="634" y="245" font-size="17.5">ppm</text>
</g>
<g fill="none" stroke-width="1.8">
<circle cx="103.4" cy="115.6" r="9.7" stroke="#d43fe0"/>
<circle cx="105.2" cy="144.4" r="16" stroke="#6e2785"/>
<circle cx="131.3" cy="139.5" r="8.6" stroke="#e0343a"/>
<circle cx="481.7" cy="360.4" r="8.9" stroke="#e0343a"/>
<circle cx="479.3" cy="383.7" r="12.5" stroke="#6e2785"/>
<circle cx="524.2" cy="382" r="10.8" stroke="#d43fe0"/>
</g>
<g font-family="Liberation Sans, sans-serif" font-size="16.3" style="filter:saturate(1.01)">
<text x="115.5" y="122" fill="#d43fe0">D,C,E/H<tspan font-size="12" dy="3">1</tspan></text>
<text x="168.9" y="141.2" fill="#e0343a">B/H<tspan font-size="12" dy="3">3</tspan><tspan dy="-3">,H</tspan><tspan font-size="12" dy="3">4</tspan></text>
<text x="122.8" y="161.5" fill="#6e2785">D,C,E/H<tspan font-size="12" dy="3">3</tspan><tspan dy="-3">,H</tspan><tspan font-size="12" dy="3">4</tspan></text>
</g>

</svg>
</body></html>
